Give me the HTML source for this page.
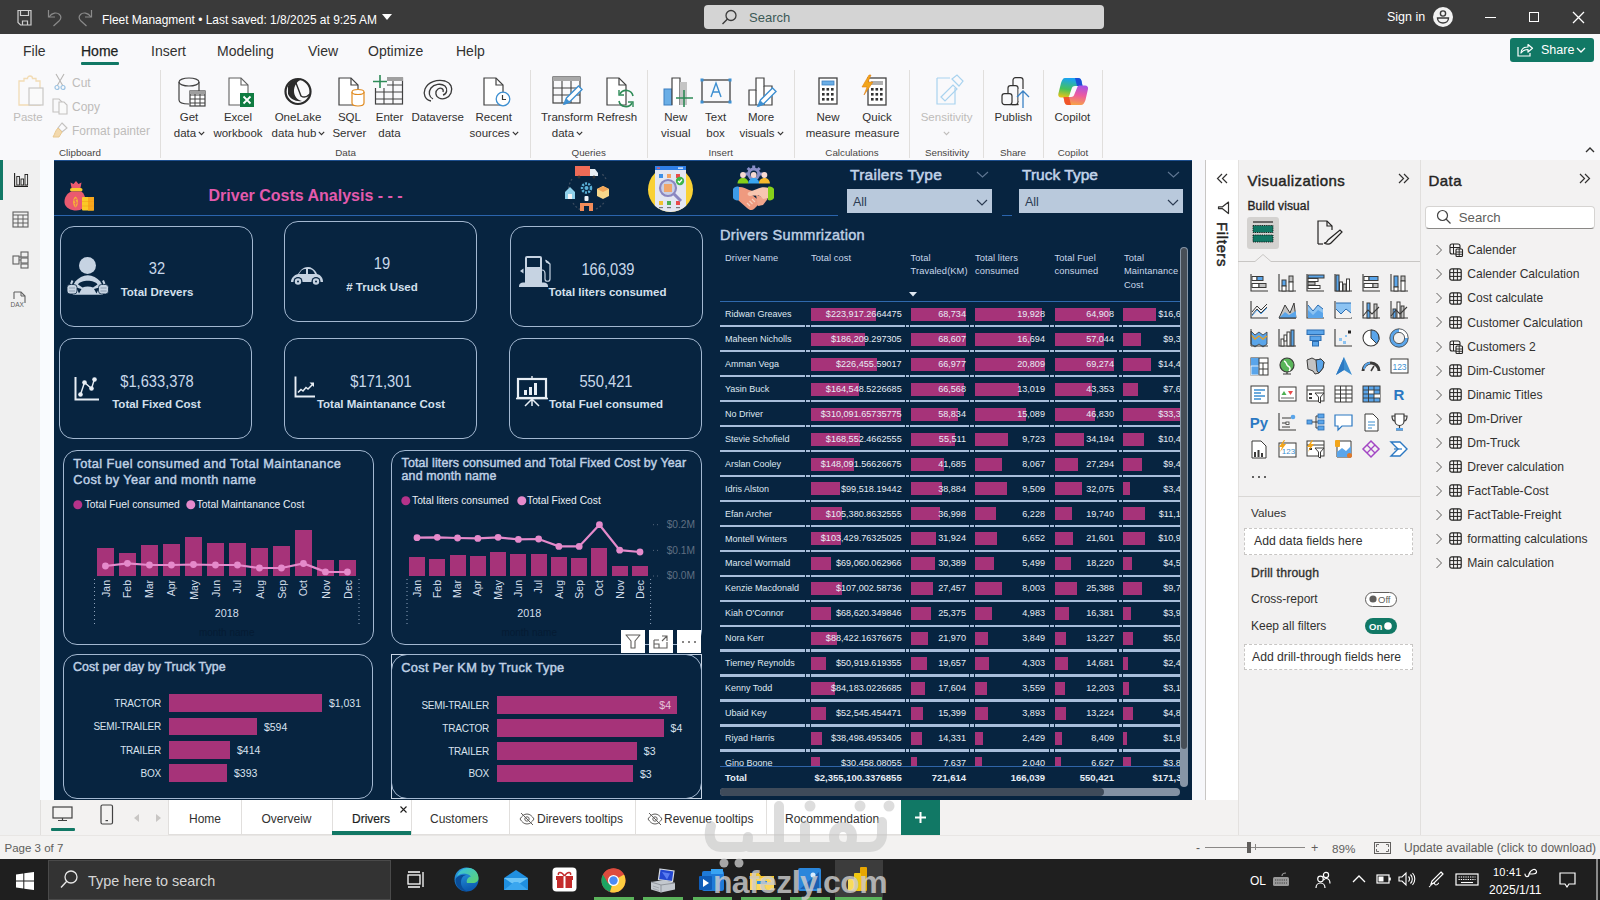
<!DOCTYPE html>
<html><head><meta charset="utf-8"><style>
html,body{margin:0;padding:0;width:1600px;height:900px;overflow:hidden;background:#fff;font-family:"Liberation Sans", sans-serif;}
svg{overflow:visible}
</style></head><body>
<div style="position:absolute;left:0px;top:34px;width:1600px;height:126px;background:#f9f9fb"></div><div style="position:absolute;left:0px;top:160px;width:40px;height:675px;background:#f0f0f0"></div><div style="position:absolute;left:0px;top:160px;width:3px;height:40px;background:#117865"></div><div style="position:absolute;left:40px;top:160px;width:14px;height:640px;background:#f9fbfe"></div><div style="position:absolute;left:54px;top:160px;width:1138px;height:640px;background:#072440"></div><div style="position:absolute;left:1192px;top:160px;width:13px;height:640px;background:#f6f7fa"></div><div style="position:absolute;left:1205px;top:160px;width:33px;height:675px;background:#ffffff;border-left:1px solid #c8c6c4;box-sizing:border-box"></div><div style="position:absolute;left:1238px;top:160px;width:182px;height:675px;background:#f2f1f1;border-left:1px solid #e3e1df;box-sizing:border-box"></div><div style="position:absolute;left:1420px;top:160px;width:180px;height:675px;background:#f3f2f2;border-left:1px solid #e1dfdd;box-sizing:border-box"></div><div style="position:absolute;left:40px;top:800px;width:128px;height:35px;background:#f3f2f1"></div><div style="position:absolute;left:40px;top:800px;width:1px;height:35px;background:#e1dfdd"></div><div style="position:absolute;left:168px;top:800px;width:772px;height:35px;background:#ffffff"></div><div style="position:absolute;left:940px;top:800px;width:265px;height:35px;background:#f3f2f1"></div><div style="position:absolute;left:168px;top:834px;width:772px;height:1px;background:#e1dfdd"></div><div style="position:absolute;left:0px;top:835px;width:1600px;height:24px;background:#f3f2f1;border-top:1px solid #e8e6e4;box-sizing:border-box"></div><div style="position:absolute;left:0px;top:859px;width:1600px;height:41px;background:#1f1f1f"></div><div style="position:absolute;left:0px;top:0px;width:1600px;height:34px;background:#3a3a3a"></div><svg style="position:absolute;left:16px;top:9px;" width="18" height="18" viewBox="0 0 18 18"><path d="M2 1.5h13v14.5H4.5L2 13.5z" fill="none" stroke="#cfcfcf" stroke-width="1.2"/><path d="M4.5 1.5v5h8v-5M6.5 16v-4h5v4" fill="none" stroke="#cfcfcf" stroke-width="1.2"/></svg><svg style="position:absolute;left:46px;top:9px;" width="18" height="18" viewBox="0 0 18 18"><path d="M2.5 1v7h6.5" fill="none" stroke="#8a8a8a" stroke-width="1.2"/><path d="M3 8C6 3.5 11 3 13.5 5.5 15.5 7.5 15 10 13 12L7.5 17" fill="none" stroke="#8a8a8a" stroke-width="1.2"/></svg><svg style="position:absolute;left:76px;top:9px;" width="18" height="18" viewBox="0 0 18 18"><path d="M15.5 1v7H9" fill="none" stroke="#8a8a8a" stroke-width="1.2"/><path d="M15 8C12 3.5 7 3 4.5 5.5 2.5 7.5 3 10 5 12l5.5 5" fill="none" stroke="#8a8a8a" stroke-width="1.2"/></svg><div style="position:absolute;left:102px;top:14.88px;font-size:11.95px;line-height:11.95px;height:11.95px;color:#ffffff;font-weight:400;text-align:left;white-space:nowrap;">Fleet Managment • Last saved: 1/8/2025 at 9:25 AM</div><svg style="position:absolute;left:382px;top:14px;" width="10" height="6" viewBox="0 0 10 6"><path d="M0 0h10L5 6z" fill="#fff"/></svg><div style="position:absolute;left:704px;top:5px;width:400px;height:24px;background:#d4d4d4;border-radius:4px"></div><svg style="position:absolute;left:721px;top:9px;" width="17" height="17" viewBox="0 0 17 17"><circle cx="10" cy="6.5" r="5" fill="none" stroke="#3b3b3b" stroke-width="1.3"/><path d="M6.5 10L1.5 15" stroke="#3b3b3b" stroke-width="1.4"/></svg><div style="position:absolute;left:749px;top:11.0px;font-size:13px;line-height:13px;height:13px;color:#3d5a57;font-weight:400;text-align:left;white-space:nowrap;">Search</div><div style="position:absolute;left:1387px;top:11.42px;font-size:12.5px;line-height:12.5px;height:12.5px;color:#ffffff;font-weight:400;text-align:left;white-space:nowrap;">Sign in</div><svg style="position:absolute;left:1432px;top:6px;" width="22" height="22" viewBox="0 0 22 22"><circle cx="11" cy="11" r="10" fill="#f2f2f2"/><circle cx="11" cy="7.5" r="2.6" fill="none" stroke="#3a3a3a" stroke-width="1.4"/><path d="M5.5 12h11c0 3.2-2.6 5-5.5 5s-5.5-1.8-5.5-5z" fill="none" stroke="#3a3a3a" stroke-width="1.4"/></svg><div style="position:absolute;left:1485px;top:17px;width:11px;height:1.2px;background:#fff"></div><div style="position:absolute;left:1529px;top:12px;width:10px;height:10px;border:1.2px solid #fff;box-sizing:border-box"></div><svg style="position:absolute;left:1572px;top:11px;" width="13" height="13" viewBox="0 0 13 13"><path d="M1 1l11 11M12 1L1 12" stroke="#fff" stroke-width="1.3"/></svg><div style="position:absolute;left:23px;top:43.65px;font-size:14px;line-height:14px;height:14px;color:#323130;font-weight:400;text-align:left;white-space:nowrap;">File</div><div style="position:absolute;left:81px;top:43.65px;font-size:14px;line-height:14px;height:14px;color:#201f1e;font-weight:400;text-align:left;white-space:nowrap;-webkit-text-stroke:0.25px #201f1e">Home</div><div style="position:absolute;left:151px;top:43.65px;font-size:14px;line-height:14px;height:14px;color:#323130;font-weight:400;text-align:left;white-space:nowrap;">Insert</div><div style="position:absolute;left:217px;top:43.65px;font-size:14px;line-height:14px;height:14px;color:#323130;font-weight:400;text-align:left;white-space:nowrap;">Modeling</div><div style="position:absolute;left:308px;top:43.65px;font-size:14px;line-height:14px;height:14px;color:#323130;font-weight:400;text-align:left;white-space:nowrap;">View</div><div style="position:absolute;left:368px;top:43.65px;font-size:14px;line-height:14px;height:14px;color:#323130;font-weight:400;text-align:left;white-space:nowrap;">Optimize</div><div style="position:absolute;left:456px;top:43.65px;font-size:14px;line-height:14px;height:14px;color:#323130;font-weight:400;text-align:left;white-space:nowrap;">Help</div><div style="position:absolute;left:81px;top:62px;width:38px;height:3px;background:#117865;border-radius:1px"></div><div style="position:absolute;left:1510px;top:38px;width:84px;height:24px;background:#117865;border-radius:3px"></div><svg style="position:absolute;left:1517px;top:43px;" width="17" height="14" viewBox="0 0 17 14"><path d="M1 4v9h12v-3" fill="none" stroke="#fff" stroke-width="1.2"/><path d="M4 10c0-4 3-6 7-6V1.5l4.5 3.8L11 9V6.5c-3 0-5 1-7 3.5z" fill="none" stroke="#fff" stroke-width="1.2" stroke-linejoin="round"/></svg><div style="position:absolute;left:1541px;top:44.42px;font-size:12.5px;line-height:12.5px;height:12.5px;color:#ffffff;font-weight:400;text-align:left;white-space:nowrap;">Share</div><svg style="position:absolute;left:1576px;top:47px;" width="10" height="6" viewBox="0 0 10 6"><path d="M1 1l4 4 4-4" fill="none" stroke="#fff" stroke-width="1.3"/></svg><div style="position:absolute;left:160px;top:70px;width:1px;height:88px;background:#e1dfdd"></div><div style="position:absolute;left:530px;top:70px;width:1px;height:88px;background:#e1dfdd"></div><div style="position:absolute;left:647px;top:70px;width:1px;height:88px;background:#e1dfdd"></div><div style="position:absolute;left:794px;top:70px;width:1px;height:88px;background:#e1dfdd"></div><div style="position:absolute;left:909px;top:70px;width:1px;height:88px;background:#e1dfdd"></div><div style="position:absolute;left:983px;top:70px;width:1px;height:88px;background:#e1dfdd"></div><div style="position:absolute;left:1043px;top:70px;width:1px;height:88px;background:#e1dfdd"></div><div style="position:absolute;left:1102px;top:70px;width:1px;height:88px;background:#e1dfdd"></div><div style="position:absolute;left:20.0px;width:120px;top:148.2px;font-size:9.8px;line-height:9.8px;height:9.8px;color:#484644;font-weight:400;text-align:center;white-space:nowrap;">Clipboard</div><div style="position:absolute;left:285.6px;width:120px;top:148.2px;font-size:9.8px;line-height:9.8px;height:9.8px;color:#484644;font-weight:400;text-align:center;white-space:nowrap;">Data</div><div style="position:absolute;left:528.7px;width:120px;top:148.2px;font-size:9.8px;line-height:9.8px;height:9.8px;color:#484644;font-weight:400;text-align:center;white-space:nowrap;">Queries</div><div style="position:absolute;left:660.7px;width:120px;top:148.2px;font-size:9.8px;line-height:9.8px;height:9.8px;color:#484644;font-weight:400;text-align:center;white-space:nowrap;">Insert</div><div style="position:absolute;left:792.0px;width:120px;top:148.2px;font-size:9.8px;line-height:9.8px;height:9.8px;color:#484644;font-weight:400;text-align:center;white-space:nowrap;">Calculations</div><div style="position:absolute;left:887.0px;width:120px;top:148.2px;font-size:9.8px;line-height:9.8px;height:9.8px;color:#484644;font-weight:400;text-align:center;white-space:nowrap;">Sensitivity</div><div style="position:absolute;left:953.0px;width:120px;top:148.2px;font-size:9.8px;line-height:9.8px;height:9.8px;color:#484644;font-weight:400;text-align:center;white-space:nowrap;">Share</div><div style="position:absolute;left:1013.0px;width:120px;top:148.2px;font-size:9.8px;line-height:9.8px;height:9.8px;color:#484644;font-weight:400;text-align:center;white-space:nowrap;">Copilot</div><svg style="position:absolute;left:16px;top:76px;" width="30" height="31" viewBox="0 0 30 31"><path d="M3 5h5v-2.5h3.5a2.5 2.5 0 0 1 5 0H20V5h4v24H3z" fill="none" stroke="#f2dcb5" stroke-width="1.3"/><rect x="13" y="12" width="14" height="17" fill="#fafafa" stroke="#c9c7c5" stroke-width="1.2"/></svg><div style="position:absolute;left:-12.0px;width:80px;top:111.97px;font-size:11.5px;line-height:11.5px;height:11.5px;color:#bebcba;font-weight:400;text-align:center;white-space:nowrap;">Paste</div><svg style="position:absolute;left:54px;top:74px;" width="12" height="16" viewBox="0 0 12 16"><path d="M2 0l7 12M10 0L3 12" stroke="#b8b6b4" stroke-width="1.1"/><circle cx="3" cy="13.5" r="2" fill="none" stroke="#9cc3e3" stroke-width="1.2"/><circle cx="9" cy="13.5" r="2" fill="none" stroke="#9cc3e3" stroke-width="1.2"/></svg><div style="position:absolute;left:72px;top:76.64px;font-size:12px;line-height:12px;height:12px;color:#bebcba;font-weight:400;text-align:left;white-space:nowrap;">Cut</div><svg style="position:absolute;left:52px;top:98px;" width="17" height="16" viewBox="0 0 17 16"><path d="M1 1h6l3 3v10H1z" fill="none" stroke="#c4c2c0" stroke-width="1.1"/><path d="M7 4h5l3 3v9H7z" fill="#fafafa" stroke="#c4c2c0" stroke-width="1.1"/></svg><div style="position:absolute;left:72px;top:100.74px;font-size:12px;line-height:12px;height:12px;color:#bebcba;font-weight:400;text-align:left;white-space:nowrap;">Copy</div><svg style="position:absolute;left:52px;top:122px;" width="17" height="16" viewBox="0 0 17 16"><path d="M10 1l5 5-5 4-4-4z" fill="none" stroke="#c4c2c0" stroke-width="1.1"/><path d="M6 6l4 4-3 5H1c2-3 2-6 5-9z" fill="#f3d9ad" stroke="#e8c890" stroke-width="1"/></svg><div style="position:absolute;left:72px;top:124.54px;font-size:12px;line-height:12px;height:12px;color:#bebcba;font-weight:400;text-align:left;white-space:nowrap;">Format painter</div><svg style="position:absolute;left:178px;top:77px;" width="28" height="30" viewBox="0 0 28 30"><path d="M1 5v18c0 2.5 4 4 10 4" fill="none" stroke="#424242" stroke-width="1.2"/><ellipse cx="11" cy="5" rx="10" ry="4" fill="none" stroke="#424242" stroke-width="1.2"/><path d="M21 5v9" stroke="#424242" stroke-width="1.2"/><rect x="12" y="14" width="15" height="15" fill="#fff" stroke="#424242" stroke-width="1.2"/><path d="M12 18h15M12 22h15M12 26h15M17 14v15M22 14v15" stroke="#424242" stroke-width="1"/><rect x="12" y="14" width="15" height="3" fill="#9e9e9e"/></svg><div style="position:absolute;left:139.0px;width:100px;top:111.77px;font-size:11.5px;line-height:11.5px;height:11.5px;color:#323130;font-weight:400;text-align:center;white-space:nowrap;">Get</div><div style="position:absolute;left:135.0px;width:100px;top:127.87px;font-size:11.5px;line-height:11.5px;height:11.5px;color:#323130;font-weight:400;text-align:center;white-space:nowrap;">data</div><svg style="position:absolute;left:198.2059659090909px;top:131px;" width="7" height="5" viewBox="0 0 7 5"><path d="M0.8 0.8L3.5 3.6L6.2 0.8" fill="none" stroke="#323130" stroke-width="1.1"/></svg><svg style="position:absolute;left:228px;top:77px;" width="27" height="30" viewBox="0 0 27 30"><path d="M1 1h12l7 7v20H1z" fill="#fff" stroke="#616161" stroke-width="1.1"/><path d="M13 1v7h7" fill="none" stroke="#616161" stroke-width="1.1"/><rect x="12" y="16" width="14" height="14" fill="#107c41"/><path d="M15.5 19.5l7 7M22.5 19.5l-7 7" stroke="#fff" stroke-width="1.8"/></svg><div style="position:absolute;left:188.0px;width:100px;top:111.77px;font-size:11.5px;line-height:11.5px;height:11.5px;color:#323130;font-weight:400;text-align:center;white-space:nowrap;">Excel</div><div style="position:absolute;left:188.0px;width:100px;top:127.87px;font-size:11.5px;line-height:11.5px;height:11.5px;color:#323130;font-weight:400;text-align:center;white-space:nowrap;">workbook</div><svg style="position:absolute;left:284px;top:77px;" width="28" height="29" viewBox="0 0 28 29"><circle cx="14" cy="14.5" r="12.5" fill="none" stroke="#2b2b2b" stroke-width="2.2"/><path d="M4 9c2-5 8-8 14-7-5 2-8 7-8 12 0 5 3 9 8 10-6 1-12-2-14-7" fill="#2b2b2b"/><path d="M12 6l5 13c3 2 6 1 9-2" fill="none" stroke="#2b2b2b" stroke-width="1.4"/></svg><div style="position:absolute;left:248.0px;width:100px;top:111.77px;font-size:11.5px;line-height:11.5px;height:11.5px;color:#323130;font-weight:400;text-align:center;white-space:nowrap;">OneLake</div><div style="position:absolute;left:244.0px;width:100px;top:127.87px;font-size:11.5px;line-height:11.5px;height:11.5px;color:#323130;font-weight:400;text-align:center;white-space:nowrap;">data hub</div><svg style="position:absolute;left:318.4119318181818px;top:131px;" width="7" height="5" viewBox="0 0 7 5"><path d="M0.8 0.8L3.5 3.6L6.2 0.8" fill="none" stroke="#323130" stroke-width="1.1"/></svg><svg style="position:absolute;left:338px;top:77px;" width="28" height="30" viewBox="0 0 28 30"><path d="M1 1h12l7 7v20H1z" fill="#fff" stroke="#424242" stroke-width="1.2"/><path d="M13 1v7h7" fill="none" stroke="#424242" stroke-width="1.2"/><path d="M14 15v11c0 1.7 2.7 3 6 3s6-1.3 6-3V15" fill="#fff" stroke="#e08a1e" stroke-width="1.2"/><ellipse cx="20" cy="15" rx="6" ry="2.5" fill="#fff" stroke="#e08a1e" stroke-width="1.2"/></svg><div style="position:absolute;left:299.4px;width:100px;top:111.77px;font-size:11.5px;line-height:11.5px;height:11.5px;color:#323130;font-weight:400;text-align:center;white-space:nowrap;">SQL</div><div style="position:absolute;left:299.4px;width:100px;top:127.87px;font-size:11.5px;line-height:11.5px;height:11.5px;color:#323130;font-weight:400;text-align:center;white-space:nowrap;">Server</div><svg style="position:absolute;left:373px;top:75px;" width="31" height="31" viewBox="0 0 31 31"><rect x="2.5" y="3" width="27" height="26" fill="none" stroke="#424242" stroke-width="1.2"/><path d="M2.5 10h27M2.5 17h27M2.5 24h27M11 3v26M20 3v26" stroke="#424242" stroke-width="1.1"/><rect x="11" y="2" width="19" height="4" fill="#a0a0a0"/><rect x="0" y="0" width="14" height="13" fill="#f9f9fb"/><path d="M7 0v13M0 6.5h14" stroke="#2e8b57" stroke-width="1.6"/></svg><div style="position:absolute;left:339.5px;width:100px;top:111.77px;font-size:11.5px;line-height:11.5px;height:11.5px;color:#323130;font-weight:400;text-align:center;white-space:nowrap;">Enter</div><div style="position:absolute;left:339.5px;width:100px;top:127.87px;font-size:11.5px;line-height:11.5px;height:11.5px;color:#323130;font-weight:400;text-align:center;white-space:nowrap;">data</div><svg style="position:absolute;left:423px;top:79px;" width="30" height="24" viewBox="0 0 30 24"><path d="M8 22C2 21 0 15 2 10 5 3 14 0 22 2c6 2 8 7 6 12-2 5-8 7-12 5-4-2-4-7-1-9 3-2 6 0 5 3" fill="none" stroke="#3a3a3a" stroke-width="1.3"/><path d="M10 20c-4-2-5-7-2-11 3-4 10-5 14-2 3 3 2 8-2 9" fill="none" stroke="#3a3a3a" stroke-width="1.3"/></svg><div style="position:absolute;left:387.7px;width:100px;top:111.77px;font-size:11.5px;line-height:11.5px;height:11.5px;color:#323130;font-weight:400;text-align:center;white-space:nowrap;">Dataverse</div><svg style="position:absolute;left:483px;top:77px;" width="28" height="30" viewBox="0 0 28 30"><path d="M1 1h12l7 7v20H1z" fill="#fff" stroke="#424242" stroke-width="1.2"/><path d="M13 1v7h7" fill="none" stroke="#424242" stroke-width="1.2"/><circle cx="20" cy="22" r="6.8" fill="#fff" stroke="#3d8fd1" stroke-width="1.3"/><path d="M19.5 18v4.5h3.5" fill="none" stroke="#3a3a3a" stroke-width="1.2"/></svg><div style="position:absolute;left:443.7px;width:100px;top:111.77px;font-size:11.5px;line-height:11.5px;height:11.5px;color:#323130;font-weight:400;text-align:center;white-space:nowrap;">Recent</div><div style="position:absolute;left:439.7px;width:100px;top:127.87px;font-size:11.5px;line-height:11.5px;height:11.5px;color:#323130;font-weight:400;text-align:center;white-space:nowrap;">sources</div><svg style="position:absolute;left:511.84133522727274px;top:131px;" width="7" height="5" viewBox="0 0 7 5"><path d="M0.8 0.8L3.5 3.6L6.2 0.8" fill="none" stroke="#323130" stroke-width="1.1"/></svg><svg style="position:absolute;left:552px;top:76px;" width="32" height="31" viewBox="0 0 32 31"><rect x="1" y="1" width="27" height="26" fill="none" stroke="#424242" stroke-width="1.2"/><rect x="1" y="1" width="27" height="4" fill="#a8a8a8"/><path d="M1 12h27M1 19h27M10 5v22M19 5v22" stroke="#424242" stroke-width="1.1"/><path d="M12 28l2.5-6 12-12 3.5 3.5-12 12z" fill="#fff" stroke="#3d8fd1" stroke-width="1.4"/><path d="M12 29l2.5-6.5 4 4z" fill="#3d8fd1"/></svg><div style="position:absolute;left:517.0px;width:100px;top:111.77px;font-size:11.5px;line-height:11.5px;height:11.5px;color:#323130;font-weight:400;text-align:center;white-space:nowrap;">Transform</div><div style="position:absolute;left:513.0px;width:100px;top:127.87px;font-size:11.5px;line-height:11.5px;height:11.5px;color:#323130;font-weight:400;text-align:center;white-space:nowrap;">data</div><svg style="position:absolute;left:576.2059659090909px;top:131px;" width="7" height="5" viewBox="0 0 7 5"><path d="M0.8 0.8L3.5 3.6L6.2 0.8" fill="none" stroke="#323130" stroke-width="1.1"/></svg><svg style="position:absolute;left:606px;top:77px;" width="28" height="30" viewBox="0 0 28 30"><path d="M1 1h12l7 7v20H1z" fill="#fff" stroke="#424242" stroke-width="1.2"/><path d="M13 1v7h7" fill="none" stroke="#424242" stroke-width="1.2"/><path d="M27 19a7 7 0 0 0-13-2M13 24a7 7 0 0 0 13 2" fill="none" stroke="#2e8b57" stroke-width="1.6"/><path d="M13 13v5h5M27 30v-5h-5" fill="none" stroke="#2e8b57" stroke-width="1.4"/></svg><div style="position:absolute;left:567.0px;width:100px;top:111.77px;font-size:11.5px;line-height:11.5px;height:11.5px;color:#323130;font-weight:400;text-align:center;white-space:nowrap;">Refresh</div><svg style="position:absolute;left:663px;top:77px;" width="30" height="31" viewBox="0 0 30 31"><rect x="1" y="12" width="8" height="16" fill="#6aaee6" stroke="#3d7fc0" stroke-width="1"/><path d="M9 28V1h8v27" fill="#fff" stroke="#424242" stroke-width="1.2"/><rect x="17" y="5" width="7" height="23" fill="#c4c4c4"/><path d="M21 13v17M13 21h17" stroke="#2e8b57" stroke-width="1.6"/></svg><div style="position:absolute;left:625.8px;width:100px;top:111.77px;font-size:11.5px;line-height:11.5px;height:11.5px;color:#323130;font-weight:400;text-align:center;white-space:nowrap;">New</div><div style="position:absolute;left:625.8px;width:100px;top:127.87px;font-size:11.5px;line-height:11.5px;height:11.5px;color:#323130;font-weight:400;text-align:center;white-space:nowrap;">visual</div><svg style="position:absolute;left:700px;top:78px;" width="32" height="26" viewBox="0 0 32 26"><rect x="2" y="2" width="28" height="22" fill="none" stroke="#424242" stroke-width="1.3"/><rect x="0.5" y="0.5" width="3" height="3" fill="#3d8fd1"/><rect x="28.5" y="0.5" width="3" height="3" fill="#3d8fd1"/><rect x="0.5" y="22.5" width="3" height="3" fill="#3d8fd1"/><rect x="28.5" y="22.5" width="3" height="3" fill="#3d8fd1"/><path d="M11 19l5-14 5 14M12.8 14h6.4" fill="none" stroke="#3d8fd1" stroke-width="1.4"/></svg><div style="position:absolute;left:665.6px;width:100px;top:111.77px;font-size:11.5px;line-height:11.5px;height:11.5px;color:#323130;font-weight:400;text-align:center;white-space:nowrap;">Text</div><div style="position:absolute;left:665.6px;width:100px;top:127.87px;font-size:11.5px;line-height:11.5px;height:11.5px;color:#323130;font-weight:400;text-align:center;white-space:nowrap;">box</div><svg style="position:absolute;left:748px;top:77px;" width="30" height="31" viewBox="0 0 30 31"><path d="M1 28V13h7V1h8v8h8v19z" fill="#fff" stroke="#424242" stroke-width="1.2"/><path d="M8 13v15M16 9v19" stroke="#424242" stroke-width="1.2"/><path d="M10 29l2.5-6 12-12 3.5 3.5-12 12z" fill="#fff" stroke="#3d8fd1" stroke-width="1.4"/><path d="M10 30l2.5-6.5 4 4z" fill="#3d8fd1"/></svg><div style="position:absolute;left:711.0px;width:100px;top:111.77px;font-size:11.5px;line-height:11.5px;height:11.5px;color:#323130;font-weight:400;text-align:center;white-space:nowrap;">More</div><div style="position:absolute;left:707.0px;width:100px;top:127.87px;font-size:11.5px;line-height:11.5px;height:11.5px;color:#323130;font-weight:400;text-align:center;white-space:nowrap;">visuals</div><svg style="position:absolute;left:776.5767045454545px;top:131px;" width="7" height="5" viewBox="0 0 7 5"><path d="M0.8 0.8L3.5 3.6L6.2 0.8" fill="none" stroke="#323130" stroke-width="1.1"/></svg><svg style="position:absolute;left:818px;top:77px;" width="20" height="28" viewBox="0 0 20 28"><rect x="1" y="1" width="18" height="26" fill="#fff" stroke="#424242" stroke-width="1.3"/><rect x="4" y="4" width="12" height="4" fill="#6aaee6" stroke="#3d7fc0" stroke-width="0.8"/><rect x="4.0" y="11" width="2.6" height="2.6" fill="#333"/><rect x="4.0" y="16" width="2.6" height="2.6" fill="#333"/><rect x="4.0" y="21" width="2.6" height="2.6" fill="#333"/><rect x="8.5" y="11" width="2.6" height="2.6" fill="#333"/><rect x="8.5" y="16" width="2.6" height="2.6" fill="#333"/><rect x="8.5" y="21" width="2.6" height="2.6" fill="#333"/><rect x="13.0" y="11" width="2.6" height="2.6" fill="#333"/><rect x="13.0" y="16" width="2.6" height="2.6" fill="#333"/><rect x="13.0" y="21" width="2.6" height="2.6" fill="#333"/></svg><div style="position:absolute;left:778.0px;width:100px;top:111.77px;font-size:11.5px;line-height:11.5px;height:11.5px;color:#323130;font-weight:400;text-align:center;white-space:nowrap;">New</div><div style="position:absolute;left:778.0px;width:100px;top:127.87px;font-size:11.5px;line-height:11.5px;height:11.5px;color:#323130;font-weight:400;text-align:center;white-space:nowrap;">measure</div><svg style="position:absolute;left:861px;top:75px;" width="26" height="31" viewBox="0 0 26 31"><rect x="7" y="3" width="18" height="27" fill="#fff" stroke="#424242" stroke-width="1.3"/><rect x="10" y="6" width="12" height="4" fill="#b0b0b0"/><rect x="10.0" y="13" width="2.6" height="2.6" fill="#333"/><rect x="10.0" y="18" width="2.6" height="2.6" fill="#333"/><rect x="10.0" y="23" width="2.6" height="2.6" fill="#333"/><rect x="14.5" y="13" width="2.6" height="2.6" fill="#333"/><rect x="14.5" y="18" width="2.6" height="2.6" fill="#333"/><rect x="14.5" y="23" width="2.6" height="2.6" fill="#333"/><rect x="19.0" y="13" width="2.6" height="2.6" fill="#333"/><rect x="19.0" y="18" width="2.6" height="2.6" fill="#333"/><rect x="19.0" y="23" width="2.6" height="2.6" fill="#333"/><path d="M8 0L1 12h5L3 20 12 7H7l3-7z" fill="#f2a51a" stroke="#e07d10" stroke-width="0.6"/></svg><div style="position:absolute;left:827.0px;width:100px;top:111.77px;font-size:11.5px;line-height:11.5px;height:11.5px;color:#323130;font-weight:400;text-align:center;white-space:nowrap;">Quick</div><div style="position:absolute;left:827.0px;width:100px;top:127.87px;font-size:11.5px;line-height:11.5px;height:11.5px;color:#323130;font-weight:400;text-align:center;white-space:nowrap;">measure</div><svg style="position:absolute;left:935px;top:74px;" width="29" height="31" viewBox="0 0 29 31"><path d="M2 4h13M2 4v26h18V14" fill="none" stroke="#a9d3ef" stroke-width="1.2"/><path d="M6 23l12-12 4 4-12 12z" fill="none" stroke="#a9d3ef" stroke-width="1.2"/><path d="M17 5l5-4 6 6-4 5z" fill="none" stroke="#a9d3ef" stroke-width="1.2"/></svg><div style="position:absolute;left:896.6px;width:100px;top:111.77px;font-size:11.5px;line-height:11.5px;height:11.5px;color:#bebcba;font-weight:400;text-align:center;white-space:nowrap;">Sensitivity</div><svg style="position:absolute;left:943px;top:131px;" width="7" height="5" viewBox="0 0 7 5"><path d="M0.8 0.8L3.5 3.6L6.2 0.8" fill="none" stroke="#bebcba" stroke-width="1.1"/></svg><svg style="position:absolute;left:1001px;top:77px;" width="29" height="31" viewBox="0 0 29 31"><rect x="12" y="0.6" width="10" height="24" rx="2.5" fill="#f9f9fb" stroke="#323130" stroke-width="1.2"/><rect x="7" y="8.6" width="10" height="19" rx="2.5" fill="#f9f9fb" stroke="#323130" stroke-width="1.2"/><rect x="1" y="16.6" width="10" height="11" rx="2.5" fill="#f9f9fb" stroke="#323130" stroke-width="1.2"/><path d="M11 27.6h8" stroke="#323130" stroke-width="1.2"/><rect x="17.6" y="12" width="10" height="20" fill="#f9f9fb"/><path d="M22 31V14M16 20l6-6 6 6" fill="none" stroke="#3b82c4" stroke-width="1.3"/></svg><div style="position:absolute;left:963.4px;width:100px;top:111.77px;font-size:11.5px;line-height:11.5px;height:11.5px;color:#323130;font-weight:400;text-align:center;white-space:nowrap;">Publish</div><svg style="position:absolute;left:1058px;top:78px;" width="31" height="27" viewBox="0 0 31 27"><defs><linearGradient id="cpg" x1="0.3" y1="0" x2="0.1" y2="1"><stop offset="0" stop-color="#1aa3f2"/><stop offset="0.55" stop-color="#46c25a"/><stop offset="1" stop-color="#f2c313"/></linearGradient><linearGradient id="cpg2" x1="0.8" y1="0" x2="0.6" y2="1"><stop offset="0" stop-color="#a552e8"/><stop offset="0.5" stop-color="#ec5aa0"/><stop offset="1" stop-color="#f7a04a"/></linearGradient></defs><path d="M7 0H20c2 0 3 1 3.5 3l1 5H17c-2 0-3 1-3.5 3L11.5 17c-.5 2-1.5 2.5-3 2.5H3c-2 0-3-1.5-2.7-3.5L3 5C4 2 5 0 7 0z" fill="url(#cpg)"/><path d="M17 0h3c2 0 3 1 3.5 3l1 5H19z" fill="#1c4fd8"/><path d="M23 27H10c-2 0-3-1-3.5-3l-1-5H13c2 0 3-1 3.5-3L19 10c.5-2 1.5-2.5 3-2.5h5c2 0 3.5 1.5 3 3.5L27.5 22c-1 3-2.5 5-4.5 5z" fill="url(#cpg2)"/><path d="M13 27h-3c-2 0-3-1-3.5-3l-1-5H11z" fill="#f0542a"/></svg><div style="position:absolute;left:1022.4000000000001px;width:100px;top:111.77px;font-size:11.5px;line-height:11.5px;height:11.5px;color:#323130;font-weight:400;text-align:center;white-space:nowrap;">Copilot</div><svg style="position:absolute;left:1585px;top:146px;" width="10" height="7" viewBox="0 0 10 7"><path d="M1 6l4-4 4 4" fill="none" stroke="#323130" stroke-width="1.4"/></svg><div style="position:absolute;left:54px;top:160px;width:1138px;height:1px;background:#1d4f8f"></div><div style="position:absolute;left:54px;top:214.5px;width:784px;height:1.4px;background:#2a64ad"></div><div style="position:absolute;left:1002px;top:214.5px;width:10px;height:1.4px;background:#2a64ad"></div><svg style="position:absolute;left:63px;top:179px;" width="34" height="34" viewBox="0 0 34 34"><path d="M7.5 3.5l3 1.5 2.5-3 2.5 3 3-1.5-1 5.5H8.5z" fill="#ea5a6f"/><rect x="7" y="9" width="12.5" height="3.6" rx="1.8" fill="#f9c92e"/><path d="M8 12.6h10.5c3 2.5 4 6 4 10 0 6-4 9-9.2 9S2 29 1.5 23.5C1.2 19 3.5 15 8 12.6z" fill="#ea5a6f"/><path d="M12.5 17.5c-3.2 2-3.2 9 0 11 3.2-2 3.2-9 0-11z" fill="#f7b733"/><path d="M14 20.8c-.5-1-2.8-1-2.8.5s2.8 1 2.8 2.5-2.3 1.5-2.8.5M12.6 19.5v8" fill="none" stroke="#ea5a6f" stroke-width="0.8"/><rect x="19" y="18" width="12" height="13.5" rx="1" fill="#fbc926"/><rect x="25" y="18" width="6" height="13.5" fill="#f8a71d"/><path d="M19 22.5h12M19 27h12" stroke="#f49b17" stroke-width="0.7" opacity="0.7"/></svg><div style="position:absolute;left:208.5px;top:188.26px;font-size:16px;line-height:16px;height:16px;color:#e35aad;font-weight:700;text-align:left;white-space:nowrap;">Driver Costs Analysis - - -</div><svg style="position:absolute;left:564px;top:165px;" width="46" height="47" viewBox="0 0 46 47"><path d="M8 14a20 20 0 0 0-3 16M9 38a20 20 0 0 0 8 7M32 44a20 20 0 0 0 9-8M42 14a20 20 0 0 0-5-6" fill="none" stroke="#3c4b5e" stroke-width="1.3" stroke-dasharray="2 2"/><rect x="11" y="1" width="15" height="10" fill="#ef6b57"/><path d="M26 4h5l3 4v3h-8z" fill="#e8eef4"/><circle cx="15" cy="12" r="1.5" fill="#333"/><circle cx="30" cy="12" r="1.5" fill="#333"/><path d="M1 27l5-5 5 5v7H1z" fill="#8fd0ea"/><rect x="4" y="29" width="4" height="5" fill="#f2f2f2"/><circle cx="22.5" cy="23" r="4.5" fill="none" stroke="#5bb2d9" stroke-width="2.5" stroke-dasharray="2 1.2"/><circle cx="22.5" cy="23" r="2" fill="#5bb2d9"/><path d="M33 24l6-3 6 3v7l-6 3-6-3z" fill="#f7d78a"/><path d="M33 24l6 3 6-3-6-3z" fill="#f2a65a"/><rect x="20.5" y="31" width="4" height="5" rx="1" fill="#eef3f8"/><path d="M16 38h13v8H16z" fill="#f28c5a"/><path d="M20 41h5v5h-5z" fill="#072440"/></svg><svg style="position:absolute;left:647px;top:165px;" width="47" height="47" viewBox="0 0 47 47"><defs><clipPath id="ycc"><circle cx="23.5" cy="24.5" r="22.5"/><rect x="0" y="0" width="47" height="24"/></clipPath></defs><circle cx="23.5" cy="24.5" r="22.5" fill="#f9d135"/><g clip-path="url(#ycc)"><path d="M8 1h31v46H8z" fill="#e4e7f2"/></g><rect x="8" y="1" width="31" height="4" fill="#2f7fe6"/><rect x="31" y="2.5" width="5" height="1.2" fill="#fff"/><rect x="10" y="2.5" width="3" height="1.2" fill="#f55"/><rect x="12" y="9" width="4" height="4" fill="#3d8fe6"/><rect x="20" y="9" width="4" height="4" fill="#f4a261"/><rect x="29" y="9" width="4" height="4" fill="#e84a4a"/><rect x="12" y="36" width="4" height="4" fill="#f2c12e"/><rect x="20" y="36" width="4" height="4" fill="#4caf50"/><rect x="29" y="36" width="4" height="4" fill="#e84a4a"/><rect x="12" y="42" width="4" height="1.2" fill="#777"/><rect x="20" y="42" width="4" height="1.2" fill="#777"/><rect x="29" y="42" width="4" height="1.2" fill="#777"/><circle cx="21" cy="23" r="8" fill="#c9cfe6" stroke="#8a87c0" stroke-width="2.2"/><rect x="17" y="19" width="8" height="8" fill="#f0a66b"/><path d="M27 29l7 7" stroke="#8a87c0" stroke-width="3"/><circle cx="33" cy="16" r="4.2" fill="#3fb54a"/><path d="M31 16l1.5 1.5 2.5-3" fill="none" stroke="#fff" stroke-width="1.2"/></svg><svg style="position:absolute;left:732px;top:165px;" width="43" height="47" viewBox="0 0 43 47"><circle cx="21.7" cy="9" r="6.5" fill="#8a8fc8"/><rect x="20.2" y="0.5" width="3" height="3.5" fill="#8a8fc8" transform="rotate(-90 21.7 9)"/><rect x="20.2" y="0.5" width="3" height="3.5" fill="#8a8fc8" transform="rotate(-45 21.7 9)"/><rect x="20.2" y="0.5" width="3" height="3.5" fill="#8a8fc8" transform="rotate(0 21.7 9)"/><rect x="20.2" y="0.5" width="3" height="3.5" fill="#8a8fc8" transform="rotate(45 21.7 9)"/><rect x="20.2" y="0.5" width="3" height="3.5" fill="#8a8fc8" transform="rotate(90 21.7 9)"/><circle cx="21.7" cy="9" r="3.5" fill="#072440"/><circle cx="11" cy="10" r="2.9" fill="#f6d9d2"/><circle cx="21.7" cy="10" r="2.9" fill="#f6d9d2"/><circle cx="32.4" cy="10" r="2.9" fill="#f6d9d2"/><path d="M5.5 18.5c0-3.5 2.5-5.5 5.5-5.5s5.5 2 5.5 5.5z" fill="#86d01a"/><path d="M16.2 18.5c0-3.5 2.5-5.5 5.5-5.5s5.5 2 5.5 5.5z" fill="#3aa6f0"/><path d="M26.9 18.5c0-3.5 2.5-5.5 5.5-5.5s5.5 2 5.5 5.5z" fill="#f5b82e"/><path d="M6 22C10 21.5 14 23 17 25L25 27C27 28 27 31 25 31L20 30L29 37C30 39 28 41 26 40L22 44C20 46 17 45 15 43L6 35Z" fill="#ef9a7f"/><path d="M24 30L36 33.5L31 40L26 41Z" fill="#f0a58c"/><path d="M37 23C33 22 29 22 25 24L17 27C15 28 15 31 18 31L24 30C27 30 30 32 31 34L36 33Z" fill="#f8c6b0"/><path d="M15 38l3 3M17.5 36l3 3M20 34l3 3" stroke="#f8d0bd" stroke-width="1.2"/><path d="M1 24C2 22 5 21 7 22L7 35C5 36 2 35 1 33Z" fill="#3d9ae8"/><path d="M42 24C41 22 38 21 36 22L36 35C38 36 41 35 42 33Z" fill="#86d01a"/></svg><div style="position:absolute;left:850px;top:166.88px;font-size:15.5px;line-height:15.5px;height:15.5px;color:#c2d4ea;font-weight:400;text-align:left;white-space:nowrap;letter-spacing:0.252px;-webkit-text-stroke:0.5px #c2d4ea">Trailers Type</div><svg style="position:absolute;left:976px;top:171px;" width="13" height="7" viewBox="0 0 13 7"><path d="M1 1l5.5 5L12 1" fill="none" stroke="#5f7692" stroke-width="1.1"/></svg><div style="position:absolute;left:847px;top:189px;width:145px;height:24px;background:#b9c9dc"></div><div style="position:absolute;left:853px;top:196.42px;font-size:12.5px;line-height:12.5px;height:12.5px;color:#2b3b52;font-weight:400;text-align:left;white-space:nowrap;">All</div><svg style="position:absolute;left:976px;top:199px;" width="12" height="7" viewBox="0 0 12 7"><path d="M1 1l5 5 5-5" fill="none" stroke="#2b3b52" stroke-width="1.2"/></svg><div style="position:absolute;left:1022px;top:166.88px;font-size:15.5px;line-height:15.5px;height:15.5px;color:#c2d4ea;font-weight:400;text-align:left;white-space:nowrap;letter-spacing:0.020px;-webkit-text-stroke:0.5px #c2d4ea">Truck Type</div><svg style="position:absolute;left:1167px;top:171px;" width="13" height="7" viewBox="0 0 13 7"><path d="M1 1l5.5 5L12 1" fill="none" stroke="#5f7692" stroke-width="1.1"/></svg><div style="position:absolute;left:1019px;top:189px;width:164px;height:24px;background:#b9c9dc"></div><div style="position:absolute;left:1025px;top:196.42px;font-size:12.5px;line-height:12.5px;height:12.5px;color:#2b3b52;font-weight:400;text-align:left;white-space:nowrap;">All</div><svg style="position:absolute;left:1167px;top:199px;" width="12" height="7" viewBox="0 0 12 7"><path d="M1 1l5 5 5-5" fill="none" stroke="#2b3b52" stroke-width="1.2"/></svg><div style="position:absolute;left:60px;top:226px;width:193px;height:101px;border:1.3px solid #a3b8d1;border-radius:14px;box-sizing:border-box"></div><div style="position:absolute;left:57.0px;width:200px;top:261.43px;font-size:15.8px;line-height:15.8px;height:15.8px;color:#c9d8ea;font-weight:400;text-align:center;white-space:nowrap;transform:scaleX(0.93);transform-origin:50% 50%">32</div><div style="position:absolute;left:57.0px;width:200px;top:287.27px;font-size:11.5px;line-height:11.5px;height:11.5px;color:#d4e0ed;font-weight:700;text-align:center;white-space:nowrap;">Total Drevers</div><div style="position:absolute;left:284px;top:221px;width:193px;height:101px;border:1.3px solid #a3b8d1;border-radius:14px;box-sizing:border-box"></div><div style="position:absolute;left:282.0px;width:200px;top:256.33px;font-size:15.8px;line-height:15.8px;height:15.8px;color:#c9d8ea;font-weight:400;text-align:center;white-space:nowrap;transform:scaleX(0.93);transform-origin:50% 50%">19</div><div style="position:absolute;left:282.0px;width:200px;top:281.97px;font-size:11.5px;line-height:11.5px;height:11.5px;color:#d4e0ed;font-weight:700;text-align:center;white-space:nowrap;"># Truck Used</div><div style="position:absolute;left:510px;top:226px;width:193px;height:101px;border:1.3px solid #a3b8d1;border-radius:14px;box-sizing:border-box"></div><div style="position:absolute;left:507.5px;width:200px;top:261.63px;font-size:15.8px;line-height:15.8px;height:15.8px;color:#c9d8ea;font-weight:400;text-align:center;white-space:nowrap;transform:scaleX(0.93);transform-origin:50% 50%">166,039</div><div style="position:absolute;left:507.5px;width:200px;top:287.27px;font-size:11.5px;line-height:11.5px;height:11.5px;color:#d4e0ed;font-weight:700;text-align:center;white-space:nowrap;">Total liters consumed</div><div style="position:absolute;left:59px;top:338px;width:193px;height:101px;border:1.3px solid #a3b8d1;border-radius:14px;box-sizing:border-box"></div><div style="position:absolute;left:56.5px;width:200px;top:373.63px;font-size:15.8px;line-height:15.8px;height:15.8px;color:#c9d8ea;font-weight:400;text-align:center;white-space:nowrap;transform:scaleX(0.93);transform-origin:50% 50%">$1,633,378</div><div style="position:absolute;left:56.5px;width:200px;top:398.97px;font-size:11.5px;line-height:11.5px;height:11.5px;color:#d4e0ed;font-weight:700;text-align:center;white-space:nowrap;">Total Fixed Cost</div><div style="position:absolute;left:284px;top:338px;width:193px;height:101px;border:1.3px solid #a3b8d1;border-radius:14px;box-sizing:border-box"></div><div style="position:absolute;left:281.0px;width:200px;top:373.63px;font-size:15.8px;line-height:15.8px;height:15.8px;color:#c9d8ea;font-weight:400;text-align:center;white-space:nowrap;transform:scaleX(0.93);transform-origin:50% 50%">$171,301</div><div style="position:absolute;left:281.0px;width:200px;top:398.97px;font-size:11.5px;line-height:11.5px;height:11.5px;color:#d4e0ed;font-weight:700;text-align:center;white-space:nowrap;">Total Maintanance Cost</div><div style="position:absolute;left:509px;top:338px;width:193px;height:101px;border:1.3px solid #a3b8d1;border-radius:14px;box-sizing:border-box"></div><div style="position:absolute;left:506.0px;width:200px;top:373.63px;font-size:15.8px;line-height:15.8px;height:15.8px;color:#c9d8ea;font-weight:400;text-align:center;white-space:nowrap;transform:scaleX(0.93);transform-origin:50% 50%">550,421</div><div style="position:absolute;left:506.0px;width:200px;top:398.87px;font-size:11.5px;line-height:11.5px;height:11.5px;color:#d4e0ed;font-weight:700;text-align:center;white-space:nowrap;">Total Fuel consumed</div><svg style="position:absolute;left:66px;top:257px;" width="43" height="39" viewBox="0 0 43 39"><circle cx="21.5" cy="8.5" r="8.5" fill="#c6d3e2"/><path d="M6.8 37.7A15.5 15.5 0 1 1 36.8 37.7Z" fill="#c6d3e2"/><path d="M12 27.5C15 22.5 28.5 22.5 31.5 27.5L27 30.5C24 29 19.5 29 16.5 30.5Z" fill="#072440"/><path d="M10.3 30.5L15.5 32L13 36.5ZM33.3 30.5L28 32L30.5 36.5Z" fill="#072440"/><rect x="1" y="27.5" width="10" height="9.5" rx="3" fill="#c6d3e2" stroke="#072440" stroke-width="0.8"/><rect x="32.5" y="27.5" width="10" height="9.5" rx="3" fill="#c6d3e2" stroke="#072440" stroke-width="0.8"/><path d="M3 31h6M3 34h6M34.5 31h6M34.5 34h6" stroke="#8796aa" stroke-width="0.9"/><path d="M6.5 23.5l-1.5 3.5M37 23.5l1.5 3.5" stroke="#c6d3e2" stroke-width="2"/></svg><svg style="position:absolute;left:290px;top:267px;" width="34" height="19" viewBox="0 0 34 19"><path d="M1 15c0-4 3-7 7-8l3-4c2-2 4-3 7-3s6 2 8 5l1 2c4 1 6 4 6 8z" fill="#c6d3e2"/><path d="M9 7l2-3c1-1 2-2 4-2h1v5zM18 2h1c2 0 4 1 5 3l1 2h-7z" fill="#072440"/><circle cx="8" cy="14.5" r="4.5" fill="#072440"/><circle cx="8" cy="14.5" r="3.2" fill="#c6d3e2"/><circle cx="8" cy="14.5" r="1" fill="#072440"/><circle cx="26" cy="14.5" r="4.5" fill="#072440"/><circle cx="26" cy="14.5" r="3.2" fill="#c6d3e2"/><circle cx="26" cy="14.5" r="1" fill="#072440"/></svg><svg style="position:absolute;left:518px;top:255px;" width="34" height="33" viewBox="0 0 34 33"><rect x="7" y="1" width="17" height="29" rx="2" fill="#c6d3e2"/><rect x="9" y="3" width="13" height="9" fill="#072440"/><path d="M1 31c0-2 2-3.5 4-3.5h21c2 0 4 1.5 4 3.5v1H1z" fill="#c6d3e2"/><path d="M24 15c2.5 0 3 1.5 3 4v5c0 3 5 3 5 0V9l-4-3.5" fill="none" stroke="#c6d3e2" stroke-width="1.2"/><path d="M27 4.5l4 2.5 1 2.5-4-2z" fill="#c6d3e2"/><path d="M2 16l3.5-2.5v5z" fill="#c6d3e2"/></svg><svg style="position:absolute;left:74px;top:375px;" width="25" height="26" viewBox="0 0 25 26"><path d="M1.5 2v22.5H25" fill="none" stroke="#e8eef5" stroke-width="2"/><path d="M6.5 19.5l4-12 7 6 3-9.5" fill="none" stroke="#e8eef5" stroke-width="1.4"/><circle cx="6.5" cy="19.5" r="2.3" fill="#e8eef5"/><circle cx="10.5" cy="7.5" r="2.3" fill="#e8eef5"/><circle cx="17.5" cy="13.5" r="2.3" fill="#e8eef5"/><circle cx="20.5" cy="4.5" r="2.3" fill="#e8eef5"/></svg><svg style="position:absolute;left:294px;top:375px;" width="24" height="24" viewBox="0 0 24 24"><path d="M1.5 1.5v20H21" fill="none" stroke="#e8eef5" stroke-width="1.9"/><path d="M4 17.5l3-3 2 1.5 3-3.5 2 1.5 5-5" fill="none" stroke="#e8eef5" stroke-width="1.5"/><path d="M15.5 7.5h4.5v4.5z" fill="#e8eef5"/></svg><svg style="position:absolute;left:516px;top:376px;" width="32" height="31" viewBox="0 0 32 31"><path d="M16 0v3" stroke="#e8eef5" stroke-width="1.4"/><rect x="2" y="3" width="28" height="19" fill="none" stroke="#e8eef5" stroke-width="2.2"/><path d="M0 22.5h32" stroke="#e8eef5" stroke-width="1.6"/><rect x="8" y="14" width="3" height="5" fill="#e8eef5"/><rect x="13" y="11" width="3" height="8" fill="#e8eef5"/><rect x="18" y="7" width="3" height="12" fill="#e8eef5"/><path d="M16 23v7M16 23l-7 7M16 23l7 7" stroke="#e8eef5" stroke-width="1.5"/></svg><div style="position:absolute;left:63px;top:450px;width:311px;height:195px;border:1.3px solid #a3b8d1;border-radius:14px;box-sizing:border-box"></div><div style="position:absolute;left:73.3px;top:458.26px;font-size:12.8px;line-height:12.8px;height:12.8px;color:#bfd0e4;font-weight:400;text-align:left;white-space:nowrap;letter-spacing:0.434px;-webkit-text-stroke:0.45px #bfd0e4">Total Fuel consumed and Total Maintanance</div><div style="position:absolute;left:73.3px;top:474.16px;font-size:12.8px;line-height:12.8px;height:12.8px;color:#bfd0e4;font-weight:400;text-align:left;white-space:nowrap;letter-spacing:0.400px;-webkit-text-stroke:0.45px #bfd0e4">Cost by Year and month name</div><svg style="position:absolute;left:73px;top:500px;" width="10" height="10" viewBox="0 0 10 10"><circle cx="4.8" cy="4.8" r="4.5" fill="#b5338a"/></svg><div style="position:absolute;left:84.7px;top:499.58px;font-size:10.3px;line-height:10.3px;height:10.3px;color:#e9eff6;font-weight:400;text-align:left;white-space:nowrap;">Total Fuel consumed</div><svg style="position:absolute;left:185.5px;top:500px;" width="10" height="10" viewBox="0 0 10 10"><circle cx="4.8" cy="4.8" r="4.5" fill="#e58acb"/></svg><div style="position:absolute;left:196.7px;top:499.58px;font-size:10.3px;line-height:10.3px;height:10.3px;color:#e9eff6;font-weight:400;text-align:left;white-space:nowrap;">Total Maintanance Cost</div><div style="position:absolute;left:96.7px;top:548px;width:17.5px;height:28px;background:#a63379"></div><div style="position:absolute;left:118.7px;top:552.7px;width:17.5px;height:23.3px;background:#a63379"></div><div style="position:absolute;left:140.7px;top:545px;width:17.5px;height:31px;background:#a63379"></div><div style="position:absolute;left:162.7px;top:544.3px;width:17.5px;height:31.7px;background:#a63379"></div><div style="position:absolute;left:184.7px;top:537px;width:17.5px;height:39px;background:#a63379"></div><div style="position:absolute;left:206.7px;top:543.3px;width:17.5px;height:32.7px;background:#a63379"></div><div style="position:absolute;left:228.7px;top:543px;width:17.5px;height:33px;background:#a63379"></div><div style="position:absolute;left:250.7px;top:548px;width:17.5px;height:28px;background:#a63379"></div><div style="position:absolute;left:272.7px;top:546.4px;width:17.5px;height:29.6px;background:#a63379"></div><div style="position:absolute;left:294.7px;top:529.7px;width:17.5px;height:46.3px;background:#a63379"></div><div style="position:absolute;left:316.7px;top:559.6px;width:17.5px;height:16.4px;background:#a63379"></div><div style="position:absolute;left:338.7px;top:559.6px;width:17.5px;height:16.4px;background:#a63379"></div><svg style="position:absolute;left:0px;top:0px;pointer-events:none" width="1600" height="900" viewBox="0 0 1600 900"><polyline points="105.45,566.00 127.45,563.30 149.45,565.00 171.45,565.00 193.45,564.50 215.45,565.00 237.45,565.00 259.45,568.00 281.45,568.00 303.45,563.50 325.45,571.90 347.45,572.00" fill="none" stroke="#e58acb" stroke-width="2.2"/><circle cx="105.45" cy="566.00" r="3.4" fill="#e58acb"/><circle cx="127.45" cy="563.30" r="3.4" fill="#e58acb"/><circle cx="149.45" cy="565.00" r="3.4" fill="#e58acb"/><circle cx="171.45" cy="565.00" r="3.4" fill="#e58acb"/><circle cx="193.45" cy="564.50" r="3.4" fill="#e58acb"/><circle cx="215.45" cy="565.00" r="3.4" fill="#e58acb"/><circle cx="237.45" cy="565.00" r="3.4" fill="#e58acb"/><circle cx="259.45" cy="568.00" r="3.4" fill="#e58acb"/><circle cx="281.45" cy="568.00" r="3.4" fill="#e58acb"/><circle cx="303.45" cy="563.50" r="3.4" fill="#e58acb"/><circle cx="325.45" cy="571.90" r="3.4" fill="#e58acb"/><circle cx="347.45" cy="572.00" r="3.4" fill="#e58acb"/></svg><div style="position:absolute;left:75.45px;top:580.00px;width:60px;height:0;"><div style="position:absolute;right:0;top:0;transform-origin:100% 0;transform:translate(-30px,0) rotate(-90deg) translate(0,-6px);font-size:10.5px;line-height:12px;color:#d3deea;white-space:nowrap">Jan</div></div><div style="position:absolute;left:97.45px;top:580.00px;width:60px;height:0;"><div style="position:absolute;right:0;top:0;transform-origin:100% 0;transform:translate(-30px,0) rotate(-90deg) translate(0,-6px);font-size:10.5px;line-height:12px;color:#d3deea;white-space:nowrap">Feb</div></div><div style="position:absolute;left:119.45px;top:580.00px;width:60px;height:0;"><div style="position:absolute;right:0;top:0;transform-origin:100% 0;transform:translate(-30px,0) rotate(-90deg) translate(0,-6px);font-size:10.5px;line-height:12px;color:#d3deea;white-space:nowrap">Mar</div></div><div style="position:absolute;left:141.45px;top:580.00px;width:60px;height:0;"><div style="position:absolute;right:0;top:0;transform-origin:100% 0;transform:translate(-30px,0) rotate(-90deg) translate(0,-6px);font-size:10.5px;line-height:12px;color:#d3deea;white-space:nowrap">Apr</div></div><div style="position:absolute;left:163.45px;top:580.00px;width:60px;height:0;"><div style="position:absolute;right:0;top:0;transform-origin:100% 0;transform:translate(-30px,0) rotate(-90deg) translate(0,-6px);font-size:10.5px;line-height:12px;color:#d3deea;white-space:nowrap">May</div></div><div style="position:absolute;left:185.45px;top:580.00px;width:60px;height:0;"><div style="position:absolute;right:0;top:0;transform-origin:100% 0;transform:translate(-30px,0) rotate(-90deg) translate(0,-6px);font-size:10.5px;line-height:12px;color:#d3deea;white-space:nowrap">Jun</div></div><div style="position:absolute;left:207.45px;top:580.00px;width:60px;height:0;"><div style="position:absolute;right:0;top:0;transform-origin:100% 0;transform:translate(-30px,0) rotate(-90deg) translate(0,-6px);font-size:10.5px;line-height:12px;color:#d3deea;white-space:nowrap">Jul</div></div><div style="position:absolute;left:229.45px;top:580.00px;width:60px;height:0;"><div style="position:absolute;right:0;top:0;transform-origin:100% 0;transform:translate(-30px,0) rotate(-90deg) translate(0,-6px);font-size:10.5px;line-height:12px;color:#d3deea;white-space:nowrap">Aug</div></div><div style="position:absolute;left:251.45px;top:580.00px;width:60px;height:0;"><div style="position:absolute;right:0;top:0;transform-origin:100% 0;transform:translate(-30px,0) rotate(-90deg) translate(0,-6px);font-size:10.5px;line-height:12px;color:#d3deea;white-space:nowrap">Sep</div></div><div style="position:absolute;left:273.45px;top:580.00px;width:60px;height:0;"><div style="position:absolute;right:0;top:0;transform-origin:100% 0;transform:translate(-30px,0) rotate(-90deg) translate(0,-6px);font-size:10.5px;line-height:12px;color:#d3deea;white-space:nowrap">Oct</div></div><div style="position:absolute;left:295.45px;top:580.00px;width:60px;height:0;"><div style="position:absolute;right:0;top:0;transform-origin:100% 0;transform:translate(-30px,0) rotate(-90deg) translate(0,-6px);font-size:10.5px;line-height:12px;color:#d3deea;white-space:nowrap">Nov</div></div><div style="position:absolute;left:317.45px;top:580.00px;width:60px;height:0;"><div style="position:absolute;right:0;top:0;transform-origin:100% 0;transform:translate(-30px,0) rotate(-90deg) translate(0,-6px);font-size:10.5px;line-height:12px;color:#d3deea;white-space:nowrap">Dec</div></div><svg style="position:absolute;left:0px;top:0px;pointer-events:none" width="1600" height="900" viewBox="0 0 1600 900"><path d="M94.5 579V624M359 579V624" stroke="#8fa3bb" stroke-width="1" stroke-dasharray="1 3"/></svg><div style="position:absolute;left:196.7px;width:60px;top:607.56px;font-size:10.8px;line-height:10.8px;height:10.8px;color:#d3deea;font-weight:400;text-align:center;white-space:nowrap;">2018</div><div style="position:absolute;left:176.7px;width:100px;top:627.53px;font-size:10px;line-height:10px;height:10px;color:#051b33;font-weight:400;text-align:center;white-space:nowrap;">month name</div><div style="position:absolute;left:391px;top:450px;width:311px;height:195px;border:1.3px solid #a3b8d1;border-radius:14px;box-sizing:border-box"></div><div style="position:absolute;left:401.6px;top:456.5px;font-size:12.4px;line-height:12.4px;height:12.4px;color:#bfd0e4;font-weight:400;text-align:left;white-space:nowrap;letter-spacing:0.145px;-webkit-text-stroke:0.45px #bfd0e4">Total liters consumed and Total Fixed Cost by Year</div><div style="position:absolute;left:401.6px;top:470.0px;font-size:12.4px;line-height:12.4px;height:12.4px;color:#bfd0e4;font-weight:400;text-align:left;white-space:nowrap;letter-spacing:0.139px;-webkit-text-stroke:0.45px #bfd0e4">and month name</div><svg style="position:absolute;left:401px;top:496px;" width="10" height="10" viewBox="0 0 10 10"><circle cx="4.8" cy="4.8" r="4.5" fill="#b5338a"/></svg><div style="position:absolute;left:412px;top:496.28px;font-size:10.3px;line-height:10.3px;height:10.3px;color:#e9eff6;font-weight:400;text-align:left;white-space:nowrap;">Total liters consumed</div><svg style="position:absolute;left:516.5px;top:496px;" width="10" height="10" viewBox="0 0 10 10"><circle cx="4.8" cy="4.8" r="4.5" fill="#e58acb"/></svg><div style="position:absolute;left:527px;top:496.28px;font-size:10.3px;line-height:10.3px;height:10.3px;color:#e9eff6;font-weight:400;text-align:left;white-space:nowrap;">Total Fixed Cost</div><div style="position:absolute;left:409.0px;top:556.6px;width:16px;height:19.4px;background:#a63379"></div><div style="position:absolute;left:429.27px;top:558.9px;width:16px;height:17.1px;background:#a63379"></div><div style="position:absolute;left:449.54px;top:554.8px;width:16px;height:21.2px;background:#a63379"></div><div style="position:absolute;left:469.81px;top:555.5px;width:16px;height:20.5px;background:#a63379"></div><div style="position:absolute;left:490.08px;top:551.6px;width:16px;height:24.4px;background:#a63379"></div><div style="position:absolute;left:510.35px;top:553.9px;width:16px;height:22.1px;background:#a63379"></div><div style="position:absolute;left:530.62px;top:554px;width:16px;height:22px;background:#a63379"></div><div style="position:absolute;left:550.89px;top:556.6px;width:16px;height:19.4px;background:#a63379"></div><div style="position:absolute;left:571.16px;top:557.8px;width:16px;height:18.2px;background:#a63379"></div><div style="position:absolute;left:591.43px;top:547.5px;width:16px;height:28.5px;background:#a63379"></div><div style="position:absolute;left:611.7px;top:565.7px;width:16px;height:10.3px;background:#a63379"></div><div style="position:absolute;left:631.97px;top:565.7px;width:16px;height:10.3px;background:#a63379"></div><svg style="position:absolute;left:0px;top:0px;pointer-events:none" width="1600" height="900" viewBox="0 0 1600 900"><polyline points="417.00,537.70 437.27,537.30 457.54,538.00 477.81,538.40 498.08,537.30 518.35,539.40 538.62,539.00 558.89,546.40 579.16,546.40 599.43,524.70 619.70,550.20 639.97,552.00" fill="none" stroke="#e58acb" stroke-width="2.2"/><circle cx="417.00" cy="537.70" r="3.4" fill="#e58acb"/><circle cx="437.27" cy="537.30" r="3.4" fill="#e58acb"/><circle cx="457.54" cy="538.00" r="3.4" fill="#e58acb"/><circle cx="477.81" cy="538.40" r="3.4" fill="#e58acb"/><circle cx="498.08" cy="537.30" r="3.4" fill="#e58acb"/><circle cx="518.35" cy="539.40" r="3.4" fill="#e58acb"/><circle cx="538.62" cy="539.00" r="3.4" fill="#e58acb"/><circle cx="558.89" cy="546.40" r="3.4" fill="#e58acb"/><circle cx="579.16" cy="546.40" r="3.4" fill="#e58acb"/><circle cx="599.43" cy="524.70" r="3.4" fill="#e58acb"/><circle cx="619.70" cy="550.20" r="3.4" fill="#e58acb"/><circle cx="639.97" cy="552.00" r="3.4" fill="#e58acb"/></svg><div style="position:absolute;left:387.00px;top:580.00px;width:60px;height:0;"><div style="position:absolute;right:0;top:0;transform-origin:100% 0;transform:translate(-30px,0) rotate(-90deg) translate(0,-6px);font-size:10.5px;line-height:12px;color:#d3deea;white-space:nowrap">Jan</div></div><div style="position:absolute;left:407.27px;top:580.00px;width:60px;height:0;"><div style="position:absolute;right:0;top:0;transform-origin:100% 0;transform:translate(-30px,0) rotate(-90deg) translate(0,-6px);font-size:10.5px;line-height:12px;color:#d3deea;white-space:nowrap">Feb</div></div><div style="position:absolute;left:427.54px;top:580.00px;width:60px;height:0;"><div style="position:absolute;right:0;top:0;transform-origin:100% 0;transform:translate(-30px,0) rotate(-90deg) translate(0,-6px);font-size:10.5px;line-height:12px;color:#d3deea;white-space:nowrap">Mar</div></div><div style="position:absolute;left:447.81px;top:580.00px;width:60px;height:0;"><div style="position:absolute;right:0;top:0;transform-origin:100% 0;transform:translate(-30px,0) rotate(-90deg) translate(0,-6px);font-size:10.5px;line-height:12px;color:#d3deea;white-space:nowrap">Apr</div></div><div style="position:absolute;left:468.08px;top:580.00px;width:60px;height:0;"><div style="position:absolute;right:0;top:0;transform-origin:100% 0;transform:translate(-30px,0) rotate(-90deg) translate(0,-6px);font-size:10.5px;line-height:12px;color:#d3deea;white-space:nowrap">May</div></div><div style="position:absolute;left:488.35px;top:580.00px;width:60px;height:0;"><div style="position:absolute;right:0;top:0;transform-origin:100% 0;transform:translate(-30px,0) rotate(-90deg) translate(0,-6px);font-size:10.5px;line-height:12px;color:#d3deea;white-space:nowrap">Jun</div></div><div style="position:absolute;left:508.62px;top:580.00px;width:60px;height:0;"><div style="position:absolute;right:0;top:0;transform-origin:100% 0;transform:translate(-30px,0) rotate(-90deg) translate(0,-6px);font-size:10.5px;line-height:12px;color:#d3deea;white-space:nowrap">Jul</div></div><div style="position:absolute;left:528.89px;top:580.00px;width:60px;height:0;"><div style="position:absolute;right:0;top:0;transform-origin:100% 0;transform:translate(-30px,0) rotate(-90deg) translate(0,-6px);font-size:10.5px;line-height:12px;color:#d3deea;white-space:nowrap">Aug</div></div><div style="position:absolute;left:549.16px;top:580.00px;width:60px;height:0;"><div style="position:absolute;right:0;top:0;transform-origin:100% 0;transform:translate(-30px,0) rotate(-90deg) translate(0,-6px);font-size:10.5px;line-height:12px;color:#d3deea;white-space:nowrap">Sep</div></div><div style="position:absolute;left:569.43px;top:580.00px;width:60px;height:0;"><div style="position:absolute;right:0;top:0;transform-origin:100% 0;transform:translate(-30px,0) rotate(-90deg) translate(0,-6px);font-size:10.5px;line-height:12px;color:#d3deea;white-space:nowrap">Oct</div></div><div style="position:absolute;left:589.70px;top:580.00px;width:60px;height:0;"><div style="position:absolute;right:0;top:0;transform-origin:100% 0;transform:translate(-30px,0) rotate(-90deg) translate(0,-6px);font-size:10.5px;line-height:12px;color:#d3deea;white-space:nowrap">Nov</div></div><div style="position:absolute;left:609.97px;top:580.00px;width:60px;height:0;"><div style="position:absolute;right:0;top:0;transform-origin:100% 0;transform:translate(-30px,0) rotate(-90deg) translate(0,-6px);font-size:10.5px;line-height:12px;color:#d3deea;white-space:nowrap">Dec</div></div><svg style="position:absolute;left:0px;top:0px;pointer-events:none" width="1600" height="900" viewBox="0 0 1600 900"><path d="M407 579V624M650.6 579V624" stroke="#8fa3bb" stroke-width="1" stroke-dasharray="1 3"/><path d="M653 524.7h8M653 550.4h8M653 576h8" stroke="#56677c" stroke-width="1" stroke-dasharray="1 3"/></svg><div style="position:absolute;left:635px;width:60px;top:519.87px;font-size:10.2px;line-height:10.2px;height:10.2px;color:#5f6f82;font-weight:400;text-align:right;white-space:nowrap;">$0.2M</div><div style="position:absolute;left:635px;width:60px;top:545.57px;font-size:10.2px;line-height:10.2px;height:10.2px;color:#5f6f82;font-weight:400;text-align:right;white-space:nowrap;">$0.1M</div><div style="position:absolute;left:635px;width:60px;top:571.17px;font-size:10.2px;line-height:10.2px;height:10.2px;color:#5f6f82;font-weight:400;text-align:right;white-space:nowrap;">$0.0M</div><div style="position:absolute;left:499.20000000000005px;width:60px;top:607.86px;font-size:10.8px;line-height:10.8px;height:10.8px;color:#d3deea;font-weight:400;text-align:center;white-space:nowrap;">2018</div><div style="position:absolute;left:479.20000000000005px;width:100px;top:627.53px;font-size:10px;line-height:10px;height:10px;color:#051b33;font-weight:400;text-align:center;white-space:nowrap;">month name</div><div style="position:absolute;left:621px;top:630px;width:24px;height:23px;background:#ffffff"></div><div style="position:absolute;left:649px;top:630px;width:24px;height:23px;background:#ffffff"></div><div style="position:absolute;left:677px;top:630px;width:24px;height:23px;background:#ffffff"></div><svg style="position:absolute;left:625px;top:634px;" width="16" height="15" viewBox="0 0 16 15"><path d="M1 1h14l-5 6v7H6V7z" fill="none" stroke="#605e5c" stroke-width="1.1" stroke-linejoin="round"/></svg><svg style="position:absolute;left:653px;top:635px;" width="16" height="14" viewBox="0 0 16 14"><path d="M1 5h5M1 5v8h13V7M1 9h5v4M9 1h5v5M14 1L9 6" fill="none" stroke="#605e5c" stroke-width="1.1"/></svg><svg style="position:absolute;left:681px;top:640px;" width="16" height="4" viewBox="0 0 16 4"><circle cx="2" cy="2" r="1" fill="#605e5c"/><circle cx="8" cy="2" r="1" fill="#605e5c"/><circle cx="14" cy="2" r="1" fill="#605e5c"/></svg><div style="position:absolute;left:63px;top:654px;width:310px;height:145px;border:1.3px solid #a3b8d1;border-radius:14px;box-sizing:border-box"></div><div style="position:absolute;left:73.1px;top:660.7px;font-size:12.4px;line-height:12.4px;height:12.4px;color:#bfd0e4;font-weight:400;text-align:left;white-space:nowrap;letter-spacing:0.081px;-webkit-text-stroke:0.45px #bfd0e4">Cost per day by Truck Type</div><div style="position:absolute;left:169px;top:694.1px;width:152.9px;height:17.5px;background:#a63379"></div><div style="position:absolute;left:41px;width:120px;top:698.63px;font-size:10px;line-height:10px;height:10px;color:#d8e2ee;font-weight:400;text-align:right;white-space:nowrap;letter-spacing:-0.2px">TRACTOR</div><div style="position:absolute;left:328.9px;top:698.21px;font-size:10.5px;line-height:10.5px;height:10.5px;color:#d8e2ee;font-weight:400;text-align:left;white-space:nowrap;">$1,031</div><div style="position:absolute;left:169px;top:717.8px;width:87.9px;height:17.5px;background:#a63379"></div><div style="position:absolute;left:41px;width:120px;top:722.33px;font-size:10px;line-height:10px;height:10px;color:#d8e2ee;font-weight:400;text-align:right;white-space:nowrap;letter-spacing:-0.2px">SEMI-TRAILER</div><div style="position:absolute;left:263.9px;top:721.91px;font-size:10.5px;line-height:10.5px;height:10.5px;color:#d8e2ee;font-weight:400;text-align:left;white-space:nowrap;">$594</div><div style="position:absolute;left:169px;top:741.3px;width:61px;height:17.5px;background:#a63379"></div><div style="position:absolute;left:41px;width:120px;top:745.83px;font-size:10px;line-height:10px;height:10px;color:#d8e2ee;font-weight:400;text-align:right;white-space:nowrap;letter-spacing:-0.2px">TRAILER</div><div style="position:absolute;left:237px;top:745.41px;font-size:10.5px;line-height:10.5px;height:10.5px;color:#d8e2ee;font-weight:400;text-align:left;white-space:nowrap;">$414</div><div style="position:absolute;left:169px;top:764.2px;width:58px;height:17.5px;background:#a63379"></div><div style="position:absolute;left:41px;width:120px;top:768.74px;font-size:10px;line-height:10px;height:10px;color:#d8e2ee;font-weight:400;text-align:right;white-space:nowrap;letter-spacing:-0.2px">BOX</div><div style="position:absolute;left:234px;top:768.31px;font-size:10.5px;line-height:10.5px;height:10.5px;color:#d8e2ee;font-weight:400;text-align:left;white-space:nowrap;">$393</div><div style="position:absolute;left:391px;top:654px;width:311px;height:145px;border:1px solid #c8d6e6;box-sizing:border-box"></div><div style="position:absolute;left:391px;top:654px;width:311px;height:145px;border:1.3px solid #a3b8d1;border-radius:16px;box-sizing:border-box"></div><div style="position:absolute;left:401.2px;top:661.96px;font-size:12.8px;line-height:12.8px;height:12.8px;color:#bfd0e4;font-weight:400;text-align:left;white-space:nowrap;letter-spacing:0.314px;-webkit-text-stroke:0.45px #bfd0e4">Cost Per KM by Truck Type</div><div style="position:absolute;left:497px;top:696.2px;width:180px;height:17.5px;background:#a63379"></div><div style="position:absolute;left:369px;width:120px;top:700.74px;font-size:10px;line-height:10px;height:10px;color:#d8e2ee;font-weight:400;text-align:right;white-space:nowrap;letter-spacing:-0.2px">SEMI-TRAILER</div><div style="position:absolute;left:631px;width:40px;top:700.31px;font-size:10.5px;line-height:10.5px;height:10.5px;color:#e4c4dc;font-weight:400;text-align:right;white-space:nowrap;">$4</div><div style="position:absolute;left:497px;top:719px;width:166.6px;height:17.5px;background:#a63379"></div><div style="position:absolute;left:369px;width:120px;top:723.53px;font-size:10px;line-height:10px;height:10px;color:#d8e2ee;font-weight:400;text-align:right;white-space:nowrap;letter-spacing:-0.2px">TRACTOR</div><div style="position:absolute;left:670.6px;top:723.11px;font-size:10.5px;line-height:10.5px;height:10.5px;color:#d8e2ee;font-weight:400;text-align:left;white-space:nowrap;">$4</div><div style="position:absolute;left:497px;top:742px;width:139.8px;height:17.5px;background:#a63379"></div><div style="position:absolute;left:369px;width:120px;top:746.53px;font-size:10px;line-height:10px;height:10px;color:#d8e2ee;font-weight:400;text-align:right;white-space:nowrap;letter-spacing:-0.2px">TRAILER</div><div style="position:absolute;left:643.8px;top:746.11px;font-size:10.5px;line-height:10.5px;height:10.5px;color:#d8e2ee;font-weight:400;text-align:left;white-space:nowrap;">$3</div><div style="position:absolute;left:497px;top:764.5px;width:136px;height:17.5px;background:#a63379"></div><div style="position:absolute;left:369px;width:120px;top:769.03px;font-size:10px;line-height:10px;height:10px;color:#d8e2ee;font-weight:400;text-align:right;white-space:nowrap;letter-spacing:-0.2px">BOX</div><div style="position:absolute;left:640px;top:768.61px;font-size:10.5px;line-height:10.5px;height:10.5px;color:#d8e2ee;font-weight:400;text-align:left;white-space:nowrap;">$3</div><div style="position:absolute;left:720px;top:228.23px;font-size:14.5px;line-height:14.5px;height:14.5px;color:#bfd0e4;font-weight:400;text-align:left;white-space:nowrap;letter-spacing:0.321px;-webkit-text-stroke:0.45px #bfd0e4">Drivers Summrization</div><div style="position:absolute;left:725px;top:253.63px;font-size:9.3px;line-height:9.3px;height:9.3px;color:#c9d8ea;font-weight:400;text-align:left;white-space:nowrap;letter-spacing:0.1px">Driver Name</div><div style="position:absolute;left:811px;top:253.63px;font-size:9.3px;line-height:9.3px;height:9.3px;color:#c9d8ea;font-weight:400;text-align:left;white-space:nowrap;letter-spacing:0.1px">Total cost</div><div style="position:absolute;left:910.5px;top:253.63px;font-size:9.3px;line-height:9.3px;height:9.3px;color:#c9d8ea;font-weight:400;text-align:left;white-space:nowrap;letter-spacing:0.1px">Total</div><div style="position:absolute;left:910.5px;top:267.13px;font-size:9.3px;line-height:9.3px;height:9.3px;color:#c9d8ea;font-weight:400;text-align:left;white-space:nowrap;letter-spacing:0.1px">Travaled(KM)</div><div style="position:absolute;left:975px;top:253.63px;font-size:9.3px;line-height:9.3px;height:9.3px;color:#c9d8ea;font-weight:400;text-align:left;white-space:nowrap;letter-spacing:0.1px">Total liters</div><div style="position:absolute;left:975px;top:267.13px;font-size:9.3px;line-height:9.3px;height:9.3px;color:#c9d8ea;font-weight:400;text-align:left;white-space:nowrap;letter-spacing:0.1px">consumed</div><div style="position:absolute;left:1054.5px;top:253.63px;font-size:9.3px;line-height:9.3px;height:9.3px;color:#c9d8ea;font-weight:400;text-align:left;white-space:nowrap;letter-spacing:0.1px">Total Fuel</div><div style="position:absolute;left:1054.5px;top:267.13px;font-size:9.3px;line-height:9.3px;height:9.3px;color:#c9d8ea;font-weight:400;text-align:left;white-space:nowrap;letter-spacing:0.1px">consumed</div><div style="position:absolute;left:1124px;top:253.63px;font-size:9.3px;line-height:9.3px;height:9.3px;color:#c9d8ea;font-weight:400;text-align:left;white-space:nowrap;letter-spacing:0.1px">Total</div><div style="position:absolute;left:1124px;top:267.13px;font-size:9.3px;line-height:9.3px;height:9.3px;color:#c9d8ea;font-weight:400;text-align:left;white-space:nowrap;letter-spacing:0.1px">Maintanance</div><div style="position:absolute;left:1124px;top:280.63px;font-size:9.3px;line-height:9.3px;height:9.3px;color:#c9d8ea;font-weight:400;text-align:left;white-space:nowrap;letter-spacing:0.1px">Cost</div><svg style="position:absolute;left:909px;top:292px;" width="8" height="5" viewBox="0 0 8 5"><path d="M0 0h8L4 4.5z" fill="#dfe8f2"/></svg><div style="position:absolute;left:720px;top:301px;width:461px;height:1px;background:#2f69ad"></div><div style="position:absolute;left:720px;top:302px;width:460px;height:463.5px;overflow:hidden"><div style="position:absolute;left:5px;top:7.98px;font-size:9px;line-height:9px;height:9px;color:#dfe8f2;font-weight:400;text-align:left;white-space:nowrap;letter-spacing:0px">Ridwan Greaves</div><div style="position:absolute;left:91px;top:5.8px;width:64.99px;height:13px;background:#a63379"></div><div style="position:absolute;left:61.700000000000045px;width:120px;top:7.9px;font-size:9.1px;line-height:9.1px;height:9.1px;color:#e6edf5;font-weight:400;text-align:right;white-space:nowrap;">$223,917.2664475</div><div style="position:absolute;left:190.7px;top:5.8px;width:55.3px;height:13px;background:#a63379"></div><div style="position:absolute;left:126px;width:120px;top:7.9px;font-size:9.1px;line-height:9.1px;height:9.1px;color:#e6edf5;font-weight:400;text-align:right;white-space:nowrap;">68,734</div><div style="position:absolute;left:255px;top:5.8px;width:67.04px;height:13px;background:#a63379"></div><div style="position:absolute;left:205px;width:120px;top:7.9px;font-size:9.1px;line-height:9.1px;height:9.1px;color:#e6edf5;font-weight:400;text-align:right;white-space:nowrap;">19,928</div><div style="position:absolute;left:335px;top:5.8px;width:55.28px;height:13px;background:#a63379"></div><div style="position:absolute;left:274px;width:120px;top:7.9px;font-size:9.1px;line-height:9.1px;height:9.1px;color:#e6edf5;font-weight:400;text-align:right;white-space:nowrap;">64,908</div><div style="position:absolute;left:403.3px;top:5.8px;width:32.45px;height:13px;background:#a63379"></div><div style="position:absolute;left:391px;width:80px;top:7.9px;font-size:9.1px;line-height:9.1px;height:9.1px;color:#e6edf5;font-weight:400;text-align:right;white-space:nowrap;">$16,650</div><div style="position:absolute;left:0px;top:23.1px;width:460px;height:2.4px;background:#a8bedb"></div><div style="position:absolute;left:85px;top:23.1px;width:1.3px;height:2.4px;background:#072440"></div><div style="position:absolute;left:89.5px;top:23.1px;width:1.3px;height:2.4px;background:#072440"></div><div style="position:absolute;left:184.7px;top:23.1px;width:1.3px;height:2.4px;background:#072440"></div><div style="position:absolute;left:189.2px;top:23.1px;width:1.3px;height:2.4px;background:#072440"></div><div style="position:absolute;left:249px;top:23.1px;width:1.3px;height:2.4px;background:#072440"></div><div style="position:absolute;left:253.5px;top:23.1px;width:1.3px;height:2.4px;background:#072440"></div><div style="position:absolute;left:329px;top:23.1px;width:1.3px;height:2.4px;background:#072440"></div><div style="position:absolute;left:333.5px;top:23.1px;width:1.3px;height:2.4px;background:#072440"></div><div style="position:absolute;left:397.3px;top:23.1px;width:1.3px;height:2.4px;background:#072440"></div><div style="position:absolute;left:401.8px;top:23.1px;width:1.3px;height:2.4px;background:#072440"></div><div style="position:absolute;left:5px;top:32.93px;font-size:9px;line-height:9px;height:9px;color:#dfe8f2;font-weight:400;text-align:left;white-space:nowrap;letter-spacing:0px">Maheen Nicholls</div><div style="position:absolute;left:91px;top:30.75px;width:54.04px;height:13px;background:#a63379"></div><div style="position:absolute;left:61.700000000000045px;width:120px;top:32.85px;font-size:9.1px;line-height:9.1px;height:9.1px;color:#e6edf5;font-weight:400;text-align:right;white-space:nowrap;">$186,209.297305</div><div style="position:absolute;left:190.7px;top:30.75px;width:55.2px;height:13px;background:#a63379"></div><div style="position:absolute;left:126px;width:120px;top:32.85px;font-size:9.1px;line-height:9.1px;height:9.1px;color:#e6edf5;font-weight:400;text-align:right;white-space:nowrap;">68,607</div><div style="position:absolute;left:255px;top:30.75px;width:56.16px;height:13px;background:#a63379"></div><div style="position:absolute;left:205px;width:120px;top:32.85px;font-size:9.1px;line-height:9.1px;height:9.1px;color:#e6edf5;font-weight:400;text-align:right;white-space:nowrap;">16,694</div><div style="position:absolute;left:335px;top:30.75px;width:48.58px;height:13px;background:#a63379"></div><div style="position:absolute;left:274px;width:120px;top:32.85px;font-size:9.1px;line-height:9.1px;height:9.1px;color:#e6edf5;font-weight:400;text-align:right;white-space:nowrap;">57,044</div><div style="position:absolute;left:403.3px;top:30.75px;width:18.2px;height:13px;background:#a63379"></div><div style="position:absolute;left:391px;width:80px;top:32.85px;font-size:9.1px;line-height:9.1px;height:9.1px;color:#e6edf5;font-weight:400;text-align:right;white-space:nowrap;">$9,340</div><div style="position:absolute;left:0px;top:48.05px;width:460px;height:2.4px;background:#a8bedb"></div><div style="position:absolute;left:85px;top:48.05px;width:1.3px;height:2.4px;background:#072440"></div><div style="position:absolute;left:89.5px;top:48.05px;width:1.3px;height:2.4px;background:#072440"></div><div style="position:absolute;left:184.7px;top:48.05px;width:1.3px;height:2.4px;background:#072440"></div><div style="position:absolute;left:189.2px;top:48.05px;width:1.3px;height:2.4px;background:#072440"></div><div style="position:absolute;left:249px;top:48.05px;width:1.3px;height:2.4px;background:#072440"></div><div style="position:absolute;left:253.5px;top:48.05px;width:1.3px;height:2.4px;background:#072440"></div><div style="position:absolute;left:329px;top:48.05px;width:1.3px;height:2.4px;background:#072440"></div><div style="position:absolute;left:333.5px;top:48.05px;width:1.3px;height:2.4px;background:#072440"></div><div style="position:absolute;left:397.3px;top:48.05px;width:1.3px;height:2.4px;background:#072440"></div><div style="position:absolute;left:401.8px;top:48.05px;width:1.3px;height:2.4px;background:#072440"></div><div style="position:absolute;left:5px;top:57.88px;font-size:9px;line-height:9px;height:9px;color:#dfe8f2;font-weight:400;text-align:left;white-space:nowrap;letter-spacing:0px">Amman Vega</div><div style="position:absolute;left:91px;top:55.7px;width:65.73px;height:13px;background:#a63379"></div><div style="position:absolute;left:61.700000000000045px;width:120px;top:57.8px;font-size:9.1px;line-height:9.1px;height:9.1px;color:#e6edf5;font-weight:400;text-align:right;white-space:nowrap;">$226,455.59017</div><div style="position:absolute;left:190.7px;top:55.7px;width:53.89px;height:13px;background:#a63379"></div><div style="position:absolute;left:126px;width:120px;top:57.8px;font-size:9.1px;line-height:9.1px;height:9.1px;color:#e6edf5;font-weight:400;text-align:right;white-space:nowrap;">66,977</div><div style="position:absolute;left:255px;top:55.7px;width:70.0px;height:13px;background:#a63379"></div><div style="position:absolute;left:205px;width:120px;top:57.8px;font-size:9.1px;line-height:9.1px;height:9.1px;color:#e6edf5;font-weight:400;text-align:right;white-space:nowrap;">20,809</div><div style="position:absolute;left:335px;top:55.7px;width:59.0px;height:13px;background:#a63379"></div><div style="position:absolute;left:274px;width:120px;top:57.8px;font-size:9.1px;line-height:9.1px;height:9.1px;color:#e6edf5;font-weight:400;text-align:right;white-space:nowrap;">69,274</div><div style="position:absolute;left:403.3px;top:55.7px;width:28.16px;height:13px;background:#a63379"></div><div style="position:absolute;left:391px;width:80px;top:57.8px;font-size:9.1px;line-height:9.1px;height:9.1px;color:#e6edf5;font-weight:400;text-align:right;white-space:nowrap;">$14,450</div><div style="position:absolute;left:0px;top:73.0px;width:460px;height:2.4px;background:#a8bedb"></div><div style="position:absolute;left:85px;top:73.0px;width:1.3px;height:2.4px;background:#072440"></div><div style="position:absolute;left:89.5px;top:73.0px;width:1.3px;height:2.4px;background:#072440"></div><div style="position:absolute;left:184.7px;top:73.0px;width:1.3px;height:2.4px;background:#072440"></div><div style="position:absolute;left:189.2px;top:73.0px;width:1.3px;height:2.4px;background:#072440"></div><div style="position:absolute;left:249px;top:73.0px;width:1.3px;height:2.4px;background:#072440"></div><div style="position:absolute;left:253.5px;top:73.0px;width:1.3px;height:2.4px;background:#072440"></div><div style="position:absolute;left:329px;top:73.0px;width:1.3px;height:2.4px;background:#072440"></div><div style="position:absolute;left:333.5px;top:73.0px;width:1.3px;height:2.4px;background:#072440"></div><div style="position:absolute;left:397.3px;top:73.0px;width:1.3px;height:2.4px;background:#072440"></div><div style="position:absolute;left:401.8px;top:73.0px;width:1.3px;height:2.4px;background:#072440"></div><div style="position:absolute;left:5px;top:82.83px;font-size:9px;line-height:9px;height:9px;color:#dfe8f2;font-weight:400;text-align:left;white-space:nowrap;letter-spacing:0px">Yasin Buck</div><div style="position:absolute;left:91px;top:80.65px;width:47.76px;height:13px;background:#a63379"></div><div style="position:absolute;left:61.700000000000045px;width:120px;top:82.75px;font-size:9.1px;line-height:9.1px;height:9.1px;color:#e6edf5;font-weight:400;text-align:right;white-space:nowrap;">$164,548.5226685</div><div style="position:absolute;left:190.7px;top:80.65px;width:53.56px;height:13px;background:#a63379"></div><div style="position:absolute;left:126px;width:120px;top:82.75px;font-size:9.1px;line-height:9.1px;height:9.1px;color:#e6edf5;font-weight:400;text-align:right;white-space:nowrap;">66,568</div><div style="position:absolute;left:255px;top:80.65px;width:43.79px;height:13px;background:#a63379"></div><div style="position:absolute;left:205px;width:120px;top:82.75px;font-size:9.1px;line-height:9.1px;height:9.1px;color:#e6edf5;font-weight:400;text-align:right;white-space:nowrap;">13,019</div><div style="position:absolute;left:335px;top:80.65px;width:36.92px;height:13px;background:#a63379"></div><div style="position:absolute;left:274px;width:120px;top:82.75px;font-size:9.1px;line-height:9.1px;height:9.1px;color:#e6edf5;font-weight:400;text-align:right;white-space:nowrap;">43,353</div><div style="position:absolute;left:403.3px;top:80.65px;width:14.91px;height:13px;background:#a63379"></div><div style="position:absolute;left:391px;width:80px;top:82.75px;font-size:9.1px;line-height:9.1px;height:9.1px;color:#e6edf5;font-weight:400;text-align:right;white-space:nowrap;">$7,650</div><div style="position:absolute;left:0px;top:97.95px;width:460px;height:2.4px;background:#a8bedb"></div><div style="position:absolute;left:85px;top:97.95px;width:1.3px;height:2.4px;background:#072440"></div><div style="position:absolute;left:89.5px;top:97.95px;width:1.3px;height:2.4px;background:#072440"></div><div style="position:absolute;left:184.7px;top:97.95px;width:1.3px;height:2.4px;background:#072440"></div><div style="position:absolute;left:189.2px;top:97.95px;width:1.3px;height:2.4px;background:#072440"></div><div style="position:absolute;left:249px;top:97.95px;width:1.3px;height:2.4px;background:#072440"></div><div style="position:absolute;left:253.5px;top:97.95px;width:1.3px;height:2.4px;background:#072440"></div><div style="position:absolute;left:329px;top:97.95px;width:1.3px;height:2.4px;background:#072440"></div><div style="position:absolute;left:333.5px;top:97.95px;width:1.3px;height:2.4px;background:#072440"></div><div style="position:absolute;left:397.3px;top:97.95px;width:1.3px;height:2.4px;background:#072440"></div><div style="position:absolute;left:401.8px;top:97.95px;width:1.3px;height:2.4px;background:#072440"></div><div style="position:absolute;left:5px;top:107.78px;font-size:9px;line-height:9px;height:9px;color:#dfe8f2;font-weight:400;text-align:left;white-space:nowrap;letter-spacing:0px">No Driver</div><div style="position:absolute;left:91px;top:105.6px;width:90.0px;height:13px;background:#a63379"></div><div style="position:absolute;left:61.700000000000045px;width:120px;top:107.7px;font-size:9.1px;line-height:9.1px;height:9.1px;color:#e6edf5;font-weight:400;text-align:right;white-space:nowrap;">$310,091.65735775</div><div style="position:absolute;left:190.7px;top:105.6px;width:47.33px;height:13px;background:#a63379"></div><div style="position:absolute;left:126px;width:120px;top:107.7px;font-size:9.1px;line-height:9.1px;height:9.1px;color:#e6edf5;font-weight:400;text-align:right;white-space:nowrap;">58,834</div><div style="position:absolute;left:255px;top:105.6px;width:50.76px;height:13px;background:#a63379"></div><div style="position:absolute;left:205px;width:120px;top:107.7px;font-size:9.1px;line-height:9.1px;height:9.1px;color:#e6edf5;font-weight:400;text-align:right;white-space:nowrap;">15,089</div><div style="position:absolute;left:335px;top:105.6px;width:39.88px;height:13px;background:#a63379"></div><div style="position:absolute;left:274px;width:120px;top:107.7px;font-size:9.1px;line-height:9.1px;height:9.1px;color:#e6edf5;font-weight:400;text-align:right;white-space:nowrap;">46,830</div><div style="position:absolute;left:403.3px;top:105.6px;width:65.0px;height:13px;background:#a63379"></div><div style="position:absolute;left:391px;width:80px;top:107.7px;font-size:9.1px;line-height:9.1px;height:9.1px;color:#e6edf5;font-weight:400;text-align:right;white-space:nowrap;">$33,350</div><div style="position:absolute;left:0px;top:122.9px;width:460px;height:2.4px;background:#a8bedb"></div><div style="position:absolute;left:85px;top:122.9px;width:1.3px;height:2.4px;background:#072440"></div><div style="position:absolute;left:89.5px;top:122.9px;width:1.3px;height:2.4px;background:#072440"></div><div style="position:absolute;left:184.7px;top:122.9px;width:1.3px;height:2.4px;background:#072440"></div><div style="position:absolute;left:189.2px;top:122.9px;width:1.3px;height:2.4px;background:#072440"></div><div style="position:absolute;left:249px;top:122.9px;width:1.3px;height:2.4px;background:#072440"></div><div style="position:absolute;left:253.5px;top:122.9px;width:1.3px;height:2.4px;background:#072440"></div><div style="position:absolute;left:329px;top:122.9px;width:1.3px;height:2.4px;background:#072440"></div><div style="position:absolute;left:333.5px;top:122.9px;width:1.3px;height:2.4px;background:#072440"></div><div style="position:absolute;left:397.3px;top:122.9px;width:1.3px;height:2.4px;background:#072440"></div><div style="position:absolute;left:401.8px;top:122.9px;width:1.3px;height:2.4px;background:#072440"></div><div style="position:absolute;left:5px;top:132.73px;font-size:9px;line-height:9px;height:9px;color:#dfe8f2;font-weight:400;text-align:left;white-space:nowrap;letter-spacing:0px">Stevie Schofield</div><div style="position:absolute;left:91px;top:130.55px;width:48.92px;height:13px;background:#a63379"></div><div style="position:absolute;left:61.700000000000045px;width:120px;top:132.65px;font-size:9.1px;line-height:9.1px;height:9.1px;color:#e6edf5;font-weight:400;text-align:right;white-space:nowrap;">$168,552.4662555</div><div style="position:absolute;left:190.7px;top:130.55px;width:44.66px;height:13px;background:#a63379"></div><div style="position:absolute;left:126px;width:120px;top:132.65px;font-size:9.1px;line-height:9.1px;height:9.1px;color:#e6edf5;font-weight:400;text-align:right;white-space:nowrap;">55,511</div><div style="position:absolute;left:255px;top:130.55px;width:32.71px;height:13px;background:#a63379"></div><div style="position:absolute;left:205px;width:120px;top:132.65px;font-size:9.1px;line-height:9.1px;height:9.1px;color:#e6edf5;font-weight:400;text-align:right;white-space:nowrap;">9,723</div><div style="position:absolute;left:335px;top:130.55px;width:29.12px;height:13px;background:#a63379"></div><div style="position:absolute;left:274px;width:120px;top:132.65px;font-size:9.1px;line-height:9.1px;height:9.1px;color:#e6edf5;font-weight:400;text-align:right;white-space:nowrap;">34,194</div><div style="position:absolute;left:403.3px;top:130.55px;width:20.37px;height:13px;background:#a63379"></div><div style="position:absolute;left:391px;width:80px;top:132.65px;font-size:9.1px;line-height:9.1px;height:9.1px;color:#e6edf5;font-weight:400;text-align:right;white-space:nowrap;">$10,450</div><div style="position:absolute;left:0px;top:147.85px;width:460px;height:2.4px;background:#a8bedb"></div><div style="position:absolute;left:85px;top:147.85px;width:1.3px;height:2.4px;background:#072440"></div><div style="position:absolute;left:89.5px;top:147.85px;width:1.3px;height:2.4px;background:#072440"></div><div style="position:absolute;left:184.7px;top:147.85px;width:1.3px;height:2.4px;background:#072440"></div><div style="position:absolute;left:189.2px;top:147.85px;width:1.3px;height:2.4px;background:#072440"></div><div style="position:absolute;left:249px;top:147.85px;width:1.3px;height:2.4px;background:#072440"></div><div style="position:absolute;left:253.5px;top:147.85px;width:1.3px;height:2.4px;background:#072440"></div><div style="position:absolute;left:329px;top:147.85px;width:1.3px;height:2.4px;background:#072440"></div><div style="position:absolute;left:333.5px;top:147.85px;width:1.3px;height:2.4px;background:#072440"></div><div style="position:absolute;left:397.3px;top:147.85px;width:1.3px;height:2.4px;background:#072440"></div><div style="position:absolute;left:401.8px;top:147.85px;width:1.3px;height:2.4px;background:#072440"></div><div style="position:absolute;left:5px;top:157.68px;font-size:9px;line-height:9px;height:9px;color:#dfe8f2;font-weight:400;text-align:left;white-space:nowrap;letter-spacing:0px">Arslan Cooley</div><div style="position:absolute;left:91px;top:155.5px;width:42.98px;height:13px;background:#a63379"></div><div style="position:absolute;left:61.700000000000045px;width:120px;top:157.6px;font-size:9.1px;line-height:9.1px;height:9.1px;color:#e6edf5;font-weight:400;text-align:right;white-space:nowrap;">$148,091.56626675</div><div style="position:absolute;left:190.7px;top:155.5px;width:33.54px;height:13px;background:#a63379"></div><div style="position:absolute;left:126px;width:120px;top:157.6px;font-size:9.1px;line-height:9.1px;height:9.1px;color:#e6edf5;font-weight:400;text-align:right;white-space:nowrap;">41,685</div><div style="position:absolute;left:255px;top:155.5px;width:27.14px;height:13px;background:#a63379"></div><div style="position:absolute;left:205px;width:120px;top:157.6px;font-size:9.1px;line-height:9.1px;height:9.1px;color:#e6edf5;font-weight:400;text-align:right;white-space:nowrap;">8,067</div><div style="position:absolute;left:335px;top:155.5px;width:23.25px;height:13px;background:#a63379"></div><div style="position:absolute;left:274px;width:120px;top:157.6px;font-size:9.1px;line-height:9.1px;height:9.1px;color:#e6edf5;font-weight:400;text-align:right;white-space:nowrap;">27,294</div><div style="position:absolute;left:403.3px;top:155.5px;width:18.42px;height:13px;background:#a63379"></div><div style="position:absolute;left:391px;width:80px;top:157.6px;font-size:9.1px;line-height:9.1px;height:9.1px;color:#e6edf5;font-weight:400;text-align:right;white-space:nowrap;">$9,450</div><div style="position:absolute;left:0px;top:172.8px;width:460px;height:2.4px;background:#a8bedb"></div><div style="position:absolute;left:85px;top:172.8px;width:1.3px;height:2.4px;background:#072440"></div><div style="position:absolute;left:89.5px;top:172.8px;width:1.3px;height:2.4px;background:#072440"></div><div style="position:absolute;left:184.7px;top:172.8px;width:1.3px;height:2.4px;background:#072440"></div><div style="position:absolute;left:189.2px;top:172.8px;width:1.3px;height:2.4px;background:#072440"></div><div style="position:absolute;left:249px;top:172.8px;width:1.3px;height:2.4px;background:#072440"></div><div style="position:absolute;left:253.5px;top:172.8px;width:1.3px;height:2.4px;background:#072440"></div><div style="position:absolute;left:329px;top:172.8px;width:1.3px;height:2.4px;background:#072440"></div><div style="position:absolute;left:333.5px;top:172.8px;width:1.3px;height:2.4px;background:#072440"></div><div style="position:absolute;left:397.3px;top:172.8px;width:1.3px;height:2.4px;background:#072440"></div><div style="position:absolute;left:401.8px;top:172.8px;width:1.3px;height:2.4px;background:#072440"></div><div style="position:absolute;left:5px;top:182.63px;font-size:9px;line-height:9px;height:9px;color:#dfe8f2;font-weight:400;text-align:left;white-space:nowrap;letter-spacing:0px">Idris Alston</div><div style="position:absolute;left:91px;top:180.45px;width:28.88px;height:13px;background:#a63379"></div><div style="position:absolute;left:61.700000000000045px;width:120px;top:182.55px;font-size:9.1px;line-height:9.1px;height:9.1px;color:#e6edf5;font-weight:400;text-align:right;white-space:nowrap;">$99,518.19442</div><div style="position:absolute;left:190.7px;top:180.45px;width:31.28px;height:13px;background:#a63379"></div><div style="position:absolute;left:126px;width:120px;top:182.55px;font-size:9.1px;line-height:9.1px;height:9.1px;color:#e6edf5;font-weight:400;text-align:right;white-space:nowrap;">38,884</div><div style="position:absolute;left:255px;top:180.45px;width:31.99px;height:13px;background:#a63379"></div><div style="position:absolute;left:205px;width:120px;top:182.55px;font-size:9.1px;line-height:9.1px;height:9.1px;color:#e6edf5;font-weight:400;text-align:right;white-space:nowrap;">9,509</div><div style="position:absolute;left:335px;top:180.45px;width:27.32px;height:13px;background:#a63379"></div><div style="position:absolute;left:274px;width:120px;top:182.55px;font-size:9.1px;line-height:9.1px;height:9.1px;color:#e6edf5;font-weight:400;text-align:right;white-space:nowrap;">32,075</div><div style="position:absolute;left:403.3px;top:180.45px;width:6.72px;height:13px;background:#a63379"></div><div style="position:absolute;left:391px;width:80px;top:182.55px;font-size:9.1px;line-height:9.1px;height:9.1px;color:#e6edf5;font-weight:400;text-align:right;white-space:nowrap;">$3,450</div><div style="position:absolute;left:0px;top:197.75px;width:460px;height:2.4px;background:#a8bedb"></div><div style="position:absolute;left:85px;top:197.75px;width:1.3px;height:2.4px;background:#072440"></div><div style="position:absolute;left:89.5px;top:197.75px;width:1.3px;height:2.4px;background:#072440"></div><div style="position:absolute;left:184.7px;top:197.75px;width:1.3px;height:2.4px;background:#072440"></div><div style="position:absolute;left:189.2px;top:197.75px;width:1.3px;height:2.4px;background:#072440"></div><div style="position:absolute;left:249px;top:197.75px;width:1.3px;height:2.4px;background:#072440"></div><div style="position:absolute;left:253.5px;top:197.75px;width:1.3px;height:2.4px;background:#072440"></div><div style="position:absolute;left:329px;top:197.75px;width:1.3px;height:2.4px;background:#072440"></div><div style="position:absolute;left:333.5px;top:197.75px;width:1.3px;height:2.4px;background:#072440"></div><div style="position:absolute;left:397.3px;top:197.75px;width:1.3px;height:2.4px;background:#072440"></div><div style="position:absolute;left:401.8px;top:197.75px;width:1.3px;height:2.4px;background:#072440"></div><div style="position:absolute;left:5px;top:207.58px;font-size:9px;line-height:9px;height:9px;color:#dfe8f2;font-weight:400;text-align:left;white-space:nowrap;letter-spacing:0px">Efan Archer</div><div style="position:absolute;left:91px;top:205.4px;width:30.59px;height:13px;background:#a63379"></div><div style="position:absolute;left:61.700000000000045px;width:120px;top:207.5px;font-size:9.1px;line-height:9.1px;height:9.1px;color:#e6edf5;font-weight:400;text-align:right;white-space:nowrap;">$105,380.8632555</div><div style="position:absolute;left:190.7px;top:205.4px;width:29.77px;height:13px;background:#a63379"></div><div style="position:absolute;left:126px;width:120px;top:207.5px;font-size:9.1px;line-height:9.1px;height:9.1px;color:#e6edf5;font-weight:400;text-align:right;white-space:nowrap;">36,998</div><div style="position:absolute;left:255px;top:205.4px;width:20.95px;height:13px;background:#a63379"></div><div style="position:absolute;left:205px;width:120px;top:207.5px;font-size:9.1px;line-height:9.1px;height:9.1px;color:#e6edf5;font-weight:400;text-align:right;white-space:nowrap;">6,228</div><div style="position:absolute;left:335px;top:205.4px;width:16.81px;height:13px;background:#a63379"></div><div style="position:absolute;left:274px;width:120px;top:207.5px;font-size:9.1px;line-height:9.1px;height:9.1px;color:#e6edf5;font-weight:400;text-align:right;white-space:nowrap;">19,740</div><div style="position:absolute;left:403.3px;top:205.4px;width:21.73px;height:13px;background:#a63379"></div><div style="position:absolute;left:391px;width:80px;top:207.5px;font-size:9.1px;line-height:9.1px;height:9.1px;color:#e6edf5;font-weight:400;text-align:right;white-space:nowrap;">$11,150</div><div style="position:absolute;left:0px;top:222.7px;width:460px;height:2.4px;background:#a8bedb"></div><div style="position:absolute;left:85px;top:222.7px;width:1.3px;height:2.4px;background:#072440"></div><div style="position:absolute;left:89.5px;top:222.7px;width:1.3px;height:2.4px;background:#072440"></div><div style="position:absolute;left:184.7px;top:222.7px;width:1.3px;height:2.4px;background:#072440"></div><div style="position:absolute;left:189.2px;top:222.7px;width:1.3px;height:2.4px;background:#072440"></div><div style="position:absolute;left:249px;top:222.7px;width:1.3px;height:2.4px;background:#072440"></div><div style="position:absolute;left:253.5px;top:222.7px;width:1.3px;height:2.4px;background:#072440"></div><div style="position:absolute;left:329px;top:222.7px;width:1.3px;height:2.4px;background:#072440"></div><div style="position:absolute;left:333.5px;top:222.7px;width:1.3px;height:2.4px;background:#072440"></div><div style="position:absolute;left:397.3px;top:222.7px;width:1.3px;height:2.4px;background:#072440"></div><div style="position:absolute;left:401.8px;top:222.7px;width:1.3px;height:2.4px;background:#072440"></div><div style="position:absolute;left:5px;top:232.53px;font-size:9px;line-height:9px;height:9px;color:#dfe8f2;font-weight:400;text-align:left;white-space:nowrap;letter-spacing:0px">Montell Winters</div><div style="position:absolute;left:91px;top:230.35px;width:30.02px;height:13px;background:#a63379"></div><div style="position:absolute;left:61.700000000000045px;width:120px;top:232.45px;font-size:9.1px;line-height:9.1px;height:9.1px;color:#e6edf5;font-weight:400;text-align:right;white-space:nowrap;">$103,429.76325025</div><div style="position:absolute;left:190.7px;top:230.35px;width:25.68px;height:13px;background:#a63379"></div><div style="position:absolute;left:126px;width:120px;top:232.45px;font-size:9.1px;line-height:9.1px;height:9.1px;color:#e6edf5;font-weight:400;text-align:right;white-space:nowrap;">31,924</div><div style="position:absolute;left:255px;top:230.35px;width:22.38px;height:13px;background:#a63379"></div><div style="position:absolute;left:205px;width:120px;top:232.45px;font-size:9.1px;line-height:9.1px;height:9.1px;color:#e6edf5;font-weight:400;text-align:right;white-space:nowrap;">6,652</div><div style="position:absolute;left:335px;top:230.35px;width:18.4px;height:13px;background:#a63379"></div><div style="position:absolute;left:274px;width:120px;top:232.45px;font-size:9.1px;line-height:9.1px;height:9.1px;color:#e6edf5;font-weight:400;text-align:right;white-space:nowrap;">21,601</div><div style="position:absolute;left:403.3px;top:230.35px;width:21.34px;height:13px;background:#a63379"></div><div style="position:absolute;left:391px;width:80px;top:232.45px;font-size:9.1px;line-height:9.1px;height:9.1px;color:#e6edf5;font-weight:400;text-align:right;white-space:nowrap;">$10,950</div><div style="position:absolute;left:0px;top:247.65px;width:460px;height:2.4px;background:#a8bedb"></div><div style="position:absolute;left:85px;top:247.65px;width:1.3px;height:2.4px;background:#072440"></div><div style="position:absolute;left:89.5px;top:247.65px;width:1.3px;height:2.4px;background:#072440"></div><div style="position:absolute;left:184.7px;top:247.65px;width:1.3px;height:2.4px;background:#072440"></div><div style="position:absolute;left:189.2px;top:247.65px;width:1.3px;height:2.4px;background:#072440"></div><div style="position:absolute;left:249px;top:247.65px;width:1.3px;height:2.4px;background:#072440"></div><div style="position:absolute;left:253.5px;top:247.65px;width:1.3px;height:2.4px;background:#072440"></div><div style="position:absolute;left:329px;top:247.65px;width:1.3px;height:2.4px;background:#072440"></div><div style="position:absolute;left:333.5px;top:247.65px;width:1.3px;height:2.4px;background:#072440"></div><div style="position:absolute;left:397.3px;top:247.65px;width:1.3px;height:2.4px;background:#072440"></div><div style="position:absolute;left:401.8px;top:247.65px;width:1.3px;height:2.4px;background:#072440"></div><div style="position:absolute;left:5px;top:257.48px;font-size:9px;line-height:9px;height:9px;color:#dfe8f2;font-weight:400;text-align:left;white-space:nowrap;letter-spacing:0px">Marcel Wormald</div><div style="position:absolute;left:91px;top:255.3px;width:20.04px;height:13px;background:#a63379"></div><div style="position:absolute;left:61.700000000000045px;width:120px;top:257.4px;font-size:9.1px;line-height:9.1px;height:9.1px;color:#e6edf5;font-weight:400;text-align:right;white-space:nowrap;">$69,060.062966</div><div style="position:absolute;left:190.7px;top:255.3px;width:24.45px;height:13px;background:#a63379"></div><div style="position:absolute;left:126px;width:120px;top:257.4px;font-size:9.1px;line-height:9.1px;height:9.1px;color:#e6edf5;font-weight:400;text-align:right;white-space:nowrap;">30,389</div><div style="position:absolute;left:255px;top:255.3px;width:18.5px;height:13px;background:#a63379"></div><div style="position:absolute;left:205px;width:120px;top:257.4px;font-size:9.1px;line-height:9.1px;height:9.1px;color:#e6edf5;font-weight:400;text-align:right;white-space:nowrap;">5,499</div><div style="position:absolute;left:335px;top:255.3px;width:15.52px;height:13px;background:#a63379"></div><div style="position:absolute;left:274px;width:120px;top:257.4px;font-size:9.1px;line-height:9.1px;height:9.1px;color:#e6edf5;font-weight:400;text-align:right;white-space:nowrap;">18,220</div><div style="position:absolute;left:403.3px;top:255.3px;width:8.87px;height:13px;background:#a63379"></div><div style="position:absolute;left:391px;width:80px;top:257.4px;font-size:9.1px;line-height:9.1px;height:9.1px;color:#e6edf5;font-weight:400;text-align:right;white-space:nowrap;">$4,550</div><div style="position:absolute;left:0px;top:272.6px;width:460px;height:2.4px;background:#a8bedb"></div><div style="position:absolute;left:85px;top:272.6px;width:1.3px;height:2.4px;background:#072440"></div><div style="position:absolute;left:89.5px;top:272.6px;width:1.3px;height:2.4px;background:#072440"></div><div style="position:absolute;left:184.7px;top:272.6px;width:1.3px;height:2.4px;background:#072440"></div><div style="position:absolute;left:189.2px;top:272.6px;width:1.3px;height:2.4px;background:#072440"></div><div style="position:absolute;left:249px;top:272.6px;width:1.3px;height:2.4px;background:#072440"></div><div style="position:absolute;left:253.5px;top:272.6px;width:1.3px;height:2.4px;background:#072440"></div><div style="position:absolute;left:329px;top:272.6px;width:1.3px;height:2.4px;background:#072440"></div><div style="position:absolute;left:333.5px;top:272.6px;width:1.3px;height:2.4px;background:#072440"></div><div style="position:absolute;left:397.3px;top:272.6px;width:1.3px;height:2.4px;background:#072440"></div><div style="position:absolute;left:401.8px;top:272.6px;width:1.3px;height:2.4px;background:#072440"></div><div style="position:absolute;left:5px;top:282.43px;font-size:9px;line-height:9px;height:9px;color:#dfe8f2;font-weight:400;text-align:left;white-space:nowrap;letter-spacing:0px">Kenzie Macdonald</div><div style="position:absolute;left:91px;top:280.25px;width:31.06px;height:13px;background:#a63379"></div><div style="position:absolute;left:61.700000000000045px;width:120px;top:282.35px;font-size:9.1px;line-height:9.1px;height:9.1px;color:#e6edf5;font-weight:400;text-align:right;white-space:nowrap;">$107,002.58736</div><div style="position:absolute;left:190.7px;top:280.25px;width:22.09px;height:13px;background:#a63379"></div><div style="position:absolute;left:126px;width:120px;top:282.35px;font-size:9.1px;line-height:9.1px;height:9.1px;color:#e6edf5;font-weight:400;text-align:right;white-space:nowrap;">27,457</div><div style="position:absolute;left:255px;top:280.25px;width:26.92px;height:13px;background:#a63379"></div><div style="position:absolute;left:205px;width:120px;top:282.35px;font-size:9.1px;line-height:9.1px;height:9.1px;color:#e6edf5;font-weight:400;text-align:right;white-space:nowrap;">8,003</div><div style="position:absolute;left:335px;top:280.25px;width:21.62px;height:13px;background:#a63379"></div><div style="position:absolute;left:274px;width:120px;top:282.35px;font-size:9.1px;line-height:9.1px;height:9.1px;color:#e6edf5;font-weight:400;text-align:right;white-space:nowrap;">25,388</div><div style="position:absolute;left:403.3px;top:280.25px;width:19.0px;height:13px;background:#a63379"></div><div style="position:absolute;left:391px;width:80px;top:282.35px;font-size:9.1px;line-height:9.1px;height:9.1px;color:#e6edf5;font-weight:400;text-align:right;white-space:nowrap;">$9,750</div><div style="position:absolute;left:0px;top:297.55px;width:460px;height:2.4px;background:#a8bedb"></div><div style="position:absolute;left:85px;top:297.55px;width:1.3px;height:2.4px;background:#072440"></div><div style="position:absolute;left:89.5px;top:297.55px;width:1.3px;height:2.4px;background:#072440"></div><div style="position:absolute;left:184.7px;top:297.55px;width:1.3px;height:2.4px;background:#072440"></div><div style="position:absolute;left:189.2px;top:297.55px;width:1.3px;height:2.4px;background:#072440"></div><div style="position:absolute;left:249px;top:297.55px;width:1.3px;height:2.4px;background:#072440"></div><div style="position:absolute;left:253.5px;top:297.55px;width:1.3px;height:2.4px;background:#072440"></div><div style="position:absolute;left:329px;top:297.55px;width:1.3px;height:2.4px;background:#072440"></div><div style="position:absolute;left:333.5px;top:297.55px;width:1.3px;height:2.4px;background:#072440"></div><div style="position:absolute;left:397.3px;top:297.55px;width:1.3px;height:2.4px;background:#072440"></div><div style="position:absolute;left:401.8px;top:297.55px;width:1.3px;height:2.4px;background:#072440"></div><div style="position:absolute;left:5px;top:307.38px;font-size:9px;line-height:9px;height:9px;color:#dfe8f2;font-weight:400;text-align:left;white-space:nowrap;letter-spacing:0px">Kiah O'Connor</div><div style="position:absolute;left:91px;top:305.2px;width:19.92px;height:13px;background:#a63379"></div><div style="position:absolute;left:61.700000000000045px;width:120px;top:307.3px;font-size:9.1px;line-height:9.1px;height:9.1px;color:#e6edf5;font-weight:400;text-align:right;white-space:nowrap;">$68,620.349846</div><div style="position:absolute;left:190.7px;top:305.2px;width:20.42px;height:13px;background:#a63379"></div><div style="position:absolute;left:126px;width:120px;top:307.3px;font-size:9.1px;line-height:9.1px;height:9.1px;color:#e6edf5;font-weight:400;text-align:right;white-space:nowrap;">25,375</div><div style="position:absolute;left:255px;top:305.2px;width:16.76px;height:13px;background:#a63379"></div><div style="position:absolute;left:205px;width:120px;top:307.3px;font-size:9.1px;line-height:9.1px;height:9.1px;color:#e6edf5;font-weight:400;text-align:right;white-space:nowrap;">4,983</div><div style="position:absolute;left:335px;top:305.2px;width:13.95px;height:13px;background:#a63379"></div><div style="position:absolute;left:274px;width:120px;top:307.3px;font-size:9.1px;line-height:9.1px;height:9.1px;color:#e6edf5;font-weight:400;text-align:right;white-space:nowrap;">16,381</div><div style="position:absolute;left:403.3px;top:305.2px;width:7.7px;height:13px;background:#a63379"></div><div style="position:absolute;left:391px;width:80px;top:307.3px;font-size:9.1px;line-height:9.1px;height:9.1px;color:#e6edf5;font-weight:400;text-align:right;white-space:nowrap;">$3,950</div><div style="position:absolute;left:0px;top:322.5px;width:460px;height:2.4px;background:#a8bedb"></div><div style="position:absolute;left:85px;top:322.5px;width:1.3px;height:2.4px;background:#072440"></div><div style="position:absolute;left:89.5px;top:322.5px;width:1.3px;height:2.4px;background:#072440"></div><div style="position:absolute;left:184.7px;top:322.5px;width:1.3px;height:2.4px;background:#072440"></div><div style="position:absolute;left:189.2px;top:322.5px;width:1.3px;height:2.4px;background:#072440"></div><div style="position:absolute;left:249px;top:322.5px;width:1.3px;height:2.4px;background:#072440"></div><div style="position:absolute;left:253.5px;top:322.5px;width:1.3px;height:2.4px;background:#072440"></div><div style="position:absolute;left:329px;top:322.5px;width:1.3px;height:2.4px;background:#072440"></div><div style="position:absolute;left:333.5px;top:322.5px;width:1.3px;height:2.4px;background:#072440"></div><div style="position:absolute;left:397.3px;top:322.5px;width:1.3px;height:2.4px;background:#072440"></div><div style="position:absolute;left:401.8px;top:322.5px;width:1.3px;height:2.4px;background:#072440"></div><div style="position:absolute;left:5px;top:332.33px;font-size:9px;line-height:9px;height:9px;color:#dfe8f2;font-weight:400;text-align:left;white-space:nowrap;letter-spacing:0px">Nora Kerr</div><div style="position:absolute;left:91px;top:330.15px;width:25.66px;height:13px;background:#a63379"></div><div style="position:absolute;left:61.700000000000045px;width:120px;top:332.25px;font-size:9.1px;line-height:9.1px;height:9.1px;color:#e6edf5;font-weight:400;text-align:right;white-space:nowrap;">$88,422.16376675</div><div style="position:absolute;left:190.7px;top:330.15px;width:17.68px;height:13px;background:#a63379"></div><div style="position:absolute;left:126px;width:120px;top:332.25px;font-size:9.1px;line-height:9.1px;height:9.1px;color:#e6edf5;font-weight:400;text-align:right;white-space:nowrap;">21,970</div><div style="position:absolute;left:255px;top:330.15px;width:12.95px;height:13px;background:#a63379"></div><div style="position:absolute;left:205px;width:120px;top:332.25px;font-size:9.1px;line-height:9.1px;height:9.1px;color:#e6edf5;font-weight:400;text-align:right;white-space:nowrap;">3,849</div><div style="position:absolute;left:335px;top:330.15px;width:11.27px;height:13px;background:#a63379"></div><div style="position:absolute;left:274px;width:120px;top:332.25px;font-size:9.1px;line-height:9.1px;height:9.1px;color:#e6edf5;font-weight:400;text-align:right;white-space:nowrap;">13,227</div><div style="position:absolute;left:403.3px;top:330.15px;width:9.84px;height:13px;background:#a63379"></div><div style="position:absolute;left:391px;width:80px;top:332.25px;font-size:9.1px;line-height:9.1px;height:9.1px;color:#e6edf5;font-weight:400;text-align:right;white-space:nowrap;">$5,050</div><div style="position:absolute;left:0px;top:347.45px;width:460px;height:2.4px;background:#a8bedb"></div><div style="position:absolute;left:85px;top:347.45px;width:1.3px;height:2.4px;background:#072440"></div><div style="position:absolute;left:89.5px;top:347.45px;width:1.3px;height:2.4px;background:#072440"></div><div style="position:absolute;left:184.7px;top:347.45px;width:1.3px;height:2.4px;background:#072440"></div><div style="position:absolute;left:189.2px;top:347.45px;width:1.3px;height:2.4px;background:#072440"></div><div style="position:absolute;left:249px;top:347.45px;width:1.3px;height:2.4px;background:#072440"></div><div style="position:absolute;left:253.5px;top:347.45px;width:1.3px;height:2.4px;background:#072440"></div><div style="position:absolute;left:329px;top:347.45px;width:1.3px;height:2.4px;background:#072440"></div><div style="position:absolute;left:333.5px;top:347.45px;width:1.3px;height:2.4px;background:#072440"></div><div style="position:absolute;left:397.3px;top:347.45px;width:1.3px;height:2.4px;background:#072440"></div><div style="position:absolute;left:401.8px;top:347.45px;width:1.3px;height:2.4px;background:#072440"></div><div style="position:absolute;left:5px;top:357.28px;font-size:9px;line-height:9px;height:9px;color:#dfe8f2;font-weight:400;text-align:left;white-space:nowrap;letter-spacing:0px">Tierney Reynolds</div><div style="position:absolute;left:91px;top:355.1px;width:14.78px;height:13px;background:#a63379"></div><div style="position:absolute;left:61.700000000000045px;width:120px;top:357.2px;font-size:9.1px;line-height:9.1px;height:9.1px;color:#e6edf5;font-weight:400;text-align:right;white-space:nowrap;">$50,919.619355</div><div style="position:absolute;left:190.7px;top:355.1px;width:15.82px;height:13px;background:#a63379"></div><div style="position:absolute;left:126px;width:120px;top:357.2px;font-size:9.1px;line-height:9.1px;height:9.1px;color:#e6edf5;font-weight:400;text-align:right;white-space:nowrap;">19,657</div><div style="position:absolute;left:255px;top:355.1px;width:14.47px;height:13px;background:#a63379"></div><div style="position:absolute;left:205px;width:120px;top:357.2px;font-size:9.1px;line-height:9.1px;height:9.1px;color:#e6edf5;font-weight:400;text-align:right;white-space:nowrap;">4,303</div><div style="position:absolute;left:335px;top:355.1px;width:12.5px;height:13px;background:#a63379"></div><div style="position:absolute;left:274px;width:120px;top:357.2px;font-size:9.1px;line-height:9.1px;height:9.1px;color:#e6edf5;font-weight:400;text-align:right;white-space:nowrap;">14,681</div><div style="position:absolute;left:403.3px;top:355.1px;width:4.78px;height:13px;background:#a63379"></div><div style="position:absolute;left:391px;width:80px;top:357.2px;font-size:9.1px;line-height:9.1px;height:9.1px;color:#e6edf5;font-weight:400;text-align:right;white-space:nowrap;">$2,450</div><div style="position:absolute;left:0px;top:372.4px;width:460px;height:2.4px;background:#a8bedb"></div><div style="position:absolute;left:85px;top:372.4px;width:1.3px;height:2.4px;background:#072440"></div><div style="position:absolute;left:89.5px;top:372.4px;width:1.3px;height:2.4px;background:#072440"></div><div style="position:absolute;left:184.7px;top:372.4px;width:1.3px;height:2.4px;background:#072440"></div><div style="position:absolute;left:189.2px;top:372.4px;width:1.3px;height:2.4px;background:#072440"></div><div style="position:absolute;left:249px;top:372.4px;width:1.3px;height:2.4px;background:#072440"></div><div style="position:absolute;left:253.5px;top:372.4px;width:1.3px;height:2.4px;background:#072440"></div><div style="position:absolute;left:329px;top:372.4px;width:1.3px;height:2.4px;background:#072440"></div><div style="position:absolute;left:333.5px;top:372.4px;width:1.3px;height:2.4px;background:#072440"></div><div style="position:absolute;left:397.3px;top:372.4px;width:1.3px;height:2.4px;background:#072440"></div><div style="position:absolute;left:401.8px;top:372.4px;width:1.3px;height:2.4px;background:#072440"></div><div style="position:absolute;left:5px;top:382.23px;font-size:9px;line-height:9px;height:9px;color:#dfe8f2;font-weight:400;text-align:left;white-space:nowrap;letter-spacing:0px">Kenny Todd</div><div style="position:absolute;left:91px;top:380.05px;width:24.43px;height:13px;background:#a63379"></div><div style="position:absolute;left:61.700000000000045px;width:120px;top:382.15px;font-size:9.1px;line-height:9.1px;height:9.1px;color:#e6edf5;font-weight:400;text-align:right;white-space:nowrap;">$84,183.0226685</div><div style="position:absolute;left:190.7px;top:380.05px;width:14.16px;height:13px;background:#a63379"></div><div style="position:absolute;left:126px;width:120px;top:382.15px;font-size:9.1px;line-height:9.1px;height:9.1px;color:#e6edf5;font-weight:400;text-align:right;white-space:nowrap;">17,604</div><div style="position:absolute;left:255px;top:380.05px;width:11.97px;height:13px;background:#a63379"></div><div style="position:absolute;left:205px;width:120px;top:382.15px;font-size:9.1px;line-height:9.1px;height:9.1px;color:#e6edf5;font-weight:400;text-align:right;white-space:nowrap;">3,559</div><div style="position:absolute;left:335px;top:380.05px;width:10.39px;height:13px;background:#a63379"></div><div style="position:absolute;left:274px;width:120px;top:382.15px;font-size:9.1px;line-height:9.1px;height:9.1px;color:#e6edf5;font-weight:400;text-align:right;white-space:nowrap;">12,203</div><div style="position:absolute;left:403.3px;top:380.05px;width:6.14px;height:13px;background:#a63379"></div><div style="position:absolute;left:391px;width:80px;top:382.15px;font-size:9.1px;line-height:9.1px;height:9.1px;color:#e6edf5;font-weight:400;text-align:right;white-space:nowrap;">$3,150</div><div style="position:absolute;left:0px;top:397.35px;width:460px;height:2.4px;background:#a8bedb"></div><div style="position:absolute;left:85px;top:397.35px;width:1.3px;height:2.4px;background:#072440"></div><div style="position:absolute;left:89.5px;top:397.35px;width:1.3px;height:2.4px;background:#072440"></div><div style="position:absolute;left:184.7px;top:397.35px;width:1.3px;height:2.4px;background:#072440"></div><div style="position:absolute;left:189.2px;top:397.35px;width:1.3px;height:2.4px;background:#072440"></div><div style="position:absolute;left:249px;top:397.35px;width:1.3px;height:2.4px;background:#072440"></div><div style="position:absolute;left:253.5px;top:397.35px;width:1.3px;height:2.4px;background:#072440"></div><div style="position:absolute;left:329px;top:397.35px;width:1.3px;height:2.4px;background:#072440"></div><div style="position:absolute;left:333.5px;top:397.35px;width:1.3px;height:2.4px;background:#072440"></div><div style="position:absolute;left:397.3px;top:397.35px;width:1.3px;height:2.4px;background:#072440"></div><div style="position:absolute;left:401.8px;top:397.35px;width:1.3px;height:2.4px;background:#072440"></div><div style="position:absolute;left:5px;top:407.18px;font-size:9px;line-height:9px;height:9px;color:#dfe8f2;font-weight:400;text-align:left;white-space:nowrap;letter-spacing:0px">Ubaid Key</div><div style="position:absolute;left:91px;top:405.0px;width:15.25px;height:13px;background:#a63379"></div><div style="position:absolute;left:61.700000000000045px;width:120px;top:407.1px;font-size:9.1px;line-height:9.1px;height:9.1px;color:#e6edf5;font-weight:400;text-align:right;white-space:nowrap;">$52,545.454471</div><div style="position:absolute;left:190.7px;top:405.0px;width:12.39px;height:13px;background:#a63379"></div><div style="position:absolute;left:126px;width:120px;top:407.1px;font-size:9.1px;line-height:9.1px;height:9.1px;color:#e6edf5;font-weight:400;text-align:right;white-space:nowrap;">15,399</div><div style="position:absolute;left:255px;top:405.0px;width:13.1px;height:13px;background:#a63379"></div><div style="position:absolute;left:205px;width:120px;top:407.1px;font-size:9.1px;line-height:9.1px;height:9.1px;color:#e6edf5;font-weight:400;text-align:right;white-space:nowrap;">3,893</div><div style="position:absolute;left:335px;top:405.0px;width:11.26px;height:13px;background:#a63379"></div><div style="position:absolute;left:274px;width:120px;top:407.1px;font-size:9.1px;line-height:9.1px;height:9.1px;color:#e6edf5;font-weight:400;text-align:right;white-space:nowrap;">13,224</div><div style="position:absolute;left:403.3px;top:405.0px;width:9.45px;height:13px;background:#a63379"></div><div style="position:absolute;left:391px;width:80px;top:407.1px;font-size:9.1px;line-height:9.1px;height:9.1px;color:#e6edf5;font-weight:400;text-align:right;white-space:nowrap;">$4,850</div><div style="position:absolute;left:0px;top:422.3px;width:460px;height:2.4px;background:#a8bedb"></div><div style="position:absolute;left:85px;top:422.3px;width:1.3px;height:2.4px;background:#072440"></div><div style="position:absolute;left:89.5px;top:422.3px;width:1.3px;height:2.4px;background:#072440"></div><div style="position:absolute;left:184.7px;top:422.3px;width:1.3px;height:2.4px;background:#072440"></div><div style="position:absolute;left:189.2px;top:422.3px;width:1.3px;height:2.4px;background:#072440"></div><div style="position:absolute;left:249px;top:422.3px;width:1.3px;height:2.4px;background:#072440"></div><div style="position:absolute;left:253.5px;top:422.3px;width:1.3px;height:2.4px;background:#072440"></div><div style="position:absolute;left:329px;top:422.3px;width:1.3px;height:2.4px;background:#072440"></div><div style="position:absolute;left:333.5px;top:422.3px;width:1.3px;height:2.4px;background:#072440"></div><div style="position:absolute;left:397.3px;top:422.3px;width:1.3px;height:2.4px;background:#072440"></div><div style="position:absolute;left:401.8px;top:422.3px;width:1.3px;height:2.4px;background:#072440"></div><div style="position:absolute;left:5px;top:432.13px;font-size:9px;line-height:9px;height:9px;color:#dfe8f2;font-weight:400;text-align:left;white-space:nowrap;letter-spacing:0px">Riyad Harris</div><div style="position:absolute;left:91px;top:429.95px;width:11.17px;height:13px;background:#a63379"></div><div style="position:absolute;left:61.700000000000045px;width:120px;top:432.05px;font-size:9.1px;line-height:9.1px;height:9.1px;color:#e6edf5;font-weight:400;text-align:right;white-space:nowrap;">$38,498.4953405</div><div style="position:absolute;left:190.7px;top:429.95px;width:11.53px;height:13px;background:#a63379"></div><div style="position:absolute;left:126px;width:120px;top:432.05px;font-size:9.1px;line-height:9.1px;height:9.1px;color:#e6edf5;font-weight:400;text-align:right;white-space:nowrap;">14,331</div><div style="position:absolute;left:255px;top:429.95px;width:8.17px;height:13px;background:#a63379"></div><div style="position:absolute;left:205px;width:120px;top:432.05px;font-size:9.1px;line-height:9.1px;height:9.1px;color:#e6edf5;font-weight:400;text-align:right;white-space:nowrap;">2,429</div><div style="position:absolute;left:335px;top:429.95px;width:7.16px;height:13px;background:#a63379"></div><div style="position:absolute;left:274px;width:120px;top:432.05px;font-size:9.1px;line-height:9.1px;height:9.1px;color:#e6edf5;font-weight:400;text-align:right;white-space:nowrap;">8,409</div><div style="position:absolute;left:403.3px;top:429.95px;width:3.8px;height:13px;background:#a63379"></div><div style="position:absolute;left:391px;width:80px;top:432.05px;font-size:9.1px;line-height:9.1px;height:9.1px;color:#e6edf5;font-weight:400;text-align:right;white-space:nowrap;">$1,950</div><div style="position:absolute;left:0px;top:447.25px;width:460px;height:2.4px;background:#a8bedb"></div><div style="position:absolute;left:85px;top:447.25px;width:1.3px;height:2.4px;background:#072440"></div><div style="position:absolute;left:89.5px;top:447.25px;width:1.3px;height:2.4px;background:#072440"></div><div style="position:absolute;left:184.7px;top:447.25px;width:1.3px;height:2.4px;background:#072440"></div><div style="position:absolute;left:189.2px;top:447.25px;width:1.3px;height:2.4px;background:#072440"></div><div style="position:absolute;left:249px;top:447.25px;width:1.3px;height:2.4px;background:#072440"></div><div style="position:absolute;left:253.5px;top:447.25px;width:1.3px;height:2.4px;background:#072440"></div><div style="position:absolute;left:329px;top:447.25px;width:1.3px;height:2.4px;background:#072440"></div><div style="position:absolute;left:333.5px;top:447.25px;width:1.3px;height:2.4px;background:#072440"></div><div style="position:absolute;left:397.3px;top:447.25px;width:1.3px;height:2.4px;background:#072440"></div><div style="position:absolute;left:401.8px;top:447.25px;width:1.3px;height:2.4px;background:#072440"></div><div style="position:absolute;left:5px;top:457.08px;font-size:9px;line-height:9px;height:9px;color:#dfe8f2;font-weight:400;text-align:left;white-space:nowrap;letter-spacing:0px">Gino Boone</div><div style="position:absolute;left:91px;top:454.9px;width:8.84px;height:13px;background:#a63379"></div><div style="position:absolute;left:61.700000000000045px;width:120px;top:457.0px;font-size:9.1px;line-height:9.1px;height:9.1px;color:#e6edf5;font-weight:400;text-align:right;white-space:nowrap;">$30,458.08055</div><div style="position:absolute;left:190.7px;top:454.9px;width:6.14px;height:13px;background:#a63379"></div><div style="position:absolute;left:126px;width:120px;top:457.0px;font-size:9.1px;line-height:9.1px;height:9.1px;color:#e6edf5;font-weight:400;text-align:right;white-space:nowrap;">7,637</div><div style="position:absolute;left:255px;top:454.9px;width:6.86px;height:13px;background:#a63379"></div><div style="position:absolute;left:205px;width:120px;top:457.0px;font-size:9.1px;line-height:9.1px;height:9.1px;color:#e6edf5;font-weight:400;text-align:right;white-space:nowrap;">2,040</div><div style="position:absolute;left:335px;top:454.9px;width:5.64px;height:13px;background:#a63379"></div><div style="position:absolute;left:274px;width:120px;top:457.0px;font-size:9.1px;line-height:9.1px;height:9.1px;color:#e6edf5;font-weight:400;text-align:right;white-space:nowrap;">6,627</div><div style="position:absolute;left:403.3px;top:454.9px;width:7.5px;height:13px;background:#a63379"></div><div style="position:absolute;left:391px;width:80px;top:457.0px;font-size:9.1px;line-height:9.1px;height:9.1px;color:#e6edf5;font-weight:400;text-align:right;white-space:nowrap;">$3,850</div><div style="position:absolute;left:0px;top:472.2px;width:460px;height:2.4px;background:#a8bedb"></div><div style="position:absolute;left:85px;top:472.2px;width:1.3px;height:2.4px;background:#072440"></div><div style="position:absolute;left:89.5px;top:472.2px;width:1.3px;height:2.4px;background:#072440"></div><div style="position:absolute;left:184.7px;top:472.2px;width:1.3px;height:2.4px;background:#072440"></div><div style="position:absolute;left:189.2px;top:472.2px;width:1.3px;height:2.4px;background:#072440"></div><div style="position:absolute;left:249px;top:472.2px;width:1.3px;height:2.4px;background:#072440"></div><div style="position:absolute;left:253.5px;top:472.2px;width:1.3px;height:2.4px;background:#072440"></div><div style="position:absolute;left:329px;top:472.2px;width:1.3px;height:2.4px;background:#072440"></div><div style="position:absolute;left:333.5px;top:472.2px;width:1.3px;height:2.4px;background:#072440"></div><div style="position:absolute;left:397.3px;top:472.2px;width:1.3px;height:2.4px;background:#072440"></div><div style="position:absolute;left:401.8px;top:472.2px;width:1.3px;height:2.4px;background:#072440"></div></div><div style="position:absolute;left:720px;top:765.5px;width:461px;height:1px;background:#2f64a8"></div><div style="position:absolute;left:725px;top:772.66px;font-size:9.5px;line-height:9.5px;height:9.5px;color:#e6edf5;font-weight:700;text-align:left;white-space:nowrap;">Total</div><div style="position:absolute;left:751.7px;width:150px;top:772.66px;font-size:9.5px;line-height:9.5px;height:9.5px;color:#e6edf5;font-weight:700;text-align:right;white-space:nowrap;">$2,355,100.3376855</div><div style="position:absolute;left:886px;width:80px;top:772.66px;font-size:9.5px;line-height:9.5px;height:9.5px;color:#e6edf5;font-weight:700;text-align:right;white-space:nowrap;">721,614</div><div style="position:absolute;left:965px;width:80px;top:772.66px;font-size:9.5px;line-height:9.5px;height:9.5px;color:#e6edf5;font-weight:700;text-align:right;white-space:nowrap;">166,039</div><div style="position:absolute;left:1034px;width:80px;top:772.66px;font-size:9.5px;line-height:9.5px;height:9.5px;color:#e6edf5;font-weight:700;text-align:right;white-space:nowrap;">550,421</div><div style="position:absolute;left:1120px;top:770px;width:60px;height:16px;overflow:hidden"><div style="position:absolute;left:-8px;width:80px;top:2.66px;font-size:9.5px;line-height:9.5px;height:9.5px;color:#e6edf5;font-weight:700;text-align:right;white-space:nowrap;">$171,301</div></div><div style="position:absolute;left:1180px;top:247px;width:8px;height:540px;background:#8795a6;border-radius:4px"></div><div style="position:absolute;left:1181px;top:248px;width:6px;height:501px;background:#474e57;border-radius:3px"></div><div style="position:absolute;left:720px;top:788px;width:460px;height:7.5px;background:#8391a3;border-radius:4px"></div><div style="position:absolute;left:720px;top:788px;width:384px;height:7.5px;background:#3f4b5a;border-radius:4px"></div><svg style="position:absolute;left:1216px;top:173px;" width="12" height="11" viewBox="0 0 12 11"><path d="M6 1L1.5 5.5 6 10M11 1L6.5 5.5 11 10" fill="none" stroke="#323130" stroke-width="1.2"/></svg><svg style="position:absolute;left:1216px;top:201px;" width="14" height="14" viewBox="0 0 14 14"><path d="M12.5 1L6.5 5.8H2.5V7.7H6.5L12.5 12.5Z" fill="none" stroke="#323130" stroke-width="1.2" stroke-linejoin="round"/></svg><div style="position:absolute;left:1213px;top:222px;width:18px;height:50px;"><div style="position:absolute;left:0;top:0;transform-origin:0 0;transform:translate(18px,0) rotate(90deg);font-size:15px;line-height:18px;color:#252423;font-weight:400;white-space:nowrap;letter-spacing:0.6px;-webkit-text-stroke:0.45px #252423">Filters</div></div><div style="position:absolute;left:1192px;top:800px;width:46px;height:35px;background:#f3f2f1"></div><div style="position:absolute;left:1247.5px;top:172.6px;font-size:15px;line-height:15px;height:15px;color:#252423;font-weight:400;text-align:left;white-space:nowrap;letter-spacing:0.45px;-webkit-text-stroke:0.45px #252423">Visualizations</div><svg style="position:absolute;left:1398px;top:173px;" width="13" height="11" viewBox="0 0 13 11"><path d="M1 1l4.5 4.5L1 10M6 1l4.5 4.5L6 10" fill="none" stroke="#323130" stroke-width="1.2"/></svg><div style="position:absolute;left:1428.5px;top:172.6px;font-size:15px;line-height:15px;height:15px;color:#252423;font-weight:400;text-align:left;white-space:nowrap;letter-spacing:0.45px;-webkit-text-stroke:0.45px #252423">Data</div><svg style="position:absolute;left:1579px;top:173px;" width="13" height="11" viewBox="0 0 13 11"><path d="M1 1l4.5 4.5L1 10M6 1l4.5 4.5L6 10" fill="none" stroke="#323130" stroke-width="1.2"/></svg><div style="position:absolute;left:1247.5px;top:199.84px;font-size:12px;line-height:12px;height:12px;color:#252423;font-weight:400;text-align:left;white-space:nowrap;letter-spacing:0.1px;-webkit-text-stroke:0.35px #252423">Build visual</div><div style="position:absolute;left:1247px;top:217px;width:32px;height:32px;background:#d4d2d0;border-radius:3px"></div><svg style="position:absolute;left:1250px;top:220px;" width="26" height="26" viewBox="0 0 26 26"><path d="M3 2h20" stroke="#252423" stroke-width="1.2"/><rect x="3" y="5.5" width="20" height="7" fill="#117865" stroke="#111" stroke-width="0.9" stroke-dasharray="1.2 1"/><rect x="3" y="15" width="20" height="7" fill="#117865" stroke="#111" stroke-width="0.9" stroke-dasharray="1.2 1"/></svg><svg style="position:absolute;left:1316px;top:220px;" width="27" height="26" viewBox="0 0 27 26"><path d="M2 24V1h9l5 5v4" fill="none" stroke="#252423" stroke-width="1.2"/><path d="M11 1v5h5" fill="none" stroke="#252423" stroke-width="1.2"/><path d="M2 24h5" stroke="#252423" stroke-width="1.2"/><path d="M8 23c2 0 3-1 4-3l12-10 2 2-11 11c-2 2-5 1-7 0z" fill="none" stroke="#252423" stroke-width="1.2"/></svg><svg style="position:absolute;left:1238px;top:253px;" width="182" height="9" viewBox="0 0 182 9"><path d="M0 8.5h17l8-7 8 7h149" fill="none" stroke="#c8c6c4" stroke-width="1"/></svg><svg style="position:absolute;left:1250px;top:273.5px;" width="19" height="19" viewBox="0 0 19 19"><path d="M1 0v17h17" fill="none" stroke="#3b3a39" stroke-width="1.1"/><rect x="2" y="2.5" width="5" height="4" fill="#fff" stroke="#3b3a39" stroke-width="1"/><rect x="7" y="2.5" width="6" height="4" fill="#5aa5ea" stroke="#3b3a39" stroke-width="1"/><rect x="2" y="9.5" width="7" height="4" fill="#fff" stroke="#3b3a39" stroke-width="1"/><rect x="9" y="9.5" width="7" height="4" fill="#c3c3c3" stroke="#3b3a39" stroke-width="1"/></svg><svg style="position:absolute;left:1278px;top:273.5px;" width="19" height="19" viewBox="0 0 19 19"><path d="M1 0v17h17" fill="none" stroke="#3b3a39" stroke-width="1.1"/><rect x="4" y="6" width="4" height="6" fill="#5aa5ea" stroke="#3b3a39" stroke-width="1"/><rect x="4" y="12" width="4" height="5" fill="#fff" stroke="#3b3a39" stroke-width="1"/><rect x="11" y="2" width="4" height="6" fill="#c3c3c3" stroke="#3b3a39" stroke-width="1"/><rect x="11" y="8" width="4" height="9" fill="#fff" stroke="#3b3a39" stroke-width="1"/></svg><svg style="position:absolute;left:1306px;top:273.5px;" width="19" height="19" viewBox="0 0 19 19"><path d="M1 0v17h17" fill="none" stroke="#3b3a39" stroke-width="1.1"/><rect x="2" y="1" width="16" height="3" fill="#5aa5ea" stroke="#3b3a39" stroke-width="1"/><rect x="2" y="4.5" width="10" height="3" fill="#fff" stroke="#3b3a39" stroke-width="1"/><rect x="2" y="8" width="7" height="3" fill="#c3c3c3" stroke="#3b3a39" stroke-width="1"/><rect x="2" y="11.5" width="12" height="3" fill="#fff" stroke="#3b3a39" stroke-width="1"/></svg><svg style="position:absolute;left:1334px;top:273.5px;" width="19" height="19" viewBox="0 0 19 19"><path d="M1 0v17h17" fill="none" stroke="#3b3a39" stroke-width="1.1"/><rect x="2" y="1" width="3" height="16" fill="#5aa5ea" stroke="#3b3a39" stroke-width="1"/><rect x="5.5" y="8" width="3" height="9" fill="#fff" stroke="#3b3a39" stroke-width="1"/><rect x="9" y="10" width="3" height="7" fill="#c3c3c3" stroke="#3b3a39" stroke-width="1"/><rect x="12.5" y="5" width="3" height="12" fill="#fff" stroke="#3b3a39" stroke-width="1"/></svg><svg style="position:absolute;left:1362px;top:273.5px;" width="19" height="19" viewBox="0 0 19 19"><path d="M1 0v17h17" fill="none" stroke="#3b3a39" stroke-width="1.1"/><rect x="2" y="2.5" width="5" height="4" fill="#fff" stroke="#3b3a39" stroke-width="1"/><rect x="7" y="2.5" width="9" height="4" fill="#5aa5ea" stroke="#3b3a39" stroke-width="1"/><rect x="2" y="9.5" width="9" height="4" fill="#fff" stroke="#3b3a39" stroke-width="1"/><rect x="11" y="9.5" width="5" height="4" fill="#c3c3c3" stroke="#3b3a39" stroke-width="1"/></svg><svg style="position:absolute;left:1390px;top:273.5px;" width="19" height="19" viewBox="0 0 19 19"><path d="M1 0v17h17" fill="none" stroke="#3b3a39" stroke-width="1.1"/><rect x="4" y="2" width="4" height="11" fill="#5aa5ea" stroke="#3b3a39" stroke-width="1"/><rect x="4" y="13" width="4" height="4" fill="#fff" stroke="#3b3a39" stroke-width="1"/><rect x="11" y="2" width="4" height="5" fill="#c3c3c3" stroke="#3b3a39" stroke-width="1"/><rect x="11" y="7" width="4" height="10" fill="#fff" stroke="#3b3a39" stroke-width="1"/></svg><svg style="position:absolute;left:1250px;top:301.3px;" width="19" height="19" viewBox="0 0 19 19"><path d="M1 0v17h17" fill="none" stroke="#3b3a39" stroke-width="1.1"/><path d="M2 14l5-6 4 4 6-6M2 11l5-6 4 4 6-6" fill="none" stroke="#3b3a39" stroke-width="1"/><path d="M2 15l5-6 4 4 6-6" fill="none" stroke="#5aa5ea" stroke-width="1"/></svg><svg style="position:absolute;left:1278px;top:301.3px;" width="19" height="19" viewBox="0 0 19 19"><path d="M1 17l6-13 5 8 4-10 2 15z" fill="#c3c3c3" stroke="#3b3a39" stroke-width="1"/><path d="M1 17l6-6 4 3 7-4v7z" fill="#5aa5ea"/><path d="M1 17h17" stroke="#3b3a39" stroke-width="1.1"/></svg><svg style="position:absolute;left:1306px;top:301.3px;" width="19" height="19" viewBox="0 0 19 19"><path d="M1 0v17h17" fill="none" stroke="#3b3a39" stroke-width="1.1"/><path d="M2 4l5 6 5-6 5 4v9H2z" fill="#8cc3f2"/><path d="M2 9l5 5 5-5 5 3v5H2z" fill="#5aa5ea"/><path d="M2 4l5 6 5-6 5 4" fill="none" stroke="#2b6cb0" stroke-width="1"/></svg><svg style="position:absolute;left:1334px;top:301.3px;" width="19" height="19" viewBox="0 0 19 19"><path d="M1 0v17h17" fill="none" stroke="#3b3a39" stroke-width="1.1"/><path d="M2 2h15v15H2z" fill="#8cc3f2"/><path d="M2 8l5 5 5-5 5 4v5H2z" fill="#f3f2f1"/><path d="M2 8l5 5 5-5 5 4" fill="none" stroke="#2b6cb0" stroke-width="1"/><path d="M2 2h15" stroke="#2b6cb0"/></svg><svg style="position:absolute;left:1362px;top:301.3px;" width="19" height="19" viewBox="0 0 19 19"><path d="M1 0v17h17" fill="none" stroke="#3b3a39" stroke-width="1.1"/><rect x="5" y="2" width="3" height="15" fill="#5aa5ea" stroke="#3b3a39" stroke-width="1"/><rect x="12" y="3" width="3" height="14" fill="#c3c3c3" stroke="#3b3a39" stroke-width="1"/><path d="M1 15l5-6 4 4 7-7" fill="none" stroke="#3b3a39" stroke-width="1.1"/></svg><svg style="position:absolute;left:1390px;top:301.3px;" width="19" height="19" viewBox="0 0 19 19"><path d="M1 0v17h17" fill="none" stroke="#3b3a39" stroke-width="1.1"/><rect x="3" y="8" width="3" height="9" fill="#5aa5ea" stroke="#3b3a39" stroke-width="1"/><rect x="7" y="1" width="3" height="16" fill="#fff" stroke="#3b3a39" stroke-width="1"/><rect x="11" y="5" width="3" height="12" fill="#c3c3c3" stroke="#3b3a39" stroke-width="1"/><path d="M1 15l5-6 4 4 7-7" fill="none" stroke="#3b3a39" stroke-width="1.1"/></svg><svg style="position:absolute;left:1250px;top:329.1px;" width="19" height="19" viewBox="0 0 19 19"><path d="M1 2l4 4 4-3 4 3 4-3v12l-4 3-4-3-4 3-4-3z" fill="#5aa5ea" stroke="#3b3a39" stroke-width="0.8"/><path d="M1 6l4 4 4-3 4 3 4-3" fill="none" stroke="#e3a12a" stroke-width="1.4"/><path d="M1 0v17h17" fill="none" stroke="#3b3a39" stroke-width="1"/></svg><svg style="position:absolute;left:1278px;top:329.1px;" width="19" height="19" viewBox="0 0 19 19"><path d="M1 0v17h17" fill="none" stroke="#3b3a39" stroke-width="1.1"/><rect x="3" y="10" width="3" height="7" fill="#fff" stroke="#3b3a39" stroke-width="1"/><rect x="6" y="6" width="3" height="6" fill="#fff" stroke="#3b3a39" stroke-width="1"/><rect x="9" y="3" width="3" height="14" fill="#fff" stroke="#3b3a39" stroke-width="1"/><rect x="13" y="1" width="3" height="16" fill="#5aa5ea" stroke="#3b3a39" stroke-width="1"/></svg><svg style="position:absolute;left:1306px;top:329.1px;" width="19" height="19" viewBox="0 0 19 19"><rect x="1" y="1" width="17" height="4.5" fill="#5aa5ea" stroke="#2b6cb0" stroke-width="1"/><rect x="4" y="7" width="11" height="4.5" fill="#5aa5ea" stroke="#2b6cb0" stroke-width="1"/><rect x="6.5" y="12.5" width="6" height="4.5" fill="#5aa5ea" stroke="#2b6cb0" stroke-width="1"/></svg><svg style="position:absolute;left:1334px;top:329.1px;" width="19" height="19" viewBox="0 0 19 19"><path d="M1 0v17h17" fill="none" stroke="#3b3a39" stroke-width="1.1"/><rect x="14" y="1.5" width="3" height="3" fill="#222"/><rect x="5" y="9" width="3" height="3" fill="#8cc3f2"/><rect x="9" y="12" width="3" height="3" fill="#8cc3f2"/><rect x="11" y="6" width="2" height="2" fill="#8cc3f2"/></svg><svg style="position:absolute;left:1362px;top:329.1px;" width="19" height="19" viewBox="0 0 19 19"><circle cx="9" cy="9" r="8" fill="#fff" stroke="#3b3a39" stroke-width="1.1"/><path d="M9 9V1a8 8 0 0 1 5.7 13.7z" fill="#5aa5ea" stroke="#3b3a39" stroke-width="1"/></svg><svg style="position:absolute;left:1390px;top:329.1px;" width="19" height="19" viewBox="0 0 19 19"><circle cx="9" cy="9" r="7.5" fill="none" stroke="#5aa5ea" stroke-width="3.5"/><path d="M9 1.5a7.5 7.5 0 0 1 7.5 7.5" fill="none" stroke="#fff" stroke-width="3.5"/><circle cx="9" cy="9" r="9.2" fill="none" stroke="#3b3a39" stroke-width="0.8"/><circle cx="9" cy="9" r="5.6" fill="none" stroke="#3b3a39" stroke-width="0.8"/></svg><svg style="position:absolute;left:1250px;top:356.9px;" width="19" height="19" viewBox="0 0 19 19"><rect x="1" y="1" width="17" height="17" fill="#fff" stroke="#3b3a39" stroke-width="1"/><rect x="1" y="1" width="8" height="8" fill="#5aa5ea"/><rect x="1" y="9" width="8" height="9" fill="#5aa5ea" stroke="#fff" stroke-width="0.8"/><path d="M9 1v17M9 6h9M13 6v12M9 12h9" stroke="#3b3a39" stroke-width="1"/></svg><svg style="position:absolute;left:1278px;top:356.9px;" width="19" height="19" viewBox="0 0 19 19"><circle cx="9" cy="8" r="7" fill="#5ab55a" stroke="#3b3a39" stroke-width="1.2"/><path d="M6 4c3 1 2 4 4 5s3 3 1 5" fill="none" stroke="#fff" stroke-width="1.5"/><path d="M5 17h8M9 15v2" stroke="#3b3a39" stroke-width="1.2"/></svg><svg style="position:absolute;left:1306px;top:356.9px;" width="19" height="19" viewBox="0 0 19 19"><path d="M1 3l5-2 4 2 5-1 3 3-1 6-4 5-4 1-2-3-5-2z" fill="#c3c3c3" stroke="#3b3a39" stroke-width="1"/><path d="M10 3l5-1 3 3-1 6-4 5-2-2z" fill="#5aa5ea" stroke="#3b3a39" stroke-width="1"/></svg><svg style="position:absolute;left:1334px;top:356.9px;" width="19" height="19" viewBox="0 0 19 19"><path d="M10 0l8 18-8-5-8 5z" fill="#3d8fd1"/><path d="M10 0l-8 18 8-5z" fill="#2b78c2"/></svg><svg style="position:absolute;left:1362px;top:356.9px;" width="19" height="19" viewBox="0 0 19 19"><path d="M1 14a8 8 0 0 1 16 0" fill="none" stroke="#3b3a39" stroke-width="3"/><path d="M2 12a7 7 0 0 1 6-6" fill="none" stroke="#5aa5ea" stroke-width="2"/><path d="M9 14l3-5" stroke="#3b3a39" stroke-width="1.5"/></svg><svg style="position:absolute;left:1390px;top:356.9px;" width="19" height="19" viewBox="0 0 19 19"><rect x="1" y="2" width="17" height="14" fill="#fff" stroke="#3b3a39" stroke-width="1"/><text x="9.5" y="13" font-size="8.5" text-anchor="middle" fill="#3d8fd1" font-family="Liberation Sans">123</text></svg><svg style="position:absolute;left:1250px;top:384.7px;" width="19" height="19" viewBox="0 0 19 19"><rect x="1" y="1" width="17" height="17" fill="#fff" stroke="#3b3a39" stroke-width="1"/><path d="M4 5h11M4 8h7M4 11h11M4 14h7" stroke="#3d8fd1" stroke-width="1.3"/></svg><svg style="position:absolute;left:1278px;top:384.7px;" width="19" height="19" viewBox="0 0 19 19"><rect x="1" y="2" width="17" height="14" fill="#fff" stroke="#3b3a39" stroke-width="1"/><path d="M3.5 10l2.5-4 2.5 4z" fill="#4caf50"/><path d="M10 6h5l-2.5 4z" fill="#e84a4a"/><path d="M3 13h13" stroke="#3b3a39" stroke-width="0.8"/></svg><svg style="position:absolute;left:1306px;top:384.7px;" width="19" height="19" viewBox="0 0 19 19"><rect x="1" y="1" width="17" height="15" fill="#fff" stroke="#3b3a39" stroke-width="1"/><path d="M1 5h17" stroke="#3b3a39"/><rect x="3" y="8" width="3" height="2" fill="#3b3a39"/><rect x="3" y="12" width="3" height="2" fill="#3b3a39"/><path d="M9 8h9l-3.5 4v6l-2-1v-5z" fill="#fff" stroke="#3b3a39" stroke-width="1"/></svg><svg style="position:absolute;left:1334px;top:384.7px;" width="19" height="19" viewBox="0 0 19 19"><rect x="1" y="1" width="17" height="16" fill="#fff" stroke="#3b3a39" stroke-width="1"/><path d="M1 5h17M1 9h17M1 13h17M6.5 1v16M12 1v16" stroke="#3b3a39" stroke-width="1"/></svg><svg style="position:absolute;left:1362px;top:384.7px;" width="19" height="19" viewBox="0 0 19 19"><rect x="1" y="1" width="17" height="16" fill="#5aa5ea" stroke="#3b3a39" stroke-width="1"/><rect x="6.5" y="5" width="5.5" height="4" fill="#fff"/><rect x="12" y="9" width="6" height="4" fill="#fff"/><path d="M1 5h17M1 9h17M1 13h17M6.5 1v16M12 1v16" stroke="#3b3a39" stroke-width="0.9"/></svg><svg style="position:absolute;left:1390px;top:384.7px;" width="19" height="19" viewBox="0 0 19 19"><text x="9" y="15" font-size="15" font-weight="700" text-anchor="middle" fill="#2b78c2" font-family="Liberation Sans">R</text></svg><svg style="position:absolute;left:1250px;top:412.5px;" width="19" height="19" viewBox="0 0 19 19"><text x="9" y="15" font-size="15" font-weight="700" text-anchor="middle" fill="#2b78c2" font-family="Liberation Sans">Py</text></svg><svg style="position:absolute;left:1278px;top:412.5px;" width="19" height="19" viewBox="0 0 19 19"><path d="M1 0v17h17" fill="none" stroke="#3b3a39" stroke-width="1.1"/><path d="M4 5h9M4 10h5M4 14h8" stroke="#3b3a39" stroke-width="1"/><circle cx="15" cy="4" r="2.3" fill="#5aa5ea"/><rect x="8" y="9" width="3" height="2.5" fill="#fff" stroke="#3b3a39" stroke-width="0.8"/></svg><svg style="position:absolute;left:1306px;top:412.5px;" width="19" height="19" viewBox="0 0 19 19"><rect x="1" y="7" width="5" height="4" fill="#5aa5ea" stroke="#2b6cb0" stroke-width="0.8"/><path d="M6 9h4M10 3v12M10 3h2M10 9h2M10 15h2" stroke="#3b3a39" stroke-width="1"/><rect x="12" y="1" width="6" height="4" fill="#5aa5ea" stroke="#2b6cb0" stroke-width="0.8"/><rect x="12" y="7" width="6" height="4" fill="#5aa5ea" stroke="#2b6cb0" stroke-width="0.8"/><rect x="12" y="13" width="6" height="4" fill="#5aa5ea" stroke="#2b6cb0" stroke-width="0.8"/></svg><svg style="position:absolute;left:1334px;top:412.5px;" width="19" height="19" viewBox="0 0 19 19"><path d="M1 2h17v11H8l-4 4v-4H1z" fill="#fff" stroke="#2b78c2" stroke-width="1.2"/></svg><svg style="position:absolute;left:1362px;top:412.5px;" width="19" height="19" viewBox="0 0 19 19"><path d="M3 1h8l5 5v12H3z" fill="#fff" stroke="#3b3a39" stroke-width="1"/><path d="M6 9h7M6 12h7M6 15h4" stroke="#3d8fd1" stroke-width="1.2"/></svg><svg style="position:absolute;left:1390px;top:412.5px;" width="19" height="19" viewBox="0 0 19 19"><path d="M5 1h9v7a4.5 4.5 0 0 1-9 0z" fill="#fff" stroke="#3b3a39" stroke-width="1.2"/><path d="M5 3H2c0 3 1 5 3 5M14 3h3c0 3-1 5-3 5M9.5 12.5v3M6 17h7" fill="none" stroke="#3b3a39" stroke-width="1.2"/><rect x="6" y="15" width="7" height="2.5" fill="#5aa5ea"/></svg><svg style="position:absolute;left:1250px;top:440.3px;" width="19" height="19" viewBox="0 0 19 19"><path d="M2 1h9l5 5v12H2z" fill="#fff" stroke="#3b3a39" stroke-width="1"/><rect x="4" y="12" width="2" height="5" fill="#3b3a39"/><rect x="7.5" y="10" width="2" height="7" fill="#3b3a39"/><rect x="11" y="13" width="2" height="4" fill="#3b3a39"/></svg><svg style="position:absolute;left:1278px;top:440.3px;" width="19" height="19" viewBox="0 0 19 19"><rect x="1" y="3" width="17" height="14" fill="#fff" stroke="#3b3a39" stroke-width="1"/><text x="10.5" y="14" font-size="8" text-anchor="middle" fill="#3d8fd1" font-family="Liberation Sans">123</text><path d="M6 0L1 7h3L2 12l6-8H5l2-4z" fill="#f2a51a"/></svg><svg style="position:absolute;left:1306px;top:440.3px;" width="19" height="19" viewBox="0 0 19 19"><rect x="1" y="1" width="17" height="15" fill="#fff" stroke="#3b3a39" stroke-width="1"/><path d="M1 5h17" stroke="#3b3a39"/><rect x="3" y="8" width="3" height="2" fill="#3b3a39"/><path d="M9 8h9l-3.5 4v6l-2-1v-5z" fill="#fff" stroke="#3b3a39" stroke-width="1"/><path d="M6 0L1 7h3L2 12l6-8H5l2-4z" fill="#f2a51a"/></svg><svg style="position:absolute;left:1334px;top:440.3px;" width="19" height="19" viewBox="0 0 19 19"><path d="M3 1h14v16H3z" fill="#fff" stroke="#3b3a39" stroke-width="1"/><path d="M3 12l5-4 4 3 5-5v11H3z" fill="#5aa5ea"/><rect x="1" y="0" width="5" height="7" rx="1" fill="#f2a51a"/><circle cx="15.5" cy="15.5" r="2.5" fill="#e0792a"/></svg><svg style="position:absolute;left:1362px;top:440.3px;" width="19" height="19" viewBox="0 0 19 19"><path d="M9 1l8 8-8 8-8-8z" fill="none" stroke="#a347c4" stroke-width="1.5"/><path d="M5 5l8 8M13 5l-8 8" stroke="#a347c4" stroke-width="1.3"/></svg><svg style="position:absolute;left:1390px;top:440.3px;" width="19" height="19" viewBox="0 0 19 19"><path d="M1 2h9l7 7-7 7H1l7-7z" fill="#fff" stroke="#2b78c2" stroke-width="1.4"/><path d="M4 9h8" stroke="#2b78c2" stroke-width="1.2"/></svg><svg style="position:absolute;left:1251px;top:475px;" width="16" height="4" viewBox="0 0 16 4"><circle cx="2" cy="2" r="1" fill="#323130"/><circle cx="8" cy="2" r="1" fill="#323130"/><circle cx="14" cy="2" r="1" fill="#323130"/></svg><div style="position:absolute;left:1238px;top:496px;width:182px;height:1px;background:#d9d7d5"></div><div style="position:absolute;left:1251px;top:507.81px;font-size:11.8px;line-height:11.8px;height:11.8px;color:#323130;font-weight:400;text-align:left;white-space:nowrap;">Values</div><div style="position:absolute;left:1244px;top:527.5px;width:169px;height:27px;background:#ffffff;border:1px dashed #c8c6c4;box-sizing:border-box"></div><div style="position:absolute;left:1254px;top:534.97px;font-size:12.2px;line-height:12.2px;height:12.2px;color:#323130;font-weight:400;text-align:left;white-space:nowrap;">Add data fields here</div><div style="position:absolute;left:1251px;top:567.47px;font-size:12.2px;line-height:12.2px;height:12.2px;color:#323130;font-weight:400;text-align:left;white-space:nowrap;letter-spacing:0.2px;-webkit-text-stroke:0.35px #323130">Drill through</div><div style="position:absolute;left:1251px;top:592.84px;font-size:12px;line-height:12px;height:12px;color:#323130;font-weight:400;text-align:left;white-space:nowrap;">Cross-report</div><div style="position:absolute;left:1365px;top:591.5px;width:32px;height:15.5px;background:#fff;border:1px solid #605e5c;border-radius:8px;box-sizing:border-box"></div><svg style="position:absolute;left:1369px;top:595px;" width="8" height="8" viewBox="0 0 8 8"><circle cx="4" cy="4" r="3.6" fill="#605e5c"/></svg><div style="position:absolute;left:1378px;top:594.96px;font-size:9.5px;line-height:9.5px;height:9.5px;color:#605e5c;font-weight:400;text-align:left;white-space:nowrap;">Off</div><div style="position:absolute;left:1251px;top:619.84px;font-size:12px;line-height:12px;height:12px;color:#323130;font-weight:400;text-align:left;white-space:nowrap;">Keep all filters</div><div style="position:absolute;left:1365px;top:618px;width:32px;height:16px;background:#117865;border-radius:8px"></div><div style="position:absolute;left:1369px;top:621.96px;font-size:9.5px;line-height:9.5px;height:9.5px;color:#ffffff;font-weight:700;text-align:left;white-space:nowrap;">On</div><svg style="position:absolute;left:1384px;top:622px;" width="8" height="8" viewBox="0 0 8 8"><circle cx="4" cy="4" r="3.8" fill="#fff"/></svg><div style="position:absolute;left:1244px;top:644px;width:169px;height:26px;background:#ffffff;border:1px dashed #c8c6c4;box-sizing:border-box"></div><div style="position:absolute;left:1252px;top:650.97px;font-size:12.2px;line-height:12.2px;height:12.2px;color:#323130;font-weight:400;text-align:left;white-space:nowrap;">Add drill-through fields here</div><div style="position:absolute;left:1425px;top:205.5px;width:170px;height:23px;background:#fff;border:1px solid #d6d4d2;border-bottom:1.4px solid #8a8886;border-radius:4px;box-sizing:border-box"></div><svg style="position:absolute;left:1436px;top:209px;" width="16" height="16" viewBox="0 0 16 16"><circle cx="6.5" cy="6.5" r="5" fill="none" stroke="#424242" stroke-width="1.2"/><path d="M10 10l4.5 4.5" stroke="#424242" stroke-width="1.3"/></svg><div style="position:absolute;left:1458.8px;top:210.83px;font-size:13.2px;line-height:13.2px;height:13.2px;color:#605e5c;font-weight:400;text-align:left;white-space:nowrap;">Search</div><svg style="position:absolute;left:1435px;top:244.29999999999998px;" width="8" height="12" viewBox="0 0 8 12"><path d="M1.5 1l5 5-5 5" fill="none" stroke="#605e5c" stroke-width="1"/></svg><svg style="position:absolute;left:1449px;top:243.29999999999998px;" width="14" height="14" viewBox="0 0 14 14"><rect x="1" y="1" width="10" height="10" rx="2" fill="none" stroke="#252423" stroke-width="1.1"/><path d="M1 4.5h10M4.5 1v10" stroke="#252423" stroke-width="1"/><rect x="7" y="6" width="6.5" height="7.5" rx="1" fill="#f3f2f2" stroke="#252423" stroke-width="1.1"/><path d="M7 9h6.5M7 11.3h6.5M10.2 6v7.5" stroke="#252423" stroke-width="0.9"/></svg><div style="position:absolute;left:1467.2px;top:244.36px;font-size:12.1px;line-height:12.1px;height:12.1px;color:#323130;font-weight:400;text-align:left;white-space:nowrap;">Calender</div><svg style="position:absolute;left:1435px;top:268.34999999999997px;" width="8" height="12" viewBox="0 0 8 12"><path d="M1.5 1l5 5-5 5" fill="none" stroke="#605e5c" stroke-width="1"/></svg><svg style="position:absolute;left:1449px;top:267.84999999999997px;" width="13" height="13" viewBox="0 0 13 13"><rect x="0.8" y="0.8" width="11.4" height="11.4" rx="2" fill="none" stroke="#252423" stroke-width="1.2"/><path d="M0.8 4.6h11.4M0.8 8.4h11.4M4.6 0.8v11.4M8.4 0.8v11.4" stroke="#252423" stroke-width="1"/></svg><div style="position:absolute;left:1467.2px;top:268.41px;font-size:12.1px;line-height:12.1px;height:12.1px;color:#323130;font-weight:400;text-align:left;white-space:nowrap;">Calender Calculation</div><svg style="position:absolute;left:1435px;top:292.4px;" width="8" height="12" viewBox="0 0 8 12"><path d="M1.5 1l5 5-5 5" fill="none" stroke="#605e5c" stroke-width="1"/></svg><svg style="position:absolute;left:1449px;top:291.9px;" width="13" height="13" viewBox="0 0 13 13"><rect x="0.8" y="0.8" width="11.4" height="11.4" rx="2" fill="none" stroke="#252423" stroke-width="1.2"/><path d="M0.8 4.6h11.4M0.8 8.4h11.4M4.6 0.8v11.4M8.4 0.8v11.4" stroke="#252423" stroke-width="1"/></svg><div style="position:absolute;left:1467.2px;top:292.46px;font-size:12.1px;line-height:12.1px;height:12.1px;color:#323130;font-weight:400;text-align:left;white-space:nowrap;">Cost calculate</div><svg style="position:absolute;left:1435px;top:316.45px;" width="8" height="12" viewBox="0 0 8 12"><path d="M1.5 1l5 5-5 5" fill="none" stroke="#605e5c" stroke-width="1"/></svg><svg style="position:absolute;left:1449px;top:315.95px;" width="13" height="13" viewBox="0 0 13 13"><rect x="0.8" y="0.8" width="11.4" height="11.4" rx="2" fill="none" stroke="#252423" stroke-width="1.2"/><path d="M0.8 4.6h11.4M0.8 8.4h11.4M4.6 0.8v11.4M8.4 0.8v11.4" stroke="#252423" stroke-width="1"/></svg><div style="position:absolute;left:1467.2px;top:316.51px;font-size:12.1px;line-height:12.1px;height:12.1px;color:#323130;font-weight:400;text-align:left;white-space:nowrap;">Customer Calculation</div><svg style="position:absolute;left:1435px;top:340.5px;" width="8" height="12" viewBox="0 0 8 12"><path d="M1.5 1l5 5-5 5" fill="none" stroke="#605e5c" stroke-width="1"/></svg><svg style="position:absolute;left:1449px;top:339.5px;" width="14" height="14" viewBox="0 0 14 14"><rect x="1" y="1" width="10" height="10" rx="2" fill="none" stroke="#252423" stroke-width="1.1"/><path d="M1 4.5h10M4.5 1v10" stroke="#252423" stroke-width="1"/><rect x="7" y="6" width="6.5" height="7.5" rx="1" fill="#f3f2f2" stroke="#252423" stroke-width="1.1"/><path d="M7 9h6.5M7 11.3h6.5M10.2 6v7.5" stroke="#252423" stroke-width="0.9"/></svg><div style="position:absolute;left:1467.2px;top:340.56px;font-size:12.1px;line-height:12.1px;height:12.1px;color:#323130;font-weight:400;text-align:left;white-space:nowrap;">Customers 2</div><svg style="position:absolute;left:1435px;top:364.55px;" width="8" height="12" viewBox="0 0 8 12"><path d="M1.5 1l5 5-5 5" fill="none" stroke="#605e5c" stroke-width="1"/></svg><svg style="position:absolute;left:1449px;top:364.05px;" width="13" height="13" viewBox="0 0 13 13"><rect x="0.8" y="0.8" width="11.4" height="11.4" rx="2" fill="none" stroke="#252423" stroke-width="1.2"/><path d="M0.8 4.6h11.4M0.8 8.4h11.4M4.6 0.8v11.4M8.4 0.8v11.4" stroke="#252423" stroke-width="1"/></svg><div style="position:absolute;left:1467.2px;top:364.61px;font-size:12.1px;line-height:12.1px;height:12.1px;color:#323130;font-weight:400;text-align:left;white-space:nowrap;">Dim-Customer</div><svg style="position:absolute;left:1435px;top:388.59999999999997px;" width="8" height="12" viewBox="0 0 8 12"><path d="M1.5 1l5 5-5 5" fill="none" stroke="#605e5c" stroke-width="1"/></svg><svg style="position:absolute;left:1449px;top:388.09999999999997px;" width="13" height="13" viewBox="0 0 13 13"><rect x="0.8" y="0.8" width="11.4" height="11.4" rx="2" fill="none" stroke="#252423" stroke-width="1.2"/><path d="M0.8 4.6h11.4M0.8 8.4h11.4M4.6 0.8v11.4M8.4 0.8v11.4" stroke="#252423" stroke-width="1"/></svg><div style="position:absolute;left:1467.2px;top:388.66px;font-size:12.1px;line-height:12.1px;height:12.1px;color:#323130;font-weight:400;text-align:left;white-space:nowrap;">Dinamic Titles</div><svg style="position:absolute;left:1435px;top:412.65px;" width="8" height="12" viewBox="0 0 8 12"><path d="M1.5 1l5 5-5 5" fill="none" stroke="#605e5c" stroke-width="1"/></svg><svg style="position:absolute;left:1449px;top:412.15px;" width="13" height="13" viewBox="0 0 13 13"><rect x="0.8" y="0.8" width="11.4" height="11.4" rx="2" fill="none" stroke="#252423" stroke-width="1.2"/><path d="M0.8 4.6h11.4M0.8 8.4h11.4M4.6 0.8v11.4M8.4 0.8v11.4" stroke="#252423" stroke-width="1"/></svg><div style="position:absolute;left:1467.2px;top:412.71px;font-size:12.1px;line-height:12.1px;height:12.1px;color:#323130;font-weight:400;text-align:left;white-space:nowrap;">Dm-Driver</div><svg style="position:absolute;left:1435px;top:436.7px;" width="8" height="12" viewBox="0 0 8 12"><path d="M1.5 1l5 5-5 5" fill="none" stroke="#605e5c" stroke-width="1"/></svg><svg style="position:absolute;left:1449px;top:436.2px;" width="13" height="13" viewBox="0 0 13 13"><rect x="0.8" y="0.8" width="11.4" height="11.4" rx="2" fill="none" stroke="#252423" stroke-width="1.2"/><path d="M0.8 4.6h11.4M0.8 8.4h11.4M4.6 0.8v11.4M8.4 0.8v11.4" stroke="#252423" stroke-width="1"/></svg><div style="position:absolute;left:1467.2px;top:436.76px;font-size:12.1px;line-height:12.1px;height:12.1px;color:#323130;font-weight:400;text-align:left;white-space:nowrap;">Dm-Truck</div><svg style="position:absolute;left:1435px;top:460.75px;" width="8" height="12" viewBox="0 0 8 12"><path d="M1.5 1l5 5-5 5" fill="none" stroke="#605e5c" stroke-width="1"/></svg><svg style="position:absolute;left:1449px;top:460.25px;" width="13" height="13" viewBox="0 0 13 13"><rect x="0.8" y="0.8" width="11.4" height="11.4" rx="2" fill="none" stroke="#252423" stroke-width="1.2"/><path d="M0.8 4.6h11.4M0.8 8.4h11.4M4.6 0.8v11.4M8.4 0.8v11.4" stroke="#252423" stroke-width="1"/></svg><div style="position:absolute;left:1467.2px;top:460.81px;font-size:12.1px;line-height:12.1px;height:12.1px;color:#323130;font-weight:400;text-align:left;white-space:nowrap;">Drever calculation</div><svg style="position:absolute;left:1435px;top:484.8px;" width="8" height="12" viewBox="0 0 8 12"><path d="M1.5 1l5 5-5 5" fill="none" stroke="#605e5c" stroke-width="1"/></svg><svg style="position:absolute;left:1449px;top:484.3px;" width="13" height="13" viewBox="0 0 13 13"><rect x="0.8" y="0.8" width="11.4" height="11.4" rx="2" fill="none" stroke="#252423" stroke-width="1.2"/><path d="M0.8 4.6h11.4M0.8 8.4h11.4M4.6 0.8v11.4M8.4 0.8v11.4" stroke="#252423" stroke-width="1"/></svg><div style="position:absolute;left:1467.2px;top:484.86px;font-size:12.1px;line-height:12.1px;height:12.1px;color:#323130;font-weight:400;text-align:left;white-space:nowrap;">FactTable-Cost</div><svg style="position:absolute;left:1435px;top:508.85px;" width="8" height="12" viewBox="0 0 8 12"><path d="M1.5 1l5 5-5 5" fill="none" stroke="#605e5c" stroke-width="1"/></svg><svg style="position:absolute;left:1449px;top:508.35px;" width="13" height="13" viewBox="0 0 13 13"><rect x="0.8" y="0.8" width="11.4" height="11.4" rx="2" fill="none" stroke="#252423" stroke-width="1.2"/><path d="M0.8 4.6h11.4M0.8 8.4h11.4M4.6 0.8v11.4M8.4 0.8v11.4" stroke="#252423" stroke-width="1"/></svg><div style="position:absolute;left:1467.2px;top:508.91px;font-size:12.1px;line-height:12.1px;height:12.1px;color:#323130;font-weight:400;text-align:left;white-space:nowrap;">FactTable-Freight</div><svg style="position:absolute;left:1435px;top:532.9000000000001px;" width="8" height="12" viewBox="0 0 8 12"><path d="M1.5 1l5 5-5 5" fill="none" stroke="#605e5c" stroke-width="1"/></svg><svg style="position:absolute;left:1449px;top:532.4000000000001px;" width="13" height="13" viewBox="0 0 13 13"><rect x="0.8" y="0.8" width="11.4" height="11.4" rx="2" fill="none" stroke="#252423" stroke-width="1.2"/><path d="M0.8 4.6h11.4M0.8 8.4h11.4M4.6 0.8v11.4M8.4 0.8v11.4" stroke="#252423" stroke-width="1"/></svg><div style="position:absolute;left:1467.2px;top:532.96px;font-size:12.1px;line-height:12.1px;height:12.1px;color:#323130;font-weight:400;text-align:left;white-space:nowrap;">formatting calculations</div><svg style="position:absolute;left:1435px;top:556.95px;" width="8" height="12" viewBox="0 0 8 12"><path d="M1.5 1l5 5-5 5" fill="none" stroke="#605e5c" stroke-width="1"/></svg><svg style="position:absolute;left:1449px;top:556.45px;" width="13" height="13" viewBox="0 0 13 13"><rect x="0.8" y="0.8" width="11.4" height="11.4" rx="2" fill="none" stroke="#252423" stroke-width="1.2"/><path d="M0.8 4.6h11.4M0.8 8.4h11.4M4.6 0.8v11.4M8.4 0.8v11.4" stroke="#252423" stroke-width="1"/></svg><div style="position:absolute;left:1467.2px;top:557.01px;font-size:12.1px;line-height:12.1px;height:12.1px;color:#323130;font-weight:400;text-align:left;white-space:nowrap;">Main calculation</div><svg style="position:absolute;left:14px;top:173px;" width="15" height="15" viewBox="0 0 15 15"><path d="M0.6 0v13.4H14" fill="none" stroke="#201f1e" stroke-width="1.1"/><rect x="2.8" y="3.5" width="2.6" height="8.5" fill="none" stroke="#201f1e" stroke-width="0.9"/><rect x="7" y="6" width="2.6" height="6" fill="none" stroke="#201f1e" stroke-width="0.9"/><rect x="11" y="1.5" width="2.6" height="10.5" fill="none" stroke="#201f1e" stroke-width="0.9"/></svg><svg style="position:absolute;left:12px;top:211px;" width="18" height="17" viewBox="0 0 18 17"><rect x="1" y="1" width="15" height="15" fill="none" stroke="#616161" stroke-width="1.1"/><path d="M1 4h15M1 8h15M1 12h15M6 4v12M11 4v12" stroke="#616161" stroke-width="1"/></svg><svg style="position:absolute;left:12px;top:251px;" width="18" height="18" viewBox="0 0 18 18"><rect x="1" y="5" width="6" height="8" fill="none" stroke="#616161" stroke-width="1.1"/><rect x="9" y="1" width="7" height="5" fill="none" stroke="#616161" stroke-width="1.1"/><rect x="9" y="7" width="7" height="5" fill="none" stroke="#616161" stroke-width="1.1"/><rect x="9" y="13" width="7" height="4" fill="none" stroke="#616161" stroke-width="1.1"/><path d="M7 9h2M7 6h2" stroke="#616161"/></svg><svg style="position:absolute;left:10px;top:291px;" width="18" height="18" viewBox="0 0 18 18"><path d="M4 1h7l4 4v7" fill="none" stroke="#616161" stroke-width="1.1"/><path d="M11 1v4h4" fill="none" stroke="#616161" stroke-width="1"/><path d="M4 1v7" stroke="#616161" stroke-width="1.1"/><text x="0.5" y="16" font-size="6.5" fill="#616161" font-family="Liberation Sans">DAX</text></svg><svg style="position:absolute;left:52px;top:806px;" width="21" height="16" viewBox="0 0 21 16"><rect x="1" y="1" width="19" height="11" fill="none" stroke="#424242" stroke-width="1.2"/><path d="M10.5 12v2.5M6 14.5h9" stroke="#424242" stroke-width="1.2"/></svg><div style="position:absolute;left:51px;top:828px;width:24px;height:2.5px;background:#117865;border-radius:1px"></div><svg style="position:absolute;left:100px;top:804px;" width="14" height="21" viewBox="0 0 14 21"><rect x="1" y="1" width="11.5" height="19" rx="1.5" fill="none" stroke="#424242" stroke-width="1.2"/><rect x="5.5" y="16" width="2.5" height="1.2" fill="#424242"/></svg><svg style="position:absolute;left:134px;top:814px;" width="6" height="8" viewBox="0 0 6 8"><path d="M5 0v8L0 4z" fill="#c8c6c4"/></svg><svg style="position:absolute;left:156px;top:814px;" width="6" height="8" viewBox="0 0 6 8"><path d="M0 0v8l5-4z" fill="#c8c6c4"/></svg><div style="position:absolute;left:168px;top:800px;width:1px;height:35px;background:#e1dfdd"></div><div style="position:absolute;left:241px;top:800px;width:1px;height:35px;background:#e1dfdd"></div><div style="position:absolute;left:331.5px;top:800px;width:1px;height:35px;background:#e1dfdd"></div><div style="position:absolute;left:410.5px;top:800px;width:1px;height:35px;background:#e1dfdd"></div><div style="position:absolute;left:508.5px;top:800px;width:1px;height:35px;background:#e1dfdd"></div><div style="position:absolute;left:635px;top:800px;width:1px;height:35px;background:#e1dfdd"></div><div style="position:absolute;left:766px;top:800px;width:1px;height:35px;background:#e1dfdd"></div><div style="position:absolute;left:165.0px;width:80px;top:813.14px;font-size:12px;line-height:12px;height:12px;color:#323130;font-weight:400;text-align:center;white-space:nowrap;">Home</div><div style="position:absolute;left:246.5px;width:80px;top:813.14px;font-size:12px;line-height:12px;height:12px;color:#323130;font-weight:400;text-align:center;white-space:nowrap;">Overveiw</div><div style="position:absolute;left:331.0px;width:80px;top:813.14px;font-size:12px;line-height:12px;height:12px;color:#201f1e;font-weight:400;text-align:center;white-space:nowrap;-webkit-text-stroke:0.2px #201f1e">Drivers</div><svg style="position:absolute;left:400px;top:806px;" width="7" height="7" viewBox="0 0 7 7"><path d="M0.5 0.5l6 6M6.5 0.5l-6 6" stroke="#201f1e" stroke-width="1.1"/></svg><div style="position:absolute;left:331.5px;top:831px;width:79px;height:4px;background:#117865"></div><div style="position:absolute;left:419.0px;width:80px;top:813.14px;font-size:12px;line-height:12px;height:12px;color:#323130;font-weight:400;text-align:center;white-space:nowrap;">Customers</div><svg style="position:absolute;left:519px;top:812px;" width="16" height="14" viewBox="0 0 16 14"><path d="M1 7c2-3 4-5 7-5s5 2 7 5c-2 3-4 5-7 5s-5-2-7-5z" fill="none" stroke="#605e5c" stroke-width="1"/><circle cx="8" cy="7" r="2.2" fill="none" stroke="#605e5c" stroke-width="1"/><path d="M2 1l12 12" stroke="#605e5c" stroke-width="1"/></svg><div style="position:absolute;left:537px;top:813.14px;font-size:12px;line-height:12px;height:12px;color:#323130;font-weight:400;text-align:left;white-space:nowrap;">Direvers tooltips</div><svg style="position:absolute;left:647px;top:812px;" width="16" height="14" viewBox="0 0 16 14"><path d="M1 7c2-3 4-5 7-5s5 2 7 5c-2 3-4 5-7 5s-5-2-7-5z" fill="none" stroke="#605e5c" stroke-width="1"/><circle cx="8" cy="7" r="2.2" fill="none" stroke="#605e5c" stroke-width="1"/><path d="M2 1l12 12" stroke="#605e5c" stroke-width="1"/></svg><div style="position:absolute;left:664px;top:813.14px;font-size:12px;line-height:12px;height:12px;color:#323130;font-weight:400;text-align:left;white-space:nowrap;">Revenue tooltips</div><div style="position:absolute;left:785px;top:813.14px;font-size:12px;line-height:12px;height:12px;color:#323130;font-weight:400;text-align:left;white-space:nowrap;">Rocommendation</div><div style="position:absolute;left:901px;top:800px;width:39px;height:35px;background:#117865"></div><svg style="position:absolute;left:914px;top:811px;" width="13" height="13" viewBox="0 0 13 13"><path d="M6.5 1v11M1 6.5h11" stroke="#fff" stroke-width="2"/></svg><div style="position:absolute;left:4.5px;top:842.77px;font-size:11.5px;line-height:11.5px;height:11.5px;color:#605e5c;font-weight:400;text-align:left;white-space:nowrap;">Page 3 of 7</div><div style="position:absolute;left:1196px;top:841.84px;font-size:12px;line-height:12px;height:12px;color:#605e5c;font-weight:400;text-align:left;white-space:nowrap;">-</div><div style="position:absolute;left:1205px;top:846.5px;width:100px;height:1px;background:#8a8886"></div><div style="position:absolute;left:1247px;top:841.5px;width:4px;height:11px;background:#605e5c"></div><div style="position:absolute;left:1255px;top:843.5px;width:1px;height:6px;background:#8a8886"></div><div style="position:absolute;left:1311px;top:841.92px;font-size:12.5px;line-height:12.5px;height:12.5px;color:#605e5c;font-weight:400;text-align:left;white-space:nowrap;">+</div><div style="position:absolute;left:1332px;top:842.6px;font-size:11.7px;line-height:11.7px;height:11.7px;color:#605e5c;font-weight:400;text-align:left;white-space:nowrap;">89%</div><svg style="position:absolute;left:1374px;top:842px;" width="17" height="12" viewBox="0 0 17 12"><rect x="0.5" y="0.5" width="16" height="11" fill="none" stroke="#605e5c" stroke-width="1"/><path d="M2.5 5V2.5H5M12 2.5h2.5V5M14.5 7v2.5H12M5 9.5H2.5V7" fill="none" stroke="#605e5c" stroke-width="0.9"/></svg><div style="position:absolute;left:1404px;top:842.34px;font-size:12px;line-height:12px;height:12px;color:#605e5c;font-weight:400;text-align:left;white-space:nowrap;">Update available (click to download)</div><svg style="position:absolute;left:16px;top:872px;" width="18" height="17" viewBox="0 0 18 17"><path d="M0 2.5l7.3-1v7H0zM8.3 1.3L18 0v8.5H8.3zM0 9.5h7.3v7L0 15.5zM8.3 9.5H18V18l-9.7-1.3z" fill="#fff"/></svg><div style="position:absolute;left:48px;top:860px;width:343px;height:40px;background:#333333;border:1px solid #4a4a4a;box-sizing:border-box"></div><svg style="position:absolute;left:60px;top:870px;" width="18" height="19" viewBox="0 0 18 19"><circle cx="11" cy="7" r="6" fill="none" stroke="#e8e8e8" stroke-width="1.3"/><path d="M6.8 11.3L1 17.5" stroke="#e8e8e8" stroke-width="1.4"/></svg><div style="position:absolute;left:88px;top:873.81px;font-size:14.4px;line-height:14.4px;height:14.4px;color:#d6d6d6;font-weight:400;text-align:left;white-space:nowrap;">Type here to search</div><svg style="position:absolute;left:407px;top:871px;" width="19" height="17" viewBox="0 0 19 17"><rect x="1" y="4" width="12" height="9" fill="none" stroke="#fff" stroke-width="1.3"/><path d="M1 1h12M1 16h12M16 1v15" stroke="#fff" stroke-width="1.3"/></svg><svg style="position:absolute;left:454px;top:867px;" width="25" height="25" viewBox="0 0 25 25"><defs><linearGradient id="eg" x1="0" y1="0" x2="0.3" y2="1"><stop offset="0" stop-color="#2fa6ea"/><stop offset="1" stop-color="#0c5bb0"/></linearGradient><linearGradient id="eg2" x1="0" y1="0" x2="1" y2="1"><stop offset="0" stop-color="#35c0e8"/><stop offset="1" stop-color="#5fd36b"/></linearGradient></defs><circle cx="12.5" cy="12.5" r="12" fill="url(#eg)"/><path d="M3 9C5 3 11 0.5 16 1c5 1 8.5 5 8.5 10 0 3.5-2.5 5-5.5 5h-6c-1 -3 1-6 4-6.5C14 6 8 5 3 9z" fill="url(#eg2)"/><path d="M1.5 13c0 7 6 11.5 12 11.5-4-1.5-7-5.5-6.5-10C7.5 10 10 8 13 8 8 7 2 9 1.5 13z" fill="#0a4d98"/></svg><svg style="position:absolute;left:503px;top:869px;" width="26" height="22" viewBox="0 0 26 22"><path d="M1 9L13 1l12 8v12H1z" fill="#1f8fe0"/><path d="M1 9l12 8 12-8" fill="#6cc4f7"/><path d="M1 21l10-8h4l10 8z" fill="#3aa6ef"/></svg><svg style="position:absolute;left:552px;top:867px;" width="25" height="25" viewBox="0 0 25 25"><rect x="0.5" y="0.5" width="24" height="24" rx="4" fill="#fff"/><rect x="4" y="9" width="17" height="4" fill="#c42b2b"/><rect x="5" y="13" width="15" height="8" fill="#c42b2b"/><path d="M12.5 9v12" stroke="#fff" stroke-width="2"/><path d="M12.5 9c-3-5-7-4-6-1M12.5 9c3-5 7-4 6-1" fill="none" stroke="#c42b2b" stroke-width="1.5"/></svg><svg style="position:absolute;left:601px;top:868px;" width="25" height="25" viewBox="0 0 25 25"><circle cx="12.5" cy="12.5" r="12" fill="#dd4b3e"/><path d="M12.5 12.5L2 6.5A12 12 0 0 0 9 24z" fill="#1da462"/><path d="M12.5 12.5L9 24A12 12 0 0 0 24.5 12.5 12 12 0 0 0 23 6.5z" fill="#ffcd40"/><path d="M12.5 6.5h10.5A12 12 0 0 0 2 6.5l5.3 9.2" fill="#dd4b3e"/><circle cx="12.5" cy="12.5" r="5.5" fill="#fff"/><circle cx="12.5" cy="12.5" r="4.2" fill="#4a8af4"/></svg><svg style="position:absolute;left:650px;top:868px;" width="26" height="25" viewBox="0 0 26 25"><path d="M10 1L24 3L22.5 13.5L8.5 11.5Z" fill="#2447d0" stroke="#d8dde3" stroke-width="1.2"/><path d="M12 4l8 1.5-3 6z" fill="#5a7cf0"/><path d="M1 14L14 12L25 15V21.5L11 24.5L1 21.5Z" fill="#c3c8ce"/><path d="M1 14l10 3 14-2M11 17v7.5" fill="none" stroke="#8b9096" stroke-width="0.9"/><path d="M3 18l6 2M3 20.5l6 2" stroke="#9aa0a6" stroke-width="0.8"/></svg><svg style="position:absolute;left:699px;top:868px;" width="26" height="24" viewBox="0 0 26 24"><rect x="3" y="3" width="22" height="20" rx="2" fill="#1f7ad8"/><rect x="0" y="8" width="13" height="14" rx="1" fill="#0f5cb8"/><path d="M4 11v8l6-4z" fill="#fff"/><path d="M12 1h12v5H12z" fill="#39a3f2"/></svg><svg style="position:absolute;left:749px;top:870px;" width="26" height="21" viewBox="0 0 26 21"><path d="M1 3h9l2 3h13v14H1z" fill="#f9c62b"/><path d="M1 8h24v12H1z" fill="#fcd65a"/><rect x="8" y="11" width="10" height="3" fill="#2d8ae0"/></svg><svg style="position:absolute;left:797px;top:867px;" width="25" height="25" viewBox="0 0 25 25"><rect x="1" y="1" width="23" height="23" rx="2" fill="#2a86db"/><path d="M3 22L22 5v17z" fill="#1b5fb0"/><circle cx="16" cy="8" r="2.5" fill="#d7ecff"/></svg><div style="position:absolute;left:834.5px;top:860px;width:48px;height:40px;background:#3c3c3c"></div><svg style="position:absolute;left:847px;top:867px;" width="22" height="25" viewBox="0 0 22 25"><rect x="13" y="0" width="7" height="24" rx="1" fill="#e8a600"/><rect x="7" y="6" width="7" height="18" rx="1" fill="#f2c811"/><rect x="1" y="12" width="7" height="12" rx="1" fill="#f8dc5c"/></svg><div style="position:absolute;left:594px;top:897px;width:40px;height:3px;background:#5bb35b"></div><div style="position:absolute;left:643px;top:897px;width:40px;height:3px;background:#5bb35b"></div><div style="position:absolute;left:693px;top:897px;width:39px;height:3px;background:#5bb35b"></div><div style="position:absolute;left:741px;top:897px;width:40px;height:3px;background:#5bb35b"></div><div style="position:absolute;left:790px;top:897px;width:40px;height:3px;background:#5bb35b"></div><div style="position:absolute;left:835px;top:897px;width:47px;height:3px;background:#5bb35b"></div><div style="position:absolute;left:1250px;top:874.84px;font-size:12px;line-height:12px;height:12px;color:#ffffff;font-weight:400;text-align:left;white-space:nowrap;">OL</div><svg style="position:absolute;left:1272px;top:872px;" width="18" height="15" viewBox="0 0 18 15"><path d="M10 4c0-2 2-3 4-3" fill="none" stroke="#9a9a9a" stroke-width="1.1"/><rect x="1" y="5" width="16" height="9" rx="1.5" fill="#9a9a9a"/><path d="M3 8h12M3 11h12" stroke="#333" stroke-width="0.9" stroke-dasharray="1.2 1"/></svg><svg style="position:absolute;left:1315px;top:871px;" width="16" height="18" viewBox="0 0 16 18"><circle cx="5.5" cy="8" r="2.8" fill="none" stroke="#fff" stroke-width="1.2"/><path d="M1 17c0-3 2-5 4.5-5S10 14 10 17" fill="none" stroke="#fff" stroke-width="1.2"/><circle cx="11" cy="4" r="2.6" fill="none" stroke="#fff" stroke-width="1.2"/><path d="M8.5 9c1-1 1.5-1.5 2.5-1.5 2.5 0 4 2 4 5" fill="none" stroke="#fff" stroke-width="1.2"/></svg><svg style="position:absolute;left:1352px;top:874px;" width="14" height="9" viewBox="0 0 14 9"><path d="M1 8l6-6 6 6" fill="none" stroke="#fff" stroke-width="1.3"/></svg><svg style="position:absolute;left:1376px;top:874px;" width="15" height="10" viewBox="0 0 15 10"><rect x="1" y="1" width="12" height="8" fill="none" stroke="#fff" stroke-width="1.2"/><rect x="2.5" y="2.5" width="5" height="5" fill="#fff"/><rect x="13" y="3.5" width="1.8" height="3" fill="#fff"/></svg><svg style="position:absolute;left:1398px;top:872px;" width="18" height="14" viewBox="0 0 18 14"><path d="M1 5h3l4-4v12L4 9H1z" fill="none" stroke="#fff" stroke-width="1.1"/><path d="M10.5 4.5a3.5 3.5 0 0 1 0 5M12.5 2.5a6.5 6.5 0 0 1 0 9M14.5 1a9 9 0 0 1 0 12" fill="none" stroke="#fff" stroke-width="1.1"/></svg><svg style="position:absolute;left:1427px;top:871px;" width="17" height="17" viewBox="0 0 17 17"><path d="M14 1l2 2-9 9-3 1 1-3z" fill="none" stroke="#fff" stroke-width="1.2"/><path d="M2 16c2-1 3-4 5-4 1 0 0 2 2 2s2-2 3-2" fill="none" stroke="#fff" stroke-width="1.1"/></svg><svg style="position:absolute;left:1455px;top:873px;" width="24" height="13" viewBox="0 0 24 13"><rect x="1" y="1" width="22" height="11" fill="none" stroke="#fff" stroke-width="1.2"/><path d="M3.5 4h17M3.5 6.5h17" stroke="#fff" stroke-width="1" stroke-dasharray="1.3 1"/><path d="M6 9.5h12" stroke="#fff" stroke-width="1.1"/></svg><div style="position:absolute;left:1493px;top:867.19px;font-size:11px;line-height:11px;height:11px;color:#ffffff;font-weight:400;text-align:left;white-space:nowrap;letter-spacing:0.2px">10:41</div><svg style="position:absolute;left:1524px;top:867px;" width="14" height="12" viewBox="0 0 14 12"><path d="M5 7C7 2 12 1 12.5 4.5 13 7 9 7 5 7M5 7C5 10.5 1 10.5 1 7" fill="none" stroke="#fff" stroke-width="1.15" stroke-linecap="round"/></svg><div style="position:absolute;left:1489px;top:883.84px;font-size:12px;line-height:12px;height:12px;color:#ffffff;font-weight:400;text-align:left;white-space:nowrap;">2025/1/11</div><svg style="position:absolute;left:1559px;top:872px;" width="17" height="16" viewBox="0 0 17 16"><path d="M1 1h15v11H10l-2 3-2-3H1z" fill="none" stroke="#fff" stroke-width="1.2"/></svg><div style="position:absolute;left:1596px;top:859px;width:1.5px;height:41px;background:#8a8a8a"></div><svg style="position:absolute;left:0px;top:0px;pointer-events:none" width="1600" height="900" viewBox="0 0 1600 900"><g opacity="0.55"><g fill="none" stroke="#c3c3c3" stroke-width="10" stroke-linecap="round" stroke-linejoin="round"><path d="M711 826c-3 10-1 21 10 21h20c6 0 7-4 7-10"/><path d="M779 806v41h-30"/><path d="M805 826v21h-26"/><path d="M805 847h40c6 0 7-6 7-10 0-7-4-10-9-10s-9 3-9 10c0 6 4 10 11 10h25c8 0 12-6 12-13v-12"/></g><g fill="#c3c3c3"><circle cx="810" cy="806" r="5.5"/><circle cx="860" cy="806" r="5.5"/><circle cx="889" cy="806" r="5.5"/></g></g><g fill="rgba(200,200,200,0.8)"><circle cx="724" cy="863" r="4.5"/><circle cx="739" cy="863" r="4.5"/></g></svg><div style="position:absolute;left:650.0px;width:300px;top:865.91px;font-size:32px;line-height:32px;height:32px;color:rgba(205,205,205,0.82);font-weight:700;text-align:center;white-space:nowrap;letter-spacing:-0.6px">nafezly.com</div>
</body></html>
